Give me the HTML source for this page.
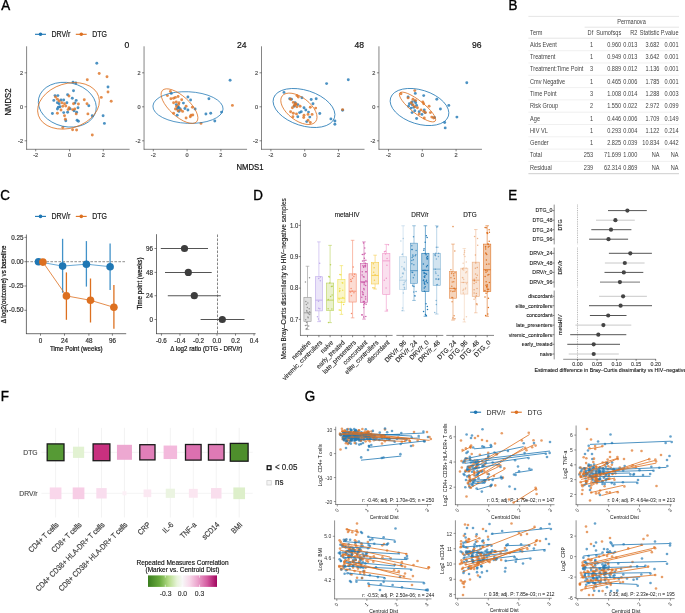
<!DOCTYPE html><html><head><meta charset="utf-8"><style>html,body{margin:0;padding:0;background:#fff;}svg{display:block;will-change:transform;}svg text{font-family:"Liberation Sans",sans-serif;}</style></head><body><svg width="685" height="613" viewBox="0 0 685 613"><rect width="685" height="613" fill="#fff"/>
<circle cx="96.8" cy="63.3" r="1.45" fill="rgba(31,119,180,0.800)"/>
<circle cx="73" cy="82.1" r="1.45" fill="rgba(31,119,180,0.800)"/>
<circle cx="75.8" cy="83" r="1.45" fill="rgba(31,119,180,0.800)"/>
<circle cx="73.5" cy="90.7" r="1.45" fill="rgba(31,119,180,0.800)"/>
<circle cx="108" cy="87" r="1.45" fill="rgba(31,119,180,0.800)"/>
<circle cx="55" cy="95.6" r="1.45" fill="rgba(31,119,180,0.800)"/>
<circle cx="57.9" cy="95.6" r="1.45" fill="rgba(31,119,180,0.800)"/>
<circle cx="67.6" cy="94.7" r="1.45" fill="rgba(31,119,180,0.800)"/>
<circle cx="72.3" cy="98.3" r="1.45" fill="rgba(31,119,180,0.800)"/>
<circle cx="53.8" cy="100.4" r="1.45" fill="rgba(31,119,180,0.800)"/>
<circle cx="76.2" cy="100.4" r="1.45" fill="rgba(31,119,180,0.800)"/>
<circle cx="61" cy="100" r="1.45" fill="rgba(31,119,180,0.800)"/>
<circle cx="63.7" cy="100" r="1.45" fill="rgba(31,119,180,0.800)"/>
<circle cx="57.4" cy="102.8" r="1.45" fill="rgba(31,119,180,0.800)"/>
<circle cx="59.2" cy="103.7" r="1.45" fill="rgba(31,119,180,0.800)"/>
<circle cx="66.9" cy="102.8" r="1.45" fill="rgba(31,119,180,0.800)"/>
<circle cx="75" cy="103" r="1.45" fill="rgba(31,119,180,0.800)"/>
<circle cx="78" cy="107.8" r="1.45" fill="rgba(31,119,180,0.800)"/>
<circle cx="88.8" cy="105.8" r="1.45" fill="rgba(31,119,180,0.800)"/>
<circle cx="58.3" cy="107.2" r="1.45" fill="rgba(31,119,180,0.800)"/>
<circle cx="60" cy="106.7" r="1.45" fill="rgba(31,119,180,0.800)"/>
<circle cx="57.4" cy="109" r="1.45" fill="rgba(31,119,180,0.800)"/>
<circle cx="70" cy="108.7" r="1.45" fill="rgba(31,119,180,0.800)"/>
<circle cx="74" cy="110.8" r="1.45" fill="rgba(31,119,180,0.800)"/>
<circle cx="76.6" cy="112.3" r="1.45" fill="rgba(31,119,180,0.800)"/>
<circle cx="52.4" cy="113.5" r="1.45" fill="rgba(31,119,180,0.800)"/>
<circle cx="63.7" cy="112.6" r="1.45" fill="rgba(31,119,180,0.800)"/>
<circle cx="67.6" cy="112.3" r="1.45" fill="rgba(31,119,180,0.800)"/>
<circle cx="92.3" cy="115.8" r="1.45" fill="rgba(31,119,180,0.800)"/>
<circle cx="103.1" cy="115.8" r="1.45" fill="rgba(31,119,180,0.800)"/>
<circle cx="65.8" cy="120.7" r="1.45" fill="rgba(31,119,180,0.800)"/>
<circle cx="77.1" cy="120.3" r="1.45" fill="rgba(31,119,180,0.800)"/>
<circle cx="78.4" cy="121.2" r="1.45" fill="rgba(31,119,180,0.800)"/>
<circle cx="104.4" cy="123.4" r="1.45" fill="rgba(31,119,180,0.800)"/>
<circle cx="99.2" cy="73.5" r="1.45" fill="rgba(221,112,32,0.800)"/>
<circle cx="107" cy="76.8" r="1.45" fill="rgba(221,112,32,0.800)"/>
<circle cx="87.3" cy="79.8" r="1.45" fill="rgba(221,112,32,0.800)"/>
<circle cx="108" cy="92" r="1.45" fill="rgba(221,112,32,0.800)"/>
<circle cx="69" cy="96" r="1.45" fill="rgba(221,112,32,0.800)"/>
<circle cx="101.3" cy="97.4" r="1.45" fill="rgba(221,112,32,0.800)"/>
<circle cx="111.2" cy="101.3" r="1.45" fill="rgba(221,112,32,0.800)"/>
<circle cx="84.3" cy="99.7" r="1.45" fill="rgba(221,112,32,0.800)"/>
<circle cx="55.6" cy="97" r="1.45" fill="rgba(221,112,32,0.800)"/>
<circle cx="57.4" cy="99.2" r="1.45" fill="rgba(221,112,32,0.800)"/>
<circle cx="59.2" cy="101" r="1.45" fill="rgba(221,112,32,0.800)"/>
<circle cx="61.9" cy="102.8" r="1.45" fill="rgba(221,112,32,0.800)"/>
<circle cx="64.5" cy="103.7" r="1.45" fill="rgba(221,112,32,0.800)"/>
<circle cx="73.5" cy="103.7" r="1.45" fill="rgba(221,112,32,0.800)"/>
<circle cx="78.4" cy="104" r="1.45" fill="rgba(221,112,32,0.800)"/>
<circle cx="87" cy="103.7" r="1.45" fill="rgba(221,112,32,0.800)"/>
<circle cx="62.8" cy="106.3" r="1.45" fill="rgba(221,112,32,0.800)"/>
<circle cx="65.8" cy="106" r="1.45" fill="rgba(221,112,32,0.800)"/>
<circle cx="69" cy="107.8" r="1.45" fill="rgba(221,112,32,0.800)"/>
<circle cx="68.1" cy="109.6" r="1.45" fill="rgba(221,112,32,0.800)"/>
<circle cx="61" cy="110" r="1.45" fill="rgba(221,112,32,0.800)"/>
<circle cx="72.6" cy="109.6" r="1.45" fill="rgba(221,112,32,0.800)"/>
<circle cx="74.8" cy="109" r="1.45" fill="rgba(221,112,32,0.800)"/>
<circle cx="57.4" cy="113.2" r="1.45" fill="rgba(221,112,32,0.800)"/>
<circle cx="76.2" cy="113.9" r="1.45" fill="rgba(221,112,32,0.800)"/>
<circle cx="87.9" cy="113.9" r="1.45" fill="rgba(221,112,32,0.800)"/>
<circle cx="64.5" cy="115.7" r="1.45" fill="rgba(221,112,32,0.800)"/>
<circle cx="65.4" cy="119.3" r="1.45" fill="rgba(221,112,32,0.800)"/>
<circle cx="62.8" cy="127.5" r="1.45" fill="rgba(221,112,32,0.800)"/>
<circle cx="72.6" cy="129.7" r="1.45" fill="rgba(221,112,32,0.800)"/>
<circle cx="76.6" cy="130" r="1.45" fill="rgba(221,112,32,0.800)"/>
<circle cx="92.3" cy="135" r="1.45" fill="rgba(221,112,32,0.800)"/>
<ellipse cx="67.3" cy="104.7" rx="29.3" ry="22" transform="rotate(12.7 67.3 104.7)" fill="none" stroke="rgb(31,119,180)" stroke-width="0.75"/>
<ellipse cx="68.5" cy="105.85" rx="31.6" ry="22.3" transform="rotate(-17.3 68.5 105.85)" fill="none" stroke="rgb(221,112,32)" stroke-width="0.75"/>
<circle cx="230.1" cy="80.3" r="1.45" fill="rgba(31,119,180,0.800)"/>
<circle cx="171.3" cy="93.4" r="1.45" fill="rgba(31,119,180,0.800)"/>
<circle cx="187.9" cy="97" r="1.45" fill="rgba(31,119,180,0.800)"/>
<circle cx="190.6" cy="100" r="1.45" fill="rgba(31,119,180,0.800)"/>
<circle cx="208.9" cy="98.8" r="1.45" fill="rgba(31,119,180,0.800)"/>
<circle cx="183.4" cy="103.1" r="1.45" fill="rgba(31,119,180,0.800)"/>
<circle cx="176.3" cy="104.6" r="1.45" fill="rgba(31,119,180,0.800)"/>
<circle cx="178" cy="106.7" r="1.45" fill="rgba(31,119,180,0.800)"/>
<circle cx="177.2" cy="109" r="1.45" fill="rgba(31,119,180,0.800)"/>
<circle cx="184.9" cy="108.5" r="1.45" fill="rgba(31,119,180,0.800)"/>
<circle cx="187.9" cy="110" r="1.45" fill="rgba(31,119,180,0.800)"/>
<circle cx="195.1" cy="109" r="1.45" fill="rgba(31,119,180,0.800)"/>
<circle cx="179" cy="111.4" r="1.45" fill="rgba(31,119,180,0.800)"/>
<circle cx="177.2" cy="115.3" r="1.45" fill="rgba(31,119,180,0.800)"/>
<circle cx="205.9" cy="114" r="1.45" fill="rgba(31,119,180,0.800)"/>
<circle cx="210.7" cy="113.2" r="1.45" fill="rgba(31,119,180,0.800)"/>
<circle cx="221.5" cy="112.1" r="1.45" fill="rgba(31,119,180,0.800)"/>
<circle cx="214.8" cy="121" r="1.45" fill="rgba(31,119,180,0.800)"/>
<circle cx="178.5" cy="107.5" r="1.45" fill="rgba(31,119,180,0.800)"/>
<circle cx="180" cy="108.8" r="1.45" fill="rgba(31,119,180,0.800)"/>
<circle cx="170.9" cy="98.8" r="1.45" fill="rgba(221,112,32,0.800)"/>
<circle cx="173.6" cy="98.3" r="1.45" fill="rgba(221,112,32,0.800)"/>
<circle cx="175.4" cy="97.4" r="1.45" fill="rgba(221,112,32,0.800)"/>
<circle cx="178.1" cy="96.5" r="1.45" fill="rgba(221,112,32,0.800)"/>
<circle cx="181.7" cy="99.7" r="1.45" fill="rgba(221,112,32,0.800)"/>
<circle cx="173.6" cy="102.8" r="1.45" fill="rgba(221,112,32,0.800)"/>
<circle cx="176.3" cy="101.9" r="1.45" fill="rgba(221,112,32,0.800)"/>
<circle cx="179" cy="102.8" r="1.45" fill="rgba(221,112,32,0.800)"/>
<circle cx="186.1" cy="106.3" r="1.45" fill="rgba(221,112,32,0.800)"/>
<circle cx="175.4" cy="109" r="1.45" fill="rgba(221,112,32,0.800)"/>
<circle cx="178" cy="110.8" r="1.45" fill="rgba(221,112,32,0.800)"/>
<circle cx="180.8" cy="110" r="1.45" fill="rgba(221,112,32,0.800)"/>
<circle cx="192.4" cy="107.2" r="1.45" fill="rgba(221,112,32,0.800)"/>
<circle cx="173.6" cy="113.2" r="1.45" fill="rgba(221,112,32,0.800)"/>
<circle cx="182.6" cy="111.4" r="1.45" fill="rgba(221,112,32,0.800)"/>
<circle cx="186.1" cy="118" r="1.45" fill="rgba(221,112,32,0.800)"/>
<circle cx="190.3" cy="116.7" r="1.45" fill="rgba(221,112,32,0.800)"/>
<circle cx="191" cy="115.3" r="1.45" fill="rgba(221,112,32,0.800)"/>
<circle cx="192.8" cy="115" r="1.45" fill="rgba(221,112,32,0.800)"/>
<circle cx="201" cy="123.4" r="1.45" fill="rgba(221,112,32,0.800)"/>
<circle cx="232.4" cy="105.4" r="1.45" fill="rgba(221,112,32,0.800)"/>
<circle cx="167.4" cy="95.6" r="1.45" fill="rgba(221,112,32,0.800)"/>
<circle cx="178.6" cy="104.5" r="1.45" fill="rgba(221,112,32,0.800)"/>
<circle cx="176.5" cy="106.5" r="1.45" fill="rgba(221,112,32,0.800)"/>
<circle cx="170.4" cy="91.4" r="1.45" fill="rgba(221,112,32,0.800)"/>
<ellipse cx="188" cy="107.55" rx="35.1" ry="15.8" transform="rotate(2.5 188 107.55)" fill="none" stroke="rgb(31,119,180)" stroke-width="0.75"/>
<ellipse cx="179.5" cy="106.1" rx="23.2" ry="10" transform="rotate(42.4 179.5 106.1)" fill="none" stroke="rgb(221,112,32)" stroke-width="0.75"/>
<circle cx="348.3" cy="79.8" r="1.45" fill="rgba(31,119,180,0.800)"/>
<circle cx="326.6" cy="83.6" r="1.45" fill="rgba(31,119,180,0.800)"/>
<circle cx="284" cy="92.4" r="1.45" fill="rgba(31,119,180,0.800)"/>
<circle cx="289.7" cy="98.8" r="1.45" fill="rgba(31,119,180,0.800)"/>
<circle cx="291.5" cy="99.2" r="1.45" fill="rgba(31,119,180,0.800)"/>
<circle cx="301.9" cy="97.7" r="1.45" fill="rgba(31,119,180,0.800)"/>
<circle cx="311.2" cy="99.5" r="1.45" fill="rgba(31,119,180,0.800)"/>
<circle cx="316.2" cy="98.8" r="1.45" fill="rgba(31,119,180,0.800)"/>
<circle cx="313" cy="103.7" r="1.45" fill="rgba(31,119,180,0.800)"/>
<circle cx="295.1" cy="102.8" r="1.45" fill="rgba(31,119,180,0.800)"/>
<circle cx="297.8" cy="104.6" r="1.45" fill="rgba(31,119,180,0.800)"/>
<circle cx="294.2" cy="106.3" r="1.45" fill="rgba(31,119,180,0.800)"/>
<circle cx="304" cy="107.8" r="1.45" fill="rgba(31,119,180,0.800)"/>
<circle cx="305.8" cy="110" r="1.45" fill="rgba(31,119,180,0.800)"/>
<circle cx="299.6" cy="112.6" r="1.45" fill="rgba(31,119,180,0.800)"/>
<circle cx="301.3" cy="111.7" r="1.45" fill="rgba(31,119,180,0.800)"/>
<circle cx="308.5" cy="112.1" r="1.45" fill="rgba(31,119,180,0.800)"/>
<circle cx="309.8" cy="117.1" r="1.45" fill="rgba(31,119,180,0.800)"/>
<circle cx="297.8" cy="116.7" r="1.45" fill="rgba(31,119,180,0.800)"/>
<circle cx="319.8" cy="113.5" r="1.45" fill="rgba(31,119,180,0.800)"/>
<circle cx="306.7" cy="121.6" r="1.45" fill="rgba(31,119,180,0.800)"/>
<circle cx="330.9" cy="118.9" r="1.45" fill="rgba(31,119,180,0.800)"/>
<circle cx="334.9" cy="121" r="1.45" fill="rgba(31,119,180,0.800)"/>
<circle cx="334.9" cy="124.3" r="1.45" fill="rgba(31,119,180,0.800)"/>
<circle cx="342.6" cy="110.3" r="1.45" fill="rgba(31,119,180,0.800)"/>
<circle cx="296.9" cy="95.6" r="1.45" fill="rgba(221,112,32,0.800)"/>
<circle cx="298.3" cy="97" r="1.45" fill="rgba(221,112,32,0.800)"/>
<circle cx="290.6" cy="99.2" r="1.45" fill="rgba(221,112,32,0.800)"/>
<circle cx="293.3" cy="102.4" r="1.45" fill="rgba(221,112,32,0.800)"/>
<circle cx="296" cy="103.7" r="1.45" fill="rgba(221,112,32,0.800)"/>
<circle cx="294.2" cy="105.4" r="1.45" fill="rgba(221,112,32,0.800)"/>
<circle cx="296.9" cy="106.7" r="1.45" fill="rgba(221,112,32,0.800)"/>
<circle cx="292.4" cy="107.8" r="1.45" fill="rgba(221,112,32,0.800)"/>
<circle cx="300.1" cy="106.3" r="1.45" fill="rgba(221,112,32,0.800)"/>
<circle cx="310.3" cy="107.2" r="1.45" fill="rgba(221,112,32,0.800)"/>
<circle cx="315.7" cy="108.1" r="1.45" fill="rgba(221,112,32,0.800)"/>
<circle cx="290.6" cy="111.7" r="1.45" fill="rgba(221,112,32,0.800)"/>
<circle cx="293.3" cy="113.2" r="1.45" fill="rgba(221,112,32,0.800)"/>
<circle cx="296.5" cy="113.9" r="1.45" fill="rgba(221,112,32,0.800)"/>
<circle cx="304" cy="115.3" r="1.45" fill="rgba(221,112,32,0.800)"/>
<circle cx="303.7" cy="117.5" r="1.45" fill="rgba(221,112,32,0.800)"/>
<circle cx="308" cy="114.4" r="1.45" fill="rgba(221,112,32,0.800)"/>
<circle cx="312.1" cy="114.4" r="1.45" fill="rgba(221,112,32,0.800)"/>
<circle cx="292.9" cy="116.7" r="1.45" fill="rgba(221,112,32,0.800)"/>
<circle cx="308" cy="120.3" r="1.45" fill="rgba(221,112,32,0.800)"/>
<circle cx="310.3" cy="122.5" r="1.45" fill="rgba(221,112,32,0.800)"/>
<circle cx="342.6" cy="109.6" r="1.45" fill="rgba(221,112,32,0.800)"/>
<circle cx="295.5" cy="104.5" r="1.45" fill="rgba(221,112,32,0.800)"/>
<ellipse cx="304" cy="108" rx="32" ry="17.7" transform="rotate(18 304 108)" fill="none" stroke="rgb(31,119,180)" stroke-width="0.75"/>
<ellipse cx="298.9" cy="108.8" rx="21.1" ry="11.4" transform="rotate(37.5 298.9 108.8)" fill="none" stroke="rgb(221,112,32)" stroke-width="0.75"/>
<circle cx="466.8" cy="82.7" r="1.45" fill="rgba(31,119,180,0.800)"/>
<circle cx="415.3" cy="93.4" r="1.45" fill="rgba(31,119,180,0.800)"/>
<circle cx="423.7" cy="95.6" r="1.45" fill="rgba(31,119,180,0.800)"/>
<circle cx="408.1" cy="97" r="1.45" fill="rgba(31,119,180,0.800)"/>
<circle cx="436.8" cy="99.2" r="1.45" fill="rgba(31,119,180,0.800)"/>
<circle cx="448.8" cy="105.4" r="1.45" fill="rgba(31,119,180,0.800)"/>
<circle cx="440.4" cy="109" r="1.45" fill="rgba(31,119,180,0.800)"/>
<circle cx="412.1" cy="101.9" r="1.45" fill="rgba(31,119,180,0.800)"/>
<circle cx="414.8" cy="101" r="1.45" fill="rgba(31,119,180,0.800)"/>
<circle cx="409.4" cy="103.7" r="1.45" fill="rgba(31,119,180,0.800)"/>
<circle cx="412.1" cy="104.6" r="1.45" fill="rgba(31,119,180,0.800)"/>
<circle cx="415.7" cy="102.8" r="1.45" fill="rgba(31,119,180,0.800)"/>
<circle cx="408.5" cy="106.3" r="1.45" fill="rgba(31,119,180,0.800)"/>
<circle cx="411.2" cy="108.1" r="1.45" fill="rgba(31,119,180,0.800)"/>
<circle cx="413.9" cy="107.2" r="1.45" fill="rgba(31,119,180,0.800)"/>
<circle cx="416.6" cy="105.4" r="1.45" fill="rgba(31,119,180,0.800)"/>
<circle cx="419.2" cy="111.7" r="1.45" fill="rgba(31,119,180,0.800)"/>
<circle cx="421.9" cy="114.4" r="1.45" fill="rgba(31,119,180,0.800)"/>
<circle cx="424.3" cy="110" r="1.45" fill="rgba(31,119,180,0.800)"/>
<circle cx="425" cy="112.6" r="1.45" fill="rgba(31,119,180,0.800)"/>
<circle cx="412.1" cy="112.6" r="1.45" fill="rgba(31,119,180,0.800)"/>
<circle cx="414.8" cy="110.8" r="1.45" fill="rgba(31,119,180,0.800)"/>
<circle cx="416.6" cy="118.5" r="1.45" fill="rgba(31,119,180,0.800)"/>
<circle cx="434.5" cy="117.5" r="1.45" fill="rgba(31,119,180,0.800)"/>
<circle cx="456.9" cy="117.1" r="1.45" fill="rgba(31,119,180,0.800)"/>
<circle cx="444.7" cy="122.5" r="1.45" fill="rgba(31,119,180,0.800)"/>
<circle cx="445.2" cy="127.9" r="1.45" fill="rgba(31,119,180,0.800)"/>
<circle cx="414.8" cy="90.6" r="1.45" fill="rgba(221,112,32,0.800)"/>
<circle cx="401" cy="93.8" r="1.45" fill="rgba(221,112,32,0.800)"/>
<circle cx="408.1" cy="97.9" r="1.45" fill="rgba(221,112,32,0.800)"/>
<circle cx="413" cy="99.2" r="1.45" fill="rgba(221,112,32,0.800)"/>
<circle cx="415.7" cy="100.6" r="1.45" fill="rgba(221,112,32,0.800)"/>
<circle cx="422.8" cy="101.9" r="1.45" fill="rgba(221,112,32,0.800)"/>
<circle cx="423.7" cy="103.7" r="1.45" fill="rgba(221,112,32,0.800)"/>
<circle cx="411.2" cy="102.8" r="1.45" fill="rgba(221,112,32,0.800)"/>
<circle cx="413" cy="104.9" r="1.45" fill="rgba(221,112,32,0.800)"/>
<circle cx="414.8" cy="106.7" r="1.45" fill="rgba(221,112,32,0.800)"/>
<circle cx="417.4" cy="107.8" r="1.45" fill="rgba(221,112,32,0.800)"/>
<circle cx="429.1" cy="106.3" r="1.45" fill="rgba(221,112,32,0.800)"/>
<circle cx="421" cy="109.9" r="1.45" fill="rgba(221,112,32,0.800)"/>
<circle cx="423.7" cy="111.4" r="1.45" fill="rgba(221,112,32,0.800)"/>
<circle cx="425.5" cy="112.6" r="1.45" fill="rgba(221,112,32,0.800)"/>
<circle cx="430.4" cy="112.6" r="1.45" fill="rgba(221,112,32,0.800)"/>
<circle cx="431.8" cy="117.1" r="1.45" fill="rgba(221,112,32,0.800)"/>
<circle cx="433.6" cy="118" r="1.45" fill="rgba(221,112,32,0.800)"/>
<circle cx="424.3" cy="118" r="1.45" fill="rgba(221,112,32,0.800)"/>
<circle cx="419.2" cy="113.9" r="1.45" fill="rgba(221,112,32,0.800)"/>
<ellipse cx="419.5" cy="107" rx="30.3" ry="17" transform="rotate(17.4 419.5 107)" fill="none" stroke="rgb(31,119,180)" stroke-width="0.75"/>
<ellipse cx="417.5" cy="107" rx="22.6" ry="6.4" transform="rotate(38.4 417.5 107)" fill="none" stroke="rgb(221,112,32)" stroke-width="0.75"/>
<text x="1.3" y="9.9" font-size="13.4" text-anchor="start" fill="#000" transform="translate(1.3 9.9) scale(1 1.08) translate(-1.3 -9.9)" stroke="#000" stroke-width="0.35">A</text>
<line x1="35" y1="34.3" x2="46" y2="34.3" stroke="rgb(31,119,180)" stroke-width="1.1"/>
<circle cx="40.5" cy="34.3" r="1.8" fill="rgb(31,119,180)"/>
<text x="51.5" y="36.85" font-size="7" text-anchor="start" fill="#222" transform="translate(51.5 36.85) scale(1 1.2) translate(-51.5 -36.85)" stroke="#222" stroke-width="0.18">DRV/r</text>
<line x1="75.8" y1="34.3" x2="86.7" y2="34.3" stroke="rgb(221,112,32)" stroke-width="1.1"/>
<circle cx="81.3" cy="34.3" r="1.8" fill="rgb(221,112,32)"/>
<text x="92.3" y="36.85" font-size="7" text-anchor="start" fill="#222" transform="translate(92.3 36.85) scale(1 1.2) translate(-92.3 -36.85)" stroke="#222" stroke-width="0.18">DTG</text>
<text x="10.8" y="102" font-size="7.7" text-anchor="middle" fill="#111" transform="rotate(-90 10.8 102) translate(10.8 102) scale(1 1.2) translate(-10.8 -102)" stroke="#111" stroke-width="0.18">NMDS2</text>
<text x="250" y="170" font-size="7.7" text-anchor="middle" fill="#111" transform="translate(250 170) scale(1 1.2) translate(-250 -170)" stroke="#111" stroke-width="0.18">NMDS1</text>
<line x1="26.6" y1="46.3" x2="26.6" y2="149.6" stroke="#333" stroke-width="0.6"/>
<line x1="26.3" y1="149.3" x2="129.6" y2="149.3" stroke="#333" stroke-width="0.6"/>
<line x1="24.6" y1="72.8" x2="26.6" y2="72.8" stroke="#333" stroke-width="0.6"/>
<text x="23.1" y="74.8" font-size="5.6" text-anchor="end" fill="#4d4d4d" transform="translate(23.1 74.8) scale(1 1.08) translate(-23.1 -74.8)" stroke="#4d4d4d" stroke-width="0.18">2</text>
<line x1="24.6" y1="106.8" x2="26.6" y2="106.8" stroke="#333" stroke-width="0.6"/>
<text x="23.1" y="108.8" font-size="5.6" text-anchor="end" fill="#4d4d4d" transform="translate(23.1 108.8) scale(1 1.08) translate(-23.1 -108.8)" stroke="#4d4d4d" stroke-width="0.18">0</text>
<line x1="24.6" y1="140.8" x2="26.6" y2="140.8" stroke="#333" stroke-width="0.6"/>
<text x="23.1" y="142.8" font-size="5.6" text-anchor="end" fill="#4d4d4d" transform="translate(23.1 142.8) scale(1 1.08) translate(-23.1 -142.8)" stroke="#4d4d4d" stroke-width="0.18">-2</text>
<line x1="35.7" y1="149.3" x2="35.7" y2="151.3" stroke="#333" stroke-width="0.6"/>
<text x="35.7" y="157.3" font-size="5.6" text-anchor="middle" fill="#4d4d4d" transform="translate(35.7 157.3) scale(1 1.08) translate(-35.7 -157.3)" stroke="#4d4d4d" stroke-width="0.18">-2</text>
<line x1="69.5" y1="149.3" x2="69.5" y2="151.3" stroke="#333" stroke-width="0.6"/>
<text x="69.5" y="157.3" font-size="5.6" text-anchor="middle" fill="#4d4d4d" transform="translate(69.5 157.3) scale(1 1.08) translate(-69.5 -157.3)" stroke="#4d4d4d" stroke-width="0.18">0</text>
<line x1="103.3" y1="149.3" x2="103.3" y2="151.3" stroke="#333" stroke-width="0.6"/>
<text x="103.3" y="157.3" font-size="5.6" text-anchor="middle" fill="#4d4d4d" transform="translate(103.3 157.3) scale(1 1.08) translate(-103.3 -157.3)" stroke="#4d4d4d" stroke-width="0.18">2</text>
<text x="129.2" y="48.2" font-size="8.6" text-anchor="end" fill="#111" transform="translate(129.2 48.2) scale(1 1.02) translate(-129.2 -48.2)" stroke="#111" stroke-width="0.18">0</text>
<line x1="144.05" y1="46.3" x2="144.05" y2="149.6" stroke="#333" stroke-width="0.6"/>
<line x1="143.75" y1="149.3" x2="247.05" y2="149.3" stroke="#333" stroke-width="0.6"/>
<line x1="142.05" y1="72.8" x2="144.05" y2="72.8" stroke="#333" stroke-width="0.6"/>
<text x="140.55" y="74.8" font-size="5.6" text-anchor="end" fill="#4d4d4d" transform="translate(140.55 74.8) scale(1 1.08) translate(-140.55 -74.8)" stroke="#4d4d4d" stroke-width="0.18">2</text>
<line x1="142.05" y1="106.8" x2="144.05" y2="106.8" stroke="#333" stroke-width="0.6"/>
<text x="140.55" y="108.8" font-size="5.6" text-anchor="end" fill="#4d4d4d" transform="translate(140.55 108.8) scale(1 1.08) translate(-140.55 -108.8)" stroke="#4d4d4d" stroke-width="0.18">0</text>
<line x1="142.05" y1="140.8" x2="144.05" y2="140.8" stroke="#333" stroke-width="0.6"/>
<text x="140.55" y="142.8" font-size="5.6" text-anchor="end" fill="#4d4d4d" transform="translate(140.55 142.8) scale(1 1.08) translate(-140.55 -142.8)" stroke="#4d4d4d" stroke-width="0.18">-2</text>
<line x1="153.3" y1="149.3" x2="153.3" y2="151.3" stroke="#333" stroke-width="0.6"/>
<text x="153.3" y="157.3" font-size="5.6" text-anchor="middle" fill="#4d4d4d" transform="translate(153.3 157.3) scale(1 1.08) translate(-153.3 -157.3)" stroke="#4d4d4d" stroke-width="0.18">-2</text>
<line x1="187.1" y1="149.3" x2="187.1" y2="151.3" stroke="#333" stroke-width="0.6"/>
<text x="187.1" y="157.3" font-size="5.6" text-anchor="middle" fill="#4d4d4d" transform="translate(187.1 157.3) scale(1 1.08) translate(-187.1 -157.3)" stroke="#4d4d4d" stroke-width="0.18">0</text>
<line x1="220.9" y1="149.3" x2="220.9" y2="151.3" stroke="#333" stroke-width="0.6"/>
<text x="220.9" y="157.3" font-size="5.6" text-anchor="middle" fill="#4d4d4d" transform="translate(220.9 157.3) scale(1 1.08) translate(-220.9 -157.3)" stroke="#4d4d4d" stroke-width="0.18">2</text>
<text x="246.65" y="48.2" font-size="8.6" text-anchor="end" fill="#111" transform="translate(246.65 48.2) scale(1 1.02) translate(-246.65 -48.2)" stroke="#111" stroke-width="0.18">24</text>
<line x1="261.5" y1="46.3" x2="261.5" y2="149.6" stroke="#333" stroke-width="0.6"/>
<line x1="261.2" y1="149.3" x2="364.5" y2="149.3" stroke="#333" stroke-width="0.6"/>
<line x1="259.5" y1="72.8" x2="261.5" y2="72.8" stroke="#333" stroke-width="0.6"/>
<text x="258" y="74.8" font-size="5.6" text-anchor="end" fill="#4d4d4d" transform="translate(258 74.8) scale(1 1.08) translate(-258 -74.8)" stroke="#4d4d4d" stroke-width="0.18">2</text>
<line x1="259.5" y1="106.8" x2="261.5" y2="106.8" stroke="#333" stroke-width="0.6"/>
<text x="258" y="108.8" font-size="5.6" text-anchor="end" fill="#4d4d4d" transform="translate(258 108.8) scale(1 1.08) translate(-258 -108.8)" stroke="#4d4d4d" stroke-width="0.18">0</text>
<line x1="259.5" y1="140.8" x2="261.5" y2="140.8" stroke="#333" stroke-width="0.6"/>
<text x="258" y="142.8" font-size="5.6" text-anchor="end" fill="#4d4d4d" transform="translate(258 142.8) scale(1 1.08) translate(-258 -142.8)" stroke="#4d4d4d" stroke-width="0.18">-2</text>
<line x1="270.9" y1="149.3" x2="270.9" y2="151.3" stroke="#333" stroke-width="0.6"/>
<text x="270.9" y="157.3" font-size="5.6" text-anchor="middle" fill="#4d4d4d" transform="translate(270.9 157.3) scale(1 1.08) translate(-270.9 -157.3)" stroke="#4d4d4d" stroke-width="0.18">-2</text>
<line x1="304.7" y1="149.3" x2="304.7" y2="151.3" stroke="#333" stroke-width="0.6"/>
<text x="304.7" y="157.3" font-size="5.6" text-anchor="middle" fill="#4d4d4d" transform="translate(304.7 157.3) scale(1 1.08) translate(-304.7 -157.3)" stroke="#4d4d4d" stroke-width="0.18">0</text>
<line x1="338.5" y1="149.3" x2="338.5" y2="151.3" stroke="#333" stroke-width="0.6"/>
<text x="338.5" y="157.3" font-size="5.6" text-anchor="middle" fill="#4d4d4d" transform="translate(338.5 157.3) scale(1 1.08) translate(-338.5 -157.3)" stroke="#4d4d4d" stroke-width="0.18">2</text>
<text x="364.1" y="48.2" font-size="8.6" text-anchor="end" fill="#111" transform="translate(364.1 48.2) scale(1 1.02) translate(-364.1 -48.2)" stroke="#111" stroke-width="0.18">48</text>
<line x1="378.95" y1="46.3" x2="378.95" y2="149.6" stroke="#333" stroke-width="0.6"/>
<line x1="378.65" y1="149.3" x2="481.95" y2="149.3" stroke="#333" stroke-width="0.6"/>
<line x1="376.95" y1="72.8" x2="378.95" y2="72.8" stroke="#333" stroke-width="0.6"/>
<text x="375.45" y="74.8" font-size="5.6" text-anchor="end" fill="#4d4d4d" transform="translate(375.45 74.8) scale(1 1.08) translate(-375.45 -74.8)" stroke="#4d4d4d" stroke-width="0.18">2</text>
<line x1="376.95" y1="106.8" x2="378.95" y2="106.8" stroke="#333" stroke-width="0.6"/>
<text x="375.45" y="108.8" font-size="5.6" text-anchor="end" fill="#4d4d4d" transform="translate(375.45 108.8) scale(1 1.08) translate(-375.45 -108.8)" stroke="#4d4d4d" stroke-width="0.18">0</text>
<line x1="376.95" y1="140.8" x2="378.95" y2="140.8" stroke="#333" stroke-width="0.6"/>
<text x="375.45" y="142.8" font-size="5.6" text-anchor="end" fill="#4d4d4d" transform="translate(375.45 142.8) scale(1 1.08) translate(-375.45 -142.8)" stroke="#4d4d4d" stroke-width="0.18">-2</text>
<line x1="388.5" y1="149.3" x2="388.5" y2="151.3" stroke="#333" stroke-width="0.6"/>
<text x="388.5" y="157.3" font-size="5.6" text-anchor="middle" fill="#4d4d4d" transform="translate(388.5 157.3) scale(1 1.08) translate(-388.5 -157.3)" stroke="#4d4d4d" stroke-width="0.18">-2</text>
<line x1="422.3" y1="149.3" x2="422.3" y2="151.3" stroke="#333" stroke-width="0.6"/>
<text x="422.3" y="157.3" font-size="5.6" text-anchor="middle" fill="#4d4d4d" transform="translate(422.3 157.3) scale(1 1.08) translate(-422.3 -157.3)" stroke="#4d4d4d" stroke-width="0.18">0</text>
<line x1="456.1" y1="149.3" x2="456.1" y2="151.3" stroke="#333" stroke-width="0.6"/>
<text x="456.1" y="157.3" font-size="5.6" text-anchor="middle" fill="#4d4d4d" transform="translate(456.1 157.3) scale(1 1.08) translate(-456.1 -157.3)" stroke="#4d4d4d" stroke-width="0.18">2</text>
<text x="481.55" y="48.2" font-size="8.6" text-anchor="end" fill="#111" transform="translate(481.55 48.2) scale(1 1.02) translate(-481.55 -48.2)" stroke="#111" stroke-width="0.18">96</text>
<text x="508.4" y="9.9" font-size="13.4" text-anchor="start" fill="#000" transform="translate(508.4 9.9) scale(1 1.08) translate(-508.4 -9.9)" stroke="#000" stroke-width="0.35">B</text>
<line x1="528.4" y1="16.4" x2="679" y2="16.4" stroke="#d3d3d3" stroke-width="0.6"/>
<text x="631.5" y="24.1" font-size="5.6" text-anchor="middle" fill="#444444" transform="translate(631.5 24.1) scale(1 1.2) translate(-631.5 -24.1)">Permanova</text>
<line x1="584.6" y1="27.2" x2="679" y2="27.2" stroke="#d3d3d3" stroke-width="0.6"/>
<text x="530.1" y="34.9" font-size="5.6" text-anchor="start" fill="#444444" transform="translate(530.1 34.9) scale(1 1.2) translate(-530.1 -34.9)">Term</text>
<text x="593.2" y="34.9" font-size="5.6" text-anchor="end" fill="#444444" transform="translate(593.2 34.9) scale(1 1.2) translate(-593.2 -34.9)">Df</text>
<text x="621.2" y="34.9" font-size="5.6" text-anchor="end" fill="#444444" transform="translate(621.2 34.9) scale(1 1.2) translate(-621.2 -34.9)">Sumofsqs</text>
<text x="637.3" y="34.9" font-size="5.6" text-anchor="end" fill="#444444" transform="translate(637.3 34.9) scale(1 1.2) translate(-637.3 -34.9)">R2</text>
<text x="659.4" y="34.9" font-size="5.6" text-anchor="end" fill="#444444" transform="translate(659.4 34.9) scale(1 1.2) translate(-659.4 -34.9)">Statistic</text>
<text x="678.6" y="34.9" font-size="5.6" text-anchor="end" fill="#444444" transform="translate(678.6 34.9) scale(1 1.2) translate(-678.6 -34.9)">P.value</text>
<line x1="528.4" y1="38.2" x2="679" y2="38.2" stroke="#d3d3d3" stroke-width="0.6"/>
<text x="530.1" y="46.8" font-size="5.6" text-anchor="start" fill="#444444" transform="translate(530.1 46.8) scale(1 1.2) translate(-530.1 -46.8)">Aids Event</text>
<text x="593.2" y="46.8" font-size="5.6" text-anchor="end" fill="#444444" transform="translate(593.2 46.8) scale(1 1.2) translate(-593.2 -46.8)">1</text>
<text x="621.2" y="46.8" font-size="5.6" text-anchor="end" fill="#444444" transform="translate(621.2 46.8) scale(1 1.2) translate(-621.2 -46.8)">0.960</text>
<text x="637.3" y="46.8" font-size="5.6" text-anchor="end" fill="#444444" transform="translate(637.3 46.8) scale(1 1.2) translate(-637.3 -46.8)">0.013</text>
<text x="659.4" y="46.8" font-size="5.6" text-anchor="end" fill="#444444" transform="translate(659.4 46.8) scale(1 1.2) translate(-659.4 -46.8)">3.682</text>
<text x="678.6" y="46.8" font-size="5.6" text-anchor="end" fill="#444444" transform="translate(678.6 46.8) scale(1 1.2) translate(-678.6 -46.8)">0.001</text>
<line x1="528.4" y1="50.7" x2="679" y2="50.7" stroke="#e6e6e6" stroke-width="0.6"/>
<text x="530.1" y="59.1" font-size="5.6" text-anchor="start" fill="#444444" transform="translate(530.1 59.1) scale(1 1.2) translate(-530.1 -59.1)">Treatment</text>
<text x="593.2" y="59.1" font-size="5.6" text-anchor="end" fill="#444444" transform="translate(593.2 59.1) scale(1 1.2) translate(-593.2 -59.1)">1</text>
<text x="621.2" y="59.1" font-size="5.6" text-anchor="end" fill="#444444" transform="translate(621.2 59.1) scale(1 1.2) translate(-621.2 -59.1)">0.949</text>
<text x="637.3" y="59.1" font-size="5.6" text-anchor="end" fill="#444444" transform="translate(637.3 59.1) scale(1 1.2) translate(-637.3 -59.1)">0.013</text>
<text x="659.4" y="59.1" font-size="5.6" text-anchor="end" fill="#444444" transform="translate(659.4 59.1) scale(1 1.2) translate(-659.4 -59.1)">3.642</text>
<text x="678.6" y="59.1" font-size="5.6" text-anchor="end" fill="#444444" transform="translate(678.6 59.1) scale(1 1.2) translate(-678.6 -59.1)">0.001</text>
<line x1="528.4" y1="63" x2="679" y2="63" stroke="#e6e6e6" stroke-width="0.6"/>
<text x="530.1" y="71.4" font-size="5.6" text-anchor="start" fill="#444444" transform="translate(530.1 71.4) scale(1 1.2) translate(-530.1 -71.4)">Treatment:Time Point</text>
<text x="593.2" y="71.4" font-size="5.6" text-anchor="end" fill="#444444" transform="translate(593.2 71.4) scale(1 1.2) translate(-593.2 -71.4)">3</text>
<text x="621.2" y="71.4" font-size="5.6" text-anchor="end" fill="#444444" transform="translate(621.2 71.4) scale(1 1.2) translate(-621.2 -71.4)">0.889</text>
<text x="637.3" y="71.4" font-size="5.6" text-anchor="end" fill="#444444" transform="translate(637.3 71.4) scale(1 1.2) translate(-637.3 -71.4)">0.012</text>
<text x="659.4" y="71.4" font-size="5.6" text-anchor="end" fill="#444444" transform="translate(659.4 71.4) scale(1 1.2) translate(-659.4 -71.4)">1.136</text>
<text x="678.6" y="71.4" font-size="5.6" text-anchor="end" fill="#444444" transform="translate(678.6 71.4) scale(1 1.2) translate(-678.6 -71.4)">0.001</text>
<line x1="528.4" y1="75.3" x2="679" y2="75.3" stroke="#e6e6e6" stroke-width="0.6"/>
<text x="530.1" y="83.7" font-size="5.6" text-anchor="start" fill="#444444" transform="translate(530.1 83.7) scale(1 1.2) translate(-530.1 -83.7)">Cmv Negative</text>
<text x="593.2" y="83.7" font-size="5.6" text-anchor="end" fill="#444444" transform="translate(593.2 83.7) scale(1 1.2) translate(-593.2 -83.7)">1</text>
<text x="621.2" y="83.7" font-size="5.6" text-anchor="end" fill="#444444" transform="translate(621.2 83.7) scale(1 1.2) translate(-621.2 -83.7)">0.465</text>
<text x="637.3" y="83.7" font-size="5.6" text-anchor="end" fill="#444444" transform="translate(637.3 83.7) scale(1 1.2) translate(-637.3 -83.7)">0.006</text>
<text x="659.4" y="83.7" font-size="5.6" text-anchor="end" fill="#444444" transform="translate(659.4 83.7) scale(1 1.2) translate(-659.4 -83.7)">1.785</text>
<text x="678.6" y="83.7" font-size="5.6" text-anchor="end" fill="#444444" transform="translate(678.6 83.7) scale(1 1.2) translate(-678.6 -83.7)">0.001</text>
<line x1="528.4" y1="87.6" x2="679" y2="87.6" stroke="#e6e6e6" stroke-width="0.6"/>
<text x="530.1" y="96" font-size="5.6" text-anchor="start" fill="#444444" transform="translate(530.1 96) scale(1 1.2) translate(-530.1 -96)">Time Point</text>
<text x="593.2" y="96" font-size="5.6" text-anchor="end" fill="#444444" transform="translate(593.2 96) scale(1 1.2) translate(-593.2 -96)">3</text>
<text x="621.2" y="96" font-size="5.6" text-anchor="end" fill="#444444" transform="translate(621.2 96) scale(1 1.2) translate(-621.2 -96)">1.008</text>
<text x="637.3" y="96" font-size="5.6" text-anchor="end" fill="#444444" transform="translate(637.3 96) scale(1 1.2) translate(-637.3 -96)">0.014</text>
<text x="659.4" y="96" font-size="5.6" text-anchor="end" fill="#444444" transform="translate(659.4 96) scale(1 1.2) translate(-659.4 -96)">1.288</text>
<text x="678.6" y="96" font-size="5.6" text-anchor="end" fill="#444444" transform="translate(678.6 96) scale(1 1.2) translate(-678.6 -96)">0.003</text>
<line x1="528.4" y1="99.9" x2="679" y2="99.9" stroke="#e6e6e6" stroke-width="0.6"/>
<text x="530.1" y="108.3" font-size="5.6" text-anchor="start" fill="#444444" transform="translate(530.1 108.3) scale(1 1.2) translate(-530.1 -108.3)">Risk Group</text>
<text x="593.2" y="108.3" font-size="5.6" text-anchor="end" fill="#444444" transform="translate(593.2 108.3) scale(1 1.2) translate(-593.2 -108.3)">2</text>
<text x="621.2" y="108.3" font-size="5.6" text-anchor="end" fill="#444444" transform="translate(621.2 108.3) scale(1 1.2) translate(-621.2 -108.3)">1.550</text>
<text x="637.3" y="108.3" font-size="5.6" text-anchor="end" fill="#444444" transform="translate(637.3 108.3) scale(1 1.2) translate(-637.3 -108.3)">0.022</text>
<text x="659.4" y="108.3" font-size="5.6" text-anchor="end" fill="#444444" transform="translate(659.4 108.3) scale(1 1.2) translate(-659.4 -108.3)">2.972</text>
<text x="678.6" y="108.3" font-size="5.6" text-anchor="end" fill="#444444" transform="translate(678.6 108.3) scale(1 1.2) translate(-678.6 -108.3)">0.099</text>
<line x1="528.4" y1="112.2" x2="679" y2="112.2" stroke="#e6e6e6" stroke-width="0.6"/>
<text x="530.1" y="120.6" font-size="5.6" text-anchor="start" fill="#444444" transform="translate(530.1 120.6) scale(1 1.2) translate(-530.1 -120.6)">Age</text>
<text x="593.2" y="120.6" font-size="5.6" text-anchor="end" fill="#444444" transform="translate(593.2 120.6) scale(1 1.2) translate(-593.2 -120.6)">1</text>
<text x="621.2" y="120.6" font-size="5.6" text-anchor="end" fill="#444444" transform="translate(621.2 120.6) scale(1 1.2) translate(-621.2 -120.6)">0.446</text>
<text x="637.3" y="120.6" font-size="5.6" text-anchor="end" fill="#444444" transform="translate(637.3 120.6) scale(1 1.2) translate(-637.3 -120.6)">0.006</text>
<text x="659.4" y="120.6" font-size="5.6" text-anchor="end" fill="#444444" transform="translate(659.4 120.6) scale(1 1.2) translate(-659.4 -120.6)">1.709</text>
<text x="678.6" y="120.6" font-size="5.6" text-anchor="end" fill="#444444" transform="translate(678.6 120.6) scale(1 1.2) translate(-678.6 -120.6)">0.149</text>
<line x1="528.4" y1="124.5" x2="679" y2="124.5" stroke="#e6e6e6" stroke-width="0.6"/>
<text x="530.1" y="132.9" font-size="5.6" text-anchor="start" fill="#444444" transform="translate(530.1 132.9) scale(1 1.2) translate(-530.1 -132.9)">HIV VL</text>
<text x="593.2" y="132.9" font-size="5.6" text-anchor="end" fill="#444444" transform="translate(593.2 132.9) scale(1 1.2) translate(-593.2 -132.9)">1</text>
<text x="621.2" y="132.9" font-size="5.6" text-anchor="end" fill="#444444" transform="translate(621.2 132.9) scale(1 1.2) translate(-621.2 -132.9)">0.293</text>
<text x="637.3" y="132.9" font-size="5.6" text-anchor="end" fill="#444444" transform="translate(637.3 132.9) scale(1 1.2) translate(-637.3 -132.9)">0.004</text>
<text x="659.4" y="132.9" font-size="5.6" text-anchor="end" fill="#444444" transform="translate(659.4 132.9) scale(1 1.2) translate(-659.4 -132.9)">1.122</text>
<text x="678.6" y="132.9" font-size="5.6" text-anchor="end" fill="#444444" transform="translate(678.6 132.9) scale(1 1.2) translate(-678.6 -132.9)">0.214</text>
<line x1="528.4" y1="136.8" x2="679" y2="136.8" stroke="#e6e6e6" stroke-width="0.6"/>
<text x="530.1" y="145.2" font-size="5.6" text-anchor="start" fill="#444444" transform="translate(530.1 145.2) scale(1 1.2) translate(-530.1 -145.2)">Gender</text>
<text x="593.2" y="145.2" font-size="5.6" text-anchor="end" fill="#444444" transform="translate(593.2 145.2) scale(1 1.2) translate(-593.2 -145.2)">1</text>
<text x="621.2" y="145.2" font-size="5.6" text-anchor="end" fill="#444444" transform="translate(621.2 145.2) scale(1 1.2) translate(-621.2 -145.2)">2.825</text>
<text x="637.3" y="145.2" font-size="5.6" text-anchor="end" fill="#444444" transform="translate(637.3 145.2) scale(1 1.2) translate(-637.3 -145.2)">0.039</text>
<text x="659.4" y="145.2" font-size="5.6" text-anchor="end" fill="#444444" transform="translate(659.4 145.2) scale(1 1.2) translate(-659.4 -145.2)">10.834</text>
<text x="678.6" y="145.2" font-size="5.6" text-anchor="end" fill="#444444" transform="translate(678.6 145.2) scale(1 1.2) translate(-678.6 -145.2)">0.442</text>
<line x1="528.4" y1="149.1" x2="679" y2="149.1" stroke="#e6e6e6" stroke-width="0.6"/>
<text x="530.1" y="157.5" font-size="5.6" text-anchor="start" fill="#444444" transform="translate(530.1 157.5) scale(1 1.2) translate(-530.1 -157.5)">Total</text>
<text x="593.2" y="157.5" font-size="5.6" text-anchor="end" fill="#444444" transform="translate(593.2 157.5) scale(1 1.2) translate(-593.2 -157.5)">253</text>
<text x="621.2" y="157.5" font-size="5.6" text-anchor="end" fill="#444444" transform="translate(621.2 157.5) scale(1 1.2) translate(-621.2 -157.5)">71.699</text>
<text x="637.3" y="157.5" font-size="5.6" text-anchor="end" fill="#444444" transform="translate(637.3 157.5) scale(1 1.2) translate(-637.3 -157.5)">1.000</text>
<text x="659.4" y="157.5" font-size="5.6" text-anchor="end" fill="#444444" transform="translate(659.4 157.5) scale(1 1.2) translate(-659.4 -157.5)">NA</text>
<text x="678.6" y="157.5" font-size="5.6" text-anchor="end" fill="#444444" transform="translate(678.6 157.5) scale(1 1.2) translate(-678.6 -157.5)">NA</text>
<line x1="528.4" y1="161.4" x2="679" y2="161.4" stroke="#e6e6e6" stroke-width="0.6"/>
<text x="530.1" y="169.8" font-size="5.6" text-anchor="start" fill="#444444" transform="translate(530.1 169.8) scale(1 1.2) translate(-530.1 -169.8)">Residual</text>
<text x="593.2" y="169.8" font-size="5.6" text-anchor="end" fill="#444444" transform="translate(593.2 169.8) scale(1 1.2) translate(-593.2 -169.8)">239</text>
<text x="621.2" y="169.8" font-size="5.6" text-anchor="end" fill="#444444" transform="translate(621.2 169.8) scale(1 1.2) translate(-621.2 -169.8)">62.314</text>
<text x="637.3" y="169.8" font-size="5.6" text-anchor="end" fill="#444444" transform="translate(637.3 169.8) scale(1 1.2) translate(-637.3 -169.8)">0.869</text>
<text x="659.4" y="169.8" font-size="5.6" text-anchor="end" fill="#444444" transform="translate(659.4 169.8) scale(1 1.2) translate(-659.4 -169.8)">NA</text>
<text x="678.6" y="169.8" font-size="5.6" text-anchor="end" fill="#444444" transform="translate(678.6 169.8) scale(1 1.2) translate(-678.6 -169.8)">NA</text>
<line x1="528.4" y1="173.7" x2="679" y2="173.7" stroke="#c8c8c8" stroke-width="0.9"/>
<text x="0.2" y="199.8" font-size="13.4" text-anchor="start" fill="#000" transform="translate(0.2 199.8) scale(1 1.08) translate(-0.2 -199.8)" stroke="#000" stroke-width="0.35">C</text>
<line x1="35" y1="216.4" x2="46" y2="216.4" stroke="rgb(31,119,180)" stroke-width="1.1"/>
<circle cx="40.5" cy="216.4" r="1.8" fill="rgb(31,119,180)"/>
<text x="51.5" y="218.95" font-size="7" text-anchor="start" fill="#222" transform="translate(51.5 218.95) scale(1 1.2) translate(-51.5 -218.95)" stroke="#222" stroke-width="0.18">DRV/r</text>
<line x1="75.8" y1="216.4" x2="86.7" y2="216.4" stroke="rgb(221,112,32)" stroke-width="1.1"/>
<circle cx="81.3" cy="216.4" r="1.8" fill="rgb(221,112,32)"/>
<text x="92.3" y="218.95" font-size="7" text-anchor="start" fill="#222" transform="translate(92.3 218.95) scale(1 1.2) translate(-92.3 -218.95)" stroke="#222" stroke-width="0.18">DTG</text>
<line x1="26.4" y1="234.5" x2="26.4" y2="334" stroke="#333" stroke-width="0.7"/>
<line x1="26.1" y1="333.7" x2="126.2" y2="333.7" stroke="#333" stroke-width="0.7"/>
<line x1="24.4" y1="237.4" x2="26.4" y2="237.4" stroke="#333" stroke-width="0.6"/>
<text x="23.4" y="239.6" font-size="6.3" text-anchor="end" fill="#333" transform="translate(23.4 239.6) scale(1 1.12) translate(-23.4 -239.6)" stroke="#333" stroke-width="0.18">0.25</text>
<line x1="24.4" y1="261.7" x2="26.4" y2="261.7" stroke="#333" stroke-width="0.6"/>
<text x="23.4" y="263.9" font-size="6.3" text-anchor="end" fill="#333" transform="translate(23.4 263.9) scale(1 1.12) translate(-23.4 -263.9)" stroke="#333" stroke-width="0.18">0.00</text>
<line x1="24.4" y1="286" x2="26.4" y2="286" stroke="#333" stroke-width="0.6"/>
<text x="23.4" y="288.2" font-size="6.3" text-anchor="end" fill="#333" transform="translate(23.4 288.2) scale(1 1.12) translate(-23.4 -288.2)" stroke="#333" stroke-width="0.18">-0.25</text>
<line x1="24.4" y1="310.3" x2="26.4" y2="310.3" stroke="#333" stroke-width="0.6"/>
<text x="23.4" y="312.5" font-size="6.3" text-anchor="end" fill="#333" transform="translate(23.4 312.5) scale(1 1.12) translate(-23.4 -312.5)" stroke="#333" stroke-width="0.18">-0.50</text>
<line x1="40.5" y1="333.7" x2="40.5" y2="335.7" stroke="#333" stroke-width="0.6"/>
<text x="40.5" y="342.8" font-size="6.3" text-anchor="middle" fill="#333" transform="translate(40.5 342.8) scale(1 1.12) translate(-40.5 -342.8)" stroke="#333" stroke-width="0.18">0</text>
<line x1="64.5" y1="333.7" x2="64.5" y2="335.7" stroke="#333" stroke-width="0.6"/>
<text x="64.5" y="342.8" font-size="6.3" text-anchor="middle" fill="#333" transform="translate(64.5 342.8) scale(1 1.12) translate(-64.5 -342.8)" stroke="#333" stroke-width="0.18">24</text>
<line x1="88.9" y1="333.7" x2="88.9" y2="335.7" stroke="#333" stroke-width="0.6"/>
<text x="88.9" y="342.8" font-size="6.3" text-anchor="middle" fill="#333" transform="translate(88.9 342.8) scale(1 1.12) translate(-88.9 -342.8)" stroke="#333" stroke-width="0.18">48</text>
<line x1="112.4" y1="333.7" x2="112.4" y2="335.7" stroke="#333" stroke-width="0.6"/>
<text x="112.4" y="342.8" font-size="6.3" text-anchor="middle" fill="#333" transform="translate(112.4 342.8) scale(1 1.12) translate(-112.4 -342.8)" stroke="#333" stroke-width="0.18">96</text>
<text x="76.3" y="351" font-size="6.2" text-anchor="middle" fill="#111" transform="translate(76.3 351) scale(1 1.2) translate(-76.3 -351)" stroke="#111" stroke-width="0.18">Time Point (weeks)</text>
<text x="5.7" y="284.3" font-size="6.2" text-anchor="middle" fill="#111" transform="rotate(-90 5.7 284.3) translate(5.7 284.3) scale(1 1.2) translate(-5.7 -284.3)" stroke="#111" stroke-width="0.18">Δ log2(outcome) vs baseline</text>
<line x1="26.4" y1="261.7" x2="126.2" y2="261.7" stroke="#444" stroke-width="0.6" stroke-dasharray="2.6,1.4"/>
<line x1="62.6" y1="238.8" x2="62.6" y2="292.7" stroke="rgb(66,146,201)" stroke-width="1.3"/>
<line x1="86.4" y1="241.1" x2="86.4" y2="286.6" stroke="rgb(66,146,201)" stroke-width="1.3"/>
<line x1="110.1" y1="243.6" x2="110.1" y2="289.9" stroke="rgb(66,146,201)" stroke-width="1.3"/>
<polyline points="38.5,261.8 62.6,266.1 86.4,264.2 110.1,266.7" fill="none" stroke="rgb(66,146,201)" stroke-width="0.8"/>
<circle cx="38.5" cy="261.8" r="3.8" fill="rgb(31,119,180)"/>
<circle cx="62.6" cy="266.1" r="3.8" fill="rgb(31,119,180)"/>
<circle cx="86.4" cy="264.2" r="3.8" fill="rgb(31,119,180)"/>
<circle cx="110.1" cy="266.7" r="3.8" fill="rgb(31,119,180)"/>
<line x1="66.4" y1="272.4" x2="66.4" y2="319.8" stroke="rgb(221,112,32)" stroke-width="1.3"/>
<line x1="90.5" y1="278.5" x2="90.5" y2="322.5" stroke="rgb(221,112,32)" stroke-width="1.3"/>
<line x1="113.9" y1="285.1" x2="113.9" y2="328.8" stroke="rgb(221,112,32)" stroke-width="1.3"/>
<polyline points="42.9,262.1 66.4,295.9 90.5,300.3 113.9,307.3" fill="none" stroke="rgb(221,112,32)" stroke-width="0.8"/>
<circle cx="42.9" cy="262.1" r="3.8" fill="rgb(221,112,32)"/>
<circle cx="66.4" cy="295.9" r="3.8" fill="rgb(221,112,32)"/>
<circle cx="90.5" cy="300.3" r="3.8" fill="rgb(221,112,32)"/>
<circle cx="113.9" cy="307.3" r="3.8" fill="rgb(221,112,32)"/>
<line x1="156.5" y1="234.2" x2="156.5" y2="334" stroke="#333" stroke-width="0.7"/>
<line x1="156.2" y1="333.7" x2="255.6" y2="333.7" stroke="#333" stroke-width="0.7"/>
<line x1="161.44" y1="333.7" x2="161.44" y2="335.7" stroke="#333" stroke-width="0.6"/>
<text x="161.44" y="342.8" font-size="6.3" text-anchor="middle" fill="#333" transform="translate(161.44 342.8) scale(1 1.12) translate(-161.44 -342.8)" stroke="#333" stroke-width="0.18">-0.6</text>
<line x1="179.96" y1="333.7" x2="179.96" y2="335.7" stroke="#333" stroke-width="0.6"/>
<text x="179.96" y="342.8" font-size="6.3" text-anchor="middle" fill="#333" transform="translate(179.96 342.8) scale(1 1.12) translate(-179.96 -342.8)" stroke="#333" stroke-width="0.18">-0.4</text>
<line x1="198.48" y1="333.7" x2="198.48" y2="335.7" stroke="#333" stroke-width="0.6"/>
<text x="198.48" y="342.8" font-size="6.3" text-anchor="middle" fill="#333" transform="translate(198.48 342.8) scale(1 1.12) translate(-198.48 -342.8)" stroke="#333" stroke-width="0.18">-0.2</text>
<line x1="217" y1="333.7" x2="217" y2="335.7" stroke="#333" stroke-width="0.6"/>
<text x="217" y="342.8" font-size="6.3" text-anchor="middle" fill="#333" transform="translate(217 342.8) scale(1 1.12) translate(-217 -342.8)" stroke="#333" stroke-width="0.18">0.0</text>
<line x1="235.52" y1="333.7" x2="235.52" y2="335.7" stroke="#333" stroke-width="0.6"/>
<text x="235.52" y="342.8" font-size="6.3" text-anchor="middle" fill="#333" transform="translate(235.52 342.8) scale(1 1.12) translate(-235.52 -342.8)" stroke="#333" stroke-width="0.18">0.2</text>
<line x1="254.04" y1="333.7" x2="254.04" y2="335.7" stroke="#333" stroke-width="0.6"/>
<text x="254.04" y="342.8" font-size="6.3" text-anchor="middle" fill="#333" transform="translate(254.04 342.8) scale(1 1.12) translate(-254.04 -342.8)" stroke="#333" stroke-width="0.18">0.4</text>
<line x1="217.5" y1="234.5" x2="217.5" y2="333.7" stroke="#333" stroke-width="0.6" stroke-dasharray="2.6,1.4"/>
<line x1="154.5" y1="248.5" x2="156.5" y2="248.5" stroke="#333" stroke-width="0.6"/>
<text x="153.1" y="250.7" font-size="6.3" text-anchor="end" fill="#333" transform="translate(153.1 250.7) scale(1 1.12) translate(-153.1 -250.7)" stroke="#333" stroke-width="0.18">96</text>
<line x1="160.8" y1="248.5" x2="208" y2="248.5" stroke="#555" stroke-width="1.05"/>
<circle cx="184.5" cy="248.5" r="3.6" fill="#3d3d3d"/>
<line x1="154.5" y1="272.4" x2="156.5" y2="272.4" stroke="#333" stroke-width="0.6"/>
<text x="153.1" y="274.6" font-size="6.3" text-anchor="end" fill="#333" transform="translate(153.1 274.6) scale(1 1.12) translate(-153.1 -274.6)" stroke="#333" stroke-width="0.18">48</text>
<line x1="165" y1="272.4" x2="211.7" y2="272.4" stroke="#555" stroke-width="1.05"/>
<circle cx="188.3" cy="272.4" r="3.6" fill="#3d3d3d"/>
<line x1="154.5" y1="295.7" x2="156.5" y2="295.7" stroke="#333" stroke-width="0.6"/>
<text x="153.1" y="297.9" font-size="6.3" text-anchor="end" fill="#333" transform="translate(153.1 297.9) scale(1 1.12) translate(-153.1 -297.9)" stroke="#333" stroke-width="0.18">24</text>
<line x1="167.8" y1="295.7" x2="220.8" y2="295.7" stroke="#555" stroke-width="1.05"/>
<circle cx="194.3" cy="295.7" r="3.6" fill="#3d3d3d"/>
<line x1="154.5" y1="319.5" x2="156.5" y2="319.5" stroke="#333" stroke-width="0.6"/>
<text x="153.1" y="321.7" font-size="6.3" text-anchor="end" fill="#333" transform="translate(153.1 321.7) scale(1 1.12) translate(-153.1 -321.7)" stroke="#333" stroke-width="0.18">0</text>
<line x1="200.6" y1="319.5" x2="244.5" y2="319.5" stroke="#555" stroke-width="1.05"/>
<circle cx="222.3" cy="319.5" r="3.6" fill="#3d3d3d"/>
<text x="206.3" y="351" font-size="6.2" text-anchor="middle" fill="#111" transform="translate(206.3 351) scale(1 1.2) translate(-206.3 -351)" stroke="#111" stroke-width="0.18">Δ log2 ratio (DTG - DRV/r)</text>
<text x="141.6" y="283.5" font-size="6.2" text-anchor="middle" fill="#111" transform="rotate(-90 141.6 283.5) translate(141.6 283.5) scale(1 1.2) translate(-141.6 -283.5)" stroke="#111" stroke-width="0.18">Time point (weeks)</text>
<text x="253.2" y="199.8" font-size="13.4" text-anchor="start" fill="#000" transform="translate(253.2 199.8) scale(1 1.08) translate(-253.2 -199.8)" stroke="#000" stroke-width="0.35">D</text>
<line x1="300.45" y1="220" x2="300.45" y2="335.7" stroke="#333" stroke-width="0.55"/>
<line x1="298.85" y1="225.4" x2="300.45" y2="225.4" stroke="#333" stroke-width="0.6"/>
<text x="298.25" y="227.75" font-size="6" text-anchor="end" fill="#333" transform="translate(298.25 227.75) scale(1 1.1) translate(-298.25 -227.75)" stroke="#333" stroke-width="0.1">1.0</text>
<line x1="298.85" y1="256.6" x2="300.45" y2="256.6" stroke="#333" stroke-width="0.6"/>
<text x="298.25" y="258.95" font-size="6" text-anchor="end" fill="#333" transform="translate(298.25 258.95) scale(1 1.1) translate(-298.25 -258.95)" stroke="#333" stroke-width="0.1">0.9</text>
<line x1="298.85" y1="288.1" x2="300.45" y2="288.1" stroke="#333" stroke-width="0.6"/>
<text x="298.25" y="290.45" font-size="6" text-anchor="end" fill="#333" transform="translate(298.25 290.45) scale(1 1.1) translate(-298.25 -290.45)" stroke="#333" stroke-width="0.1">0.8</text>
<line x1="298.85" y1="319.4" x2="300.45" y2="319.4" stroke="#333" stroke-width="0.6"/>
<text x="298.25" y="321.75" font-size="6" text-anchor="end" fill="#333" transform="translate(298.25 321.75) scale(1 1.1) translate(-298.25 -321.75)" stroke="#333" stroke-width="0.1">0.7</text>
<text x="286.1" y="278.8" font-size="6.5" text-anchor="middle" fill="#111" transform="rotate(-90 286.1 278.8) translate(286.1 278.8) scale(1 1.03) translate(-286.1 -278.8)" stroke="#111" stroke-width="0.1">Mean Bray–Curtis dissimilarity to HIV−negative samples</text>
<text x="347.1" y="217.4" font-size="6.4" text-anchor="middle" fill="#111" transform="translate(347.1 217.4) scale(1 1.03) translate(-347.1 -217.4)" stroke="#111" stroke-width="0.1">metaHIV</text>
<text x="420" y="217.4" font-size="6.4" text-anchor="middle" fill="#111" transform="translate(420 217.4) scale(1 1.03) translate(-420 -217.4)" stroke="#111" stroke-width="0.1">DRV/r</text>
<text x="470" y="217.4" font-size="6.4" text-anchor="middle" fill="#111" transform="translate(470 217.4) scale(1 1.03) translate(-470 -217.4)" stroke="#111" stroke-width="0.1">DTG</text>
<line x1="300.1" y1="335.4" x2="392.6" y2="335.4" stroke="#333" stroke-width="0.6"/>
<line x1="396.4" y1="335.4" x2="443.3" y2="335.4" stroke="#333" stroke-width="0.6"/>
<line x1="446.3" y1="335.4" x2="494" y2="335.4" stroke="#333" stroke-width="0.6"/>
<line x1="307.5" y1="266.26" x2="307.5" y2="297.28" stroke="rgb(150,150,150)" stroke-width="0.6"/>
<line x1="307.5" y1="321.33" x2="307.5" y2="329.56" stroke="rgb(150,150,150)" stroke-width="0.6"/>
<line x1="305.7" y1="266.26" x2="309.3" y2="266.26" stroke="rgb(150,150,150)" stroke-width="0.6"/>
<line x1="305.7" y1="329.56" x2="309.3" y2="329.56" stroke="rgb(150,150,150)" stroke-width="0.6"/>
<rect x="303.9" y="297.28" width="7.2" height="24.05" fill="rgba(170,170,170,0.35)" stroke="rgb(150,150,150)" stroke-width="0.6"/>
<line x1="303.9" y1="312.79" x2="311.1" y2="312.79" stroke="rgb(150,150,150)" stroke-width="0.9"/>
<circle cx="308.18" cy="317.7" r="0.75" fill="rgb(150,150,150)"/>
<circle cx="306.9" cy="325.15" r="0.75" fill="rgb(150,150,150)"/>
<circle cx="305.42" cy="325.39" r="0.75" fill="rgb(150,150,150)"/>
<circle cx="305.66" cy="319.65" r="0.75" fill="rgb(150,150,150)"/>
<circle cx="305.81" cy="301.44" r="0.75" fill="rgb(150,150,150)"/>
<circle cx="309.51" cy="277.82" r="0.75" fill="rgb(150,150,150)"/>
<circle cx="309.64" cy="311.79" r="0.75" fill="rgb(150,150,150)"/>
<circle cx="306.55" cy="322.5" r="0.75" fill="rgb(150,150,150)"/>
<circle cx="306.64" cy="328.59" r="0.75" fill="rgb(150,150,150)"/>
<circle cx="307.87" cy="316.99" r="0.75" fill="rgb(150,150,150)"/>
<circle cx="307.71" cy="312.37" r="0.75" fill="rgb(150,150,150)"/>
<circle cx="306.18" cy="329.07" r="0.75" fill="rgb(150,150,150)"/>
<circle cx="306.66" cy="311.05" r="0.75" fill="rgb(150,150,150)"/>
<circle cx="306.6" cy="310.43" r="0.75" fill="rgb(150,150,150)"/>
<circle cx="306.35" cy="304.52" r="0.75" fill="rgb(150,150,150)"/>
<circle cx="309.19" cy="308.7" r="0.75" fill="rgb(150,150,150)"/>
<circle cx="309.66" cy="314.41" r="0.75" fill="rgb(150,150,150)"/>
<circle cx="308.66" cy="326.12" r="0.75" fill="rgb(150,150,150)"/>
<circle cx="305.43" cy="282.11" r="0.75" fill="rgb(150,150,150)"/>
<circle cx="307.83" cy="302.94" r="0.75" fill="rgb(150,150,150)"/>
<circle cx="308.38" cy="313.79" r="0.75" fill="rgb(150,150,150)"/>
<circle cx="307.3" cy="307.38" r="0.75" fill="rgb(150,150,150)"/>
<line x1="307.5" y1="335.4" x2="307.5" y2="337.2" stroke="#333" stroke-width="0.6"/>
<text x="311.3" y="343" font-size="6.4" text-anchor="end" fill="#1a1a1a" transform="rotate(-45 311.3 343) translate(311.3 343) scale(1 1.03) translate(-311.3 -343)" stroke="#1a1a1a" stroke-width="0.1">negative</text>
<line x1="318.9" y1="241.89" x2="318.9" y2="276.71" stroke="rgb(190,170,235)" stroke-width="0.6"/>
<line x1="318.9" y1="310.89" x2="318.9" y2="321.65" stroke="rgb(190,170,235)" stroke-width="0.6"/>
<line x1="317.1" y1="241.89" x2="320.7" y2="241.89" stroke="rgb(190,170,235)" stroke-width="0.6"/>
<line x1="317.1" y1="321.65" x2="320.7" y2="321.65" stroke="rgb(190,170,235)" stroke-width="0.6"/>
<rect x="315.3" y="276.71" width="7.2" height="34.18" fill="rgba(190,170,235,0.3)" stroke="rgb(190,170,235)" stroke-width="0.6"/>
<line x1="315.3" y1="300.13" x2="322.5" y2="300.13" stroke="rgb(190,170,235)" stroke-width="0.9"/>
<circle cx="318.78" cy="278.6" r="0.75" fill="rgb(190,170,235)"/>
<circle cx="319.81" cy="308.81" r="0.75" fill="rgb(190,170,235)"/>
<circle cx="320.35" cy="276.94" r="0.75" fill="rgb(190,170,235)"/>
<circle cx="319.66" cy="263.27" r="0.75" fill="rgb(190,170,235)"/>
<circle cx="317.41" cy="316.68" r="0.75" fill="rgb(190,170,235)"/>
<circle cx="320.11" cy="321.01" r="0.75" fill="rgb(190,170,235)"/>
<circle cx="318.41" cy="318.98" r="0.75" fill="rgb(190,170,235)"/>
<circle cx="318.67" cy="308.13" r="0.75" fill="rgb(190,170,235)"/>
<circle cx="320.34" cy="280.69" r="0.75" fill="rgb(190,170,235)"/>
<circle cx="318.52" cy="301.37" r="0.75" fill="rgb(190,170,235)"/>
<line x1="318.9" y1="335.4" x2="318.9" y2="337.2" stroke="#333" stroke-width="0.6"/>
<text x="322.7" y="343" font-size="6.4" text-anchor="end" fill="#1a1a1a" transform="rotate(-45 322.7 343) translate(322.7 343) scale(1 1.03) translate(-322.7 -343)" stroke="#1a1a1a" stroke-width="0.1">viremic_controllers</text>
<line x1="330.1" y1="245.37" x2="330.1" y2="283.04" stroke="rgb(185,210,90)" stroke-width="0.6"/>
<line x1="330.1" y1="310.57" x2="330.1" y2="322.6" stroke="rgb(185,210,90)" stroke-width="0.6"/>
<line x1="328.3" y1="245.37" x2="331.9" y2="245.37" stroke="rgb(185,210,90)" stroke-width="0.6"/>
<line x1="328.3" y1="322.6" x2="331.9" y2="322.6" stroke="rgb(185,210,90)" stroke-width="0.6"/>
<rect x="326.5" y="283.04" width="7.2" height="27.54" fill="rgba(185,210,90,0.3)" stroke="rgb(185,210,90)" stroke-width="0.6"/>
<line x1="326.5" y1="300.13" x2="333.7" y2="300.13" stroke="rgb(185,210,90)" stroke-width="0.9"/>
<circle cx="332.16" cy="286.22" r="0.75" fill="rgb(185,210,90)"/>
<circle cx="328.89" cy="276.4" r="0.75" fill="rgb(185,210,90)"/>
<circle cx="330.5" cy="264.77" r="0.75" fill="rgb(185,210,90)"/>
<circle cx="329.74" cy="282.88" r="0.75" fill="rgb(185,210,90)"/>
<circle cx="332.14" cy="294.98" r="0.75" fill="rgb(185,210,90)"/>
<circle cx="330.63" cy="296.38" r="0.75" fill="rgb(185,210,90)"/>
<circle cx="331.9" cy="309.08" r="0.75" fill="rgb(185,210,90)"/>
<circle cx="331.44" cy="286.49" r="0.75" fill="rgb(185,210,90)"/>
<circle cx="328.32" cy="299.59" r="0.75" fill="rgb(185,210,90)"/>
<circle cx="328.15" cy="308.86" r="0.75" fill="rgb(185,210,90)"/>
<circle cx="329.38" cy="276.92" r="0.75" fill="rgb(185,210,90)"/>
<circle cx="328.53" cy="322.6" r="0.75" fill="rgb(185,210,90)"/>
<line x1="330.1" y1="335.4" x2="330.1" y2="337.2" stroke="#333" stroke-width="0.6"/>
<text x="333.9" y="343" font-size="6.4" text-anchor="end" fill="#1a1a1a" transform="rotate(-45 333.9 343) translate(333.9 343) scale(1 1.03) translate(-333.9 -343)" stroke="#1a1a1a" stroke-width="0.1">naive</text>
<line x1="341.4" y1="265.63" x2="341.4" y2="279.55" stroke="rgb(240,225,80)" stroke-width="0.6"/>
<line x1="341.4" y1="302.66" x2="341.4" y2="314.37" stroke="rgb(240,225,80)" stroke-width="0.6"/>
<line x1="339.6" y1="265.63" x2="343.2" y2="265.63" stroke="rgb(240,225,80)" stroke-width="0.6"/>
<line x1="339.6" y1="314.37" x2="343.2" y2="314.37" stroke="rgb(240,225,80)" stroke-width="0.6"/>
<rect x="337.8" y="279.55" width="7.2" height="23.1" fill="rgba(240,225,80,0.3)" stroke="rgb(240,225,80)" stroke-width="0.6"/>
<line x1="337.8" y1="298.23" x2="345" y2="298.23" stroke="rgb(240,225,80)" stroke-width="0.9"/>
<circle cx="339.26" cy="310.11" r="0.75" fill="rgb(240,225,80)"/>
<circle cx="339.82" cy="288.47" r="0.75" fill="rgb(240,225,80)"/>
<circle cx="340.79" cy="274.72" r="0.75" fill="rgb(240,225,80)"/>
<circle cx="343.62" cy="304.43" r="0.75" fill="rgb(240,225,80)"/>
<circle cx="339.54" cy="291.48" r="0.75" fill="rgb(240,225,80)"/>
<circle cx="340.34" cy="310.36" r="0.75" fill="rgb(240,225,80)"/>
<circle cx="339.25" cy="298.93" r="0.75" fill="rgb(240,225,80)"/>
<circle cx="339.81" cy="290.45" r="0.75" fill="rgb(240,225,80)"/>
<circle cx="341.53" cy="302.03" r="0.75" fill="rgb(240,225,80)"/>
<circle cx="342.28" cy="282.71" r="0.75" fill="rgb(240,225,80)"/>
<circle cx="339.9" cy="274.45" r="0.75" fill="rgb(240,225,80)"/>
<circle cx="342.66" cy="290.35" r="0.75" fill="rgb(240,225,80)"/>
<circle cx="342.8" cy="297.51" r="0.75" fill="rgb(240,225,80)"/>
<circle cx="342.78" cy="282.96" r="0.75" fill="rgb(240,225,80)"/>
<line x1="341.4" y1="335.4" x2="341.4" y2="337.2" stroke="#333" stroke-width="0.6"/>
<text x="345.2" y="343" font-size="6.4" text-anchor="end" fill="#1a1a1a" transform="rotate(-45 345.2 343) translate(345.2 343) scale(1 1.03) translate(-345.2 -343)" stroke="#1a1a1a" stroke-width="0.1">early_treated</text>
<line x1="352.6" y1="240.31" x2="352.6" y2="273.86" stroke="rgb(245,140,110)" stroke-width="0.6"/>
<line x1="352.6" y1="302.03" x2="352.6" y2="317.85" stroke="rgb(245,140,110)" stroke-width="0.6"/>
<line x1="350.8" y1="240.31" x2="354.4" y2="240.31" stroke="rgb(245,140,110)" stroke-width="0.6"/>
<line x1="350.8" y1="317.85" x2="354.4" y2="317.85" stroke="rgb(245,140,110)" stroke-width="0.6"/>
<rect x="349" y="273.86" width="7.2" height="28.17" fill="rgba(245,140,110,0.3)" stroke="rgb(245,140,110)" stroke-width="0.6"/>
<line x1="349" y1="291.26" x2="356.2" y2="291.26" stroke="rgb(245,140,110)" stroke-width="0.9"/>
<circle cx="351.37" cy="281.18" r="0.75" fill="rgb(245,140,110)"/>
<circle cx="350.48" cy="292.01" r="0.75" fill="rgb(245,140,110)"/>
<circle cx="351.52" cy="313.43" r="0.75" fill="rgb(245,140,110)"/>
<circle cx="352.36" cy="275.08" r="0.75" fill="rgb(245,140,110)"/>
<circle cx="354.65" cy="274.19" r="0.75" fill="rgb(245,140,110)"/>
<circle cx="351.37" cy="295.82" r="0.75" fill="rgb(245,140,110)"/>
<circle cx="353.16" cy="267" r="0.75" fill="rgb(245,140,110)"/>
<circle cx="352.51" cy="278.35" r="0.75" fill="rgb(245,140,110)"/>
<circle cx="350.73" cy="279.5" r="0.75" fill="rgb(245,140,110)"/>
<circle cx="353.87" cy="276.4" r="0.75" fill="rgb(245,140,110)"/>
<circle cx="351.15" cy="288.56" r="0.75" fill="rgb(245,140,110)"/>
<circle cx="353.95" cy="292.66" r="0.75" fill="rgb(245,140,110)"/>
<circle cx="352.16" cy="290.88" r="0.75" fill="rgb(245,140,110)"/>
<circle cx="351.12" cy="281.61" r="0.75" fill="rgb(245,140,110)"/>
<line x1="352.6" y1="335.4" x2="352.6" y2="337.2" stroke="#333" stroke-width="0.6"/>
<text x="356.4" y="343" font-size="6.4" text-anchor="end" fill="#1a1a1a" transform="rotate(-45 356.4 343) translate(356.4 343) scale(1 1.03) translate(-356.4 -343)" stroke="#1a1a1a" stroke-width="0.1">late_presenters</text>
<line x1="364" y1="241.89" x2="364" y2="263.41" stroke="rgb(205,95,170)" stroke-width="0.6"/>
<line x1="364" y1="302.34" x2="364" y2="319.12" stroke="rgb(205,95,170)" stroke-width="0.6"/>
<line x1="362.2" y1="241.89" x2="365.8" y2="241.89" stroke="rgb(205,95,170)" stroke-width="0.6"/>
<line x1="362.2" y1="319.12" x2="365.8" y2="319.12" stroke="rgb(205,95,170)" stroke-width="0.6"/>
<rect x="360.4" y="263.41" width="7.2" height="38.93" fill="rgba(205,95,170,0.3)" stroke="rgb(205,95,170)" stroke-width="0.6"/>
<line x1="360.4" y1="281.77" x2="367.6" y2="281.77" stroke="rgb(205,95,170)" stroke-width="0.9"/>
<circle cx="365.82" cy="316.58" r="0.75" fill="rgb(205,95,170)"/>
<circle cx="365.47" cy="296.65" r="0.75" fill="rgb(205,95,170)"/>
<circle cx="363.33" cy="276.76" r="0.75" fill="rgb(205,95,170)"/>
<circle cx="361.81" cy="297.24" r="0.75" fill="rgb(205,95,170)"/>
<circle cx="364.12" cy="277.05" r="0.75" fill="rgb(205,95,170)"/>
<circle cx="365.67" cy="285.45" r="0.75" fill="rgb(205,95,170)"/>
<circle cx="362.88" cy="294.13" r="0.75" fill="rgb(205,95,170)"/>
<circle cx="364.39" cy="258.24" r="0.75" fill="rgb(205,95,170)"/>
<circle cx="362.34" cy="254.4" r="0.75" fill="rgb(205,95,170)"/>
<circle cx="363.81" cy="288.57" r="0.75" fill="rgb(205,95,170)"/>
<circle cx="363.64" cy="267.14" r="0.75" fill="rgb(205,95,170)"/>
<circle cx="364.14" cy="282.81" r="0.75" fill="rgb(205,95,170)"/>
<circle cx="363.73" cy="301.61" r="0.75" fill="rgb(205,95,170)"/>
<circle cx="365.35" cy="263.33" r="0.75" fill="rgb(205,95,170)"/>
<circle cx="365.01" cy="253.22" r="0.75" fill="rgb(205,95,170)"/>
<circle cx="364.08" cy="289.65" r="0.75" fill="rgb(205,95,170)"/>
<circle cx="362.23" cy="271.81" r="0.75" fill="rgb(205,95,170)"/>
<circle cx="363" cy="292.67" r="0.75" fill="rgb(205,95,170)"/>
<circle cx="364.28" cy="282.58" r="0.75" fill="rgb(205,95,170)"/>
<circle cx="363.74" cy="266.82" r="0.75" fill="rgb(205,95,170)"/>
<circle cx="364.05" cy="282.66" r="0.75" fill="rgb(205,95,170)"/>
<circle cx="364.15" cy="284.73" r="0.75" fill="rgb(205,95,170)"/>
<circle cx="364.9" cy="265.69" r="0.75" fill="rgb(205,95,170)"/>
<circle cx="362.92" cy="265.66" r="0.75" fill="rgb(205,95,170)"/>
<circle cx="365.53" cy="265.62" r="0.75" fill="rgb(205,95,170)"/>
<circle cx="363.74" cy="317.08" r="0.75" fill="rgb(205,95,170)"/>
<circle cx="362.08" cy="315.08" r="0.75" fill="rgb(205,95,170)"/>
<circle cx="365.79" cy="271.82" r="0.75" fill="rgb(205,95,170)"/>
<circle cx="364.72" cy="248" r="0.75" fill="rgb(205,95,170)"/>
<circle cx="366.1" cy="304.31" r="0.75" fill="rgb(205,95,170)"/>
<circle cx="363.54" cy="242.91" r="0.75" fill="rgb(205,95,170)"/>
<circle cx="365.5" cy="263.81" r="0.75" fill="rgb(205,95,170)"/>
<circle cx="364.07" cy="254.13" r="0.75" fill="rgb(205,95,170)"/>
<circle cx="363.18" cy="294.72" r="0.75" fill="rgb(205,95,170)"/>
<circle cx="364.24" cy="301.58" r="0.75" fill="rgb(205,95,170)"/>
<circle cx="363.24" cy="301.64" r="0.75" fill="rgb(205,95,170)"/>
<circle cx="362.04" cy="282.4" r="0.75" fill="rgb(205,95,170)"/>
<circle cx="366.12" cy="271.65" r="0.75" fill="rgb(205,95,170)"/>
<circle cx="361.93" cy="314.66" r="0.75" fill="rgb(205,95,170)"/>
<circle cx="362.33" cy="291.81" r="0.75" fill="rgb(205,95,170)"/>
<circle cx="365.44" cy="266.86" r="0.75" fill="rgb(205,95,170)"/>
<circle cx="365.89" cy="260.2" r="0.75" fill="rgb(205,95,170)"/>
<circle cx="362.15" cy="275.08" r="0.75" fill="rgb(205,95,170)"/>
<circle cx="363.66" cy="307.57" r="0.75" fill="rgb(205,95,170)"/>
<circle cx="364.6" cy="303.38" r="0.75" fill="rgb(205,95,170)"/>
<circle cx="365.6" cy="299.08" r="0.75" fill="rgb(205,95,170)"/>
<circle cx="363.79" cy="304.64" r="0.75" fill="rgb(205,95,170)"/>
<circle cx="365.92" cy="280.81" r="0.75" fill="rgb(205,95,170)"/>
<circle cx="364.12" cy="260.63" r="0.75" fill="rgb(205,95,170)"/>
<circle cx="362.48" cy="261.06" r="0.75" fill="rgb(205,95,170)"/>
<line x1="364" y1="335.4" x2="364" y2="337.2" stroke="#333" stroke-width="0.6"/>
<text x="367.8" y="343" font-size="6.4" text-anchor="end" fill="#1a1a1a" transform="rotate(-45 367.8 343) translate(367.8 343) scale(1 1.03) translate(-367.8 -343)" stroke="#1a1a1a" stroke-width="0.1">concordant</text>
<line x1="375.1" y1="255.18" x2="375.1" y2="262.46" stroke="rgb(245,205,80)" stroke-width="0.6"/>
<line x1="375.1" y1="283.99" x2="375.1" y2="289.05" stroke="rgb(245,205,80)" stroke-width="0.6"/>
<line x1="373.3" y1="255.18" x2="376.9" y2="255.18" stroke="rgb(245,205,80)" stroke-width="0.6"/>
<line x1="373.3" y1="289.05" x2="376.9" y2="289.05" stroke="rgb(245,205,80)" stroke-width="0.6"/>
<rect x="371.5" y="262.46" width="7.2" height="21.52" fill="rgba(245,205,80,0.35)" stroke="rgb(245,205,80)" stroke-width="0.6"/>
<line x1="371.5" y1="275.44" x2="378.7" y2="275.44" stroke="rgb(245,205,80)" stroke-width="0.9"/>
<circle cx="374.25" cy="288.03" r="0.75" fill="rgb(245,205,80)"/>
<circle cx="374.15" cy="267.64" r="0.75" fill="rgb(245,205,80)"/>
<circle cx="374.41" cy="280.16" r="0.75" fill="rgb(245,205,80)"/>
<circle cx="372.92" cy="287.78" r="0.75" fill="rgb(245,205,80)"/>
<circle cx="373.7" cy="272.13" r="0.75" fill="rgb(245,205,80)"/>
<circle cx="373.33" cy="263.87" r="0.75" fill="rgb(245,205,80)"/>
<circle cx="375.08" cy="274.68" r="0.75" fill="rgb(245,205,80)"/>
<line x1="375.1" y1="335.4" x2="375.1" y2="337.2" stroke="#333" stroke-width="0.6"/>
<text x="378.9" y="343" font-size="6.4" text-anchor="end" fill="#1a1a1a" transform="rotate(-45 378.9 343) translate(378.9 343) scale(1 1.03) translate(-378.9 -343)" stroke="#1a1a1a" stroke-width="0.1">elite_controllers</text>
<line x1="386.3" y1="244.42" x2="386.3" y2="253.28" stroke="rgb(240,150,200)" stroke-width="0.6"/>
<line x1="386.3" y1="294.43" x2="386.3" y2="311.2" stroke="rgb(240,150,200)" stroke-width="0.6"/>
<line x1="384.5" y1="244.42" x2="388.1" y2="244.42" stroke="rgb(240,150,200)" stroke-width="0.6"/>
<line x1="384.5" y1="311.2" x2="388.1" y2="311.2" stroke="rgb(240,150,200)" stroke-width="0.6"/>
<rect x="382.7" y="253.28" width="7.2" height="41.15" fill="rgba(240,150,200,0.3)" stroke="rgb(240,150,200)" stroke-width="0.6"/>
<line x1="382.7" y1="260.88" x2="389.9" y2="260.88" stroke="rgb(240,150,200)" stroke-width="0.9"/>
<circle cx="386.33" cy="278.26" r="0.75" fill="rgb(240,150,200)"/>
<circle cx="385.59" cy="254.01" r="0.75" fill="rgb(240,150,200)"/>
<circle cx="386.91" cy="265.35" r="0.75" fill="rgb(240,150,200)"/>
<circle cx="384.29" cy="280.13" r="0.75" fill="rgb(240,150,200)"/>
<circle cx="387.38" cy="310.02" r="0.75" fill="rgb(240,150,200)"/>
<circle cx="384.43" cy="251.84" r="0.75" fill="rgb(240,150,200)"/>
<circle cx="387.07" cy="258.61" r="0.75" fill="rgb(240,150,200)"/>
<circle cx="385.37" cy="251.14" r="0.75" fill="rgb(240,150,200)"/>
<circle cx="386.06" cy="287.95" r="0.75" fill="rgb(240,150,200)"/>
<circle cx="388.43" cy="244.76" r="0.75" fill="rgb(240,150,200)"/>
<line x1="386.3" y1="335.4" x2="386.3" y2="337.2" stroke="#333" stroke-width="0.6"/>
<text x="390.1" y="343" font-size="6.4" text-anchor="end" fill="#1a1a1a" transform="rotate(-45 390.1 343) translate(390.1 343) scale(1 1.03) translate(-390.1 -343)" stroke="#1a1a1a" stroke-width="0.1">discordant</text>
<line x1="403.1" y1="225.75" x2="403.1" y2="256.77" stroke="rgba(31,119,180,0.300)" stroke-width="0.6"/>
<line x1="403.1" y1="289.37" x2="403.1" y2="310.89" stroke="rgba(31,119,180,0.300)" stroke-width="0.6"/>
<line x1="401.3" y1="225.75" x2="404.9" y2="225.75" stroke="rgba(31,119,180,0.300)" stroke-width="0.6"/>
<line x1="401.3" y1="310.89" x2="404.9" y2="310.89" stroke="rgba(31,119,180,0.300)" stroke-width="0.6"/>
<rect x="399.5" y="256.77" width="7.2" height="32.6" fill="rgba(31,119,180,0.100)" stroke="rgba(31,119,180,0.300)" stroke-width="0.6"/>
<line x1="399.5" y1="280.19" x2="406.7" y2="280.19" stroke="rgba(31,119,180,0.300)" stroke-width="0.9"/>
<circle cx="405.2" cy="281.4" r="0.75" fill="rgba(31,119,180,0.300)"/>
<circle cx="400.85" cy="277.74" r="0.75" fill="rgba(31,119,180,0.300)"/>
<circle cx="403.11" cy="273.89" r="0.75" fill="rgba(31,119,180,0.300)"/>
<circle cx="400.87" cy="241.11" r="0.75" fill="rgba(31,119,180,0.300)"/>
<circle cx="402.65" cy="253.98" r="0.75" fill="rgba(31,119,180,0.300)"/>
<circle cx="402.22" cy="310.4" r="0.75" fill="rgba(31,119,180,0.300)"/>
<circle cx="403.23" cy="238.6" r="0.75" fill="rgba(31,119,180,0.300)"/>
<circle cx="404.07" cy="267.93" r="0.75" fill="rgba(31,119,180,0.300)"/>
<circle cx="402.32" cy="276.67" r="0.75" fill="rgba(31,119,180,0.300)"/>
<circle cx="404.11" cy="284.49" r="0.75" fill="rgba(31,119,180,0.300)"/>
<circle cx="404.61" cy="287.94" r="0.75" fill="rgba(31,119,180,0.300)"/>
<circle cx="404.15" cy="268.92" r="0.75" fill="rgba(31,119,180,0.300)"/>
<circle cx="403.21" cy="284.82" r="0.75" fill="rgba(31,119,180,0.300)"/>
<circle cx="404.47" cy="262.15" r="0.75" fill="rgba(31,119,180,0.300)"/>
<circle cx="404.87" cy="270.33" r="0.75" fill="rgba(31,119,180,0.300)"/>
<circle cx="401.88" cy="266.76" r="0.75" fill="rgba(31,119,180,0.300)"/>
<circle cx="402.47" cy="308.02" r="0.75" fill="rgba(31,119,180,0.300)"/>
<circle cx="403.36" cy="292.9" r="0.75" fill="rgba(31,119,180,0.300)"/>
<circle cx="403.91" cy="268.95" r="0.75" fill="rgba(31,119,180,0.300)"/>
<circle cx="404.44" cy="289.26" r="0.75" fill="rgba(31,119,180,0.300)"/>
<circle cx="403.26" cy="272.97" r="0.75" fill="rgba(31,119,180,0.300)"/>
<circle cx="404.17" cy="287.21" r="0.75" fill="rgba(31,119,180,0.300)"/>
<circle cx="402.05" cy="254.46" r="0.75" fill="rgba(31,119,180,0.300)"/>
<circle cx="404.18" cy="282.68" r="0.75" fill="rgba(31,119,180,0.300)"/>
<circle cx="402.57" cy="273.26" r="0.75" fill="rgba(31,119,180,0.300)"/>
<line x1="403.1" y1="335.4" x2="403.1" y2="337.2" stroke="#333" stroke-width="0.6"/>
<text x="406.9" y="343" font-size="6.4" text-anchor="end" fill="#1a1a1a" transform="rotate(-45 406.9 343) translate(406.9 343) scale(1 1.03) translate(-406.9 -343)" stroke="#1a1a1a" stroke-width="0.1">DRV/r_96</text>
<line x1="414" y1="225.75" x2="414" y2="243.16" stroke="rgba(31,119,180,0.720)" stroke-width="0.6"/>
<line x1="414" y1="283.35" x2="414" y2="300.44" stroke="rgba(31,119,180,0.720)" stroke-width="0.6"/>
<line x1="412.2" y1="225.75" x2="415.8" y2="225.75" stroke="rgba(31,119,180,0.720)" stroke-width="0.6"/>
<line x1="412.2" y1="300.44" x2="415.8" y2="300.44" stroke="rgba(31,119,180,0.720)" stroke-width="0.6"/>
<rect x="410.4" y="243.16" width="7.2" height="40.2" fill="rgba(31,119,180,0.300)" stroke="rgba(31,119,180,0.720)" stroke-width="0.6"/>
<line x1="410.4" y1="270.69" x2="417.6" y2="270.69" stroke="rgba(31,119,180,0.720)" stroke-width="0.9"/>
<circle cx="415.2" cy="255.87" r="0.75" fill="rgba(31,119,180,0.720)"/>
<circle cx="412.1" cy="257.52" r="0.75" fill="rgba(31,119,180,0.720)"/>
<circle cx="415.09" cy="296.1" r="0.75" fill="rgba(31,119,180,0.720)"/>
<circle cx="411.81" cy="260.53" r="0.75" fill="rgba(31,119,180,0.720)"/>
<circle cx="414.77" cy="295.85" r="0.75" fill="rgba(31,119,180,0.720)"/>
<circle cx="413.06" cy="256.19" r="0.75" fill="rgba(31,119,180,0.720)"/>
<circle cx="413.85" cy="264.68" r="0.75" fill="rgba(31,119,180,0.720)"/>
<circle cx="412.65" cy="285.17" r="0.75" fill="rgba(31,119,180,0.720)"/>
<circle cx="411.83" cy="245.72" r="0.75" fill="rgba(31,119,180,0.720)"/>
<circle cx="416.11" cy="250.4" r="0.75" fill="rgba(31,119,180,0.720)"/>
<circle cx="412.69" cy="272.55" r="0.75" fill="rgba(31,119,180,0.720)"/>
<circle cx="414.37" cy="274.88" r="0.75" fill="rgba(31,119,180,0.720)"/>
<circle cx="416.04" cy="291.49" r="0.75" fill="rgba(31,119,180,0.720)"/>
<circle cx="414.04" cy="286.43" r="0.75" fill="rgba(31,119,180,0.720)"/>
<circle cx="412.79" cy="255.08" r="0.75" fill="rgba(31,119,180,0.720)"/>
<circle cx="411.86" cy="263.81" r="0.75" fill="rgba(31,119,180,0.720)"/>
<circle cx="413.78" cy="292.04" r="0.75" fill="rgba(31,119,180,0.720)"/>
<circle cx="413.3" cy="277.7" r="0.75" fill="rgba(31,119,180,0.720)"/>
<circle cx="411.76" cy="249.58" r="0.75" fill="rgba(31,119,180,0.720)"/>
<circle cx="412.29" cy="249.62" r="0.75" fill="rgba(31,119,180,0.720)"/>
<circle cx="415.81" cy="254.69" r="0.75" fill="rgba(31,119,180,0.720)"/>
<circle cx="413.52" cy="236.68" r="0.75" fill="rgba(31,119,180,0.720)"/>
<circle cx="413.37" cy="259.67" r="0.75" fill="rgba(31,119,180,0.720)"/>
<circle cx="411.97" cy="272.29" r="0.75" fill="rgba(31,119,180,0.720)"/>
<circle cx="413.04" cy="286.18" r="0.75" fill="rgba(31,119,180,0.720)"/>
<line x1="414" y1="335.4" x2="414" y2="337.2" stroke="#333" stroke-width="0.6"/>
<text x="417.8" y="343" font-size="6.4" text-anchor="end" fill="#1a1a1a" transform="rotate(-45 417.8 343) translate(417.8 343) scale(1 1.03) translate(-417.8 -343)" stroke="#1a1a1a" stroke-width="0.1">DRV/r_24</text>
<line x1="425.4" y1="225.75" x2="425.4" y2="253.28" stroke="rgba(31,119,180,1.000)" stroke-width="0.6"/>
<line x1="425.4" y1="291.58" x2="425.4" y2="316.27" stroke="rgba(31,119,180,1.000)" stroke-width="0.6"/>
<line x1="423.6" y1="225.75" x2="427.2" y2="225.75" stroke="rgba(31,119,180,1.000)" stroke-width="0.6"/>
<line x1="423.6" y1="316.27" x2="427.2" y2="316.27" stroke="rgba(31,119,180,1.000)" stroke-width="0.6"/>
<rect x="421.8" y="253.28" width="7.2" height="38.3" fill="rgba(31,119,180,0.380)" stroke="rgba(31,119,180,1.000)" stroke-width="0.6"/>
<line x1="421.8" y1="270.38" x2="429" y2="270.38" stroke="rgba(31,119,180,1.000)" stroke-width="0.9"/>
<circle cx="424.35" cy="282.03" r="0.75" fill="rgba(31,119,180,1.000)"/>
<circle cx="424.83" cy="284.31" r="0.75" fill="rgba(31,119,180,1.000)"/>
<circle cx="426.8" cy="257.72" r="0.75" fill="rgba(31,119,180,1.000)"/>
<circle cx="427.38" cy="256.6" r="0.75" fill="rgba(31,119,180,1.000)"/>
<circle cx="423.37" cy="264.02" r="0.75" fill="rgba(31,119,180,1.000)"/>
<circle cx="426.54" cy="274.32" r="0.75" fill="rgba(31,119,180,1.000)"/>
<circle cx="423.37" cy="280.62" r="0.75" fill="rgba(31,119,180,1.000)"/>
<circle cx="425.27" cy="286.71" r="0.75" fill="rgba(31,119,180,1.000)"/>
<circle cx="426.48" cy="280.18" r="0.75" fill="rgba(31,119,180,1.000)"/>
<circle cx="426.1" cy="281.62" r="0.75" fill="rgba(31,119,180,1.000)"/>
<circle cx="424.92" cy="270.24" r="0.75" fill="rgba(31,119,180,1.000)"/>
<circle cx="424.09" cy="248.83" r="0.75" fill="rgba(31,119,180,1.000)"/>
<circle cx="424.14" cy="272.55" r="0.75" fill="rgba(31,119,180,1.000)"/>
<circle cx="425.17" cy="253.42" r="0.75" fill="rgba(31,119,180,1.000)"/>
<circle cx="423.56" cy="311.52" r="0.75" fill="rgba(31,119,180,1.000)"/>
<circle cx="424.23" cy="288.09" r="0.75" fill="rgba(31,119,180,1.000)"/>
<circle cx="427.14" cy="237.6" r="0.75" fill="rgba(31,119,180,1.000)"/>
<circle cx="425.01" cy="275.77" r="0.75" fill="rgba(31,119,180,1.000)"/>
<circle cx="424.67" cy="277.15" r="0.75" fill="rgba(31,119,180,1.000)"/>
<circle cx="427.5" cy="309.42" r="0.75" fill="rgba(31,119,180,1.000)"/>
<circle cx="425.98" cy="303.84" r="0.75" fill="rgba(31,119,180,1.000)"/>
<circle cx="424.37" cy="283.31" r="0.75" fill="rgba(31,119,180,1.000)"/>
<circle cx="425.16" cy="242.28" r="0.75" fill="rgba(31,119,180,1.000)"/>
<circle cx="427.08" cy="259.08" r="0.75" fill="rgba(31,119,180,1.000)"/>
<circle cx="426.34" cy="315.47" r="0.75" fill="rgba(31,119,180,1.000)"/>
<circle cx="425.79" cy="273.46" r="0.75" fill="rgba(31,119,180,1.000)"/>
<circle cx="427.32" cy="306.6" r="0.75" fill="rgba(31,119,180,1.000)"/>
<circle cx="427.53" cy="258.82" r="0.75" fill="rgba(31,119,180,1.000)"/>
<circle cx="423.84" cy="250.28" r="0.75" fill="rgba(31,119,180,1.000)"/>
<circle cx="427.39" cy="265.46" r="0.75" fill="rgba(31,119,180,1.000)"/>
<circle cx="426.59" cy="266.79" r="0.75" fill="rgba(31,119,180,1.000)"/>
<circle cx="423.33" cy="270.46" r="0.75" fill="rgba(31,119,180,1.000)"/>
<circle cx="427.29" cy="282.67" r="0.75" fill="rgba(31,119,180,1.000)"/>
<circle cx="423.73" cy="279.95" r="0.75" fill="rgba(31,119,180,1.000)"/>
<circle cx="426.29" cy="235.76" r="0.75" fill="rgba(31,119,180,1.000)"/>
<circle cx="425.51" cy="314.53" r="0.75" fill="rgba(31,119,180,1.000)"/>
<circle cx="424.16" cy="276.72" r="0.75" fill="rgba(31,119,180,1.000)"/>
<circle cx="424.51" cy="291.18" r="0.75" fill="rgba(31,119,180,1.000)"/>
<circle cx="426.05" cy="254.86" r="0.75" fill="rgba(31,119,180,1.000)"/>
<circle cx="424.21" cy="273.38" r="0.75" fill="rgba(31,119,180,1.000)"/>
<line x1="425.4" y1="335.4" x2="425.4" y2="337.2" stroke="#333" stroke-width="0.6"/>
<text x="429.2" y="343" font-size="6.4" text-anchor="end" fill="#1a1a1a" transform="rotate(-45 429.2 343) translate(429.2 343) scale(1 1.03) translate(-429.2 -343)" stroke="#1a1a1a" stroke-width="0.1">DRV/r_0</text>
<line x1="436.7" y1="225.75" x2="436.7" y2="253.28" stroke="rgba(31,119,180,0.500)" stroke-width="0.6"/>
<line x1="436.7" y1="285.57" x2="436.7" y2="314.05" stroke="rgba(31,119,180,0.500)" stroke-width="0.6"/>
<line x1="434.9" y1="225.75" x2="438.5" y2="225.75" stroke="rgba(31,119,180,0.500)" stroke-width="0.6"/>
<line x1="434.9" y1="314.05" x2="438.5" y2="314.05" stroke="rgba(31,119,180,0.500)" stroke-width="0.6"/>
<rect x="433.1" y="253.28" width="7.2" height="32.28" fill="rgba(31,119,180,0.200)" stroke="rgba(31,119,180,0.500)" stroke-width="0.6"/>
<line x1="433.1" y1="269.11" x2="440.3" y2="269.11" stroke="rgba(31,119,180,0.500)" stroke-width="0.9"/>
<circle cx="437.62" cy="226.83" r="0.75" fill="rgba(31,119,180,0.500)"/>
<circle cx="436.69" cy="284.86" r="0.75" fill="rgba(31,119,180,0.500)"/>
<circle cx="435.61" cy="272.01" r="0.75" fill="rgba(31,119,180,0.500)"/>
<circle cx="435.47" cy="255.7" r="0.75" fill="rgba(31,119,180,0.500)"/>
<circle cx="436.34" cy="304.42" r="0.75" fill="rgba(31,119,180,0.500)"/>
<circle cx="438.04" cy="279.17" r="0.75" fill="rgba(31,119,180,0.500)"/>
<circle cx="435.37" cy="269.27" r="0.75" fill="rgba(31,119,180,0.500)"/>
<circle cx="438.14" cy="275.5" r="0.75" fill="rgba(31,119,180,0.500)"/>
<circle cx="437.87" cy="247.19" r="0.75" fill="rgba(31,119,180,0.500)"/>
<circle cx="436.68" cy="227.07" r="0.75" fill="rgba(31,119,180,0.500)"/>
<circle cx="436.33" cy="247.14" r="0.75" fill="rgba(31,119,180,0.500)"/>
<circle cx="435.11" cy="254.94" r="0.75" fill="rgba(31,119,180,0.500)"/>
<circle cx="438.83" cy="278.69" r="0.75" fill="rgba(31,119,180,0.500)"/>
<circle cx="434.72" cy="312.58" r="0.75" fill="rgba(31,119,180,0.500)"/>
<circle cx="438.43" cy="256.57" r="0.75" fill="rgba(31,119,180,0.500)"/>
<circle cx="438.64" cy="253.36" r="0.75" fill="rgba(31,119,180,0.500)"/>
<circle cx="438.66" cy="279.58" r="0.75" fill="rgba(31,119,180,0.500)"/>
<circle cx="437.44" cy="284.54" r="0.75" fill="rgba(31,119,180,0.500)"/>
<circle cx="435.94" cy="273.5" r="0.75" fill="rgba(31,119,180,0.500)"/>
<circle cx="435.71" cy="253.21" r="0.75" fill="rgba(31,119,180,0.500)"/>
<circle cx="435.01" cy="254.72" r="0.75" fill="rgba(31,119,180,0.500)"/>
<circle cx="436.05" cy="278.87" r="0.75" fill="rgba(31,119,180,0.500)"/>
<circle cx="436.4" cy="259.03" r="0.75" fill="rgba(31,119,180,0.500)"/>
<circle cx="436.13" cy="300.57" r="0.75" fill="rgba(31,119,180,0.500)"/>
<circle cx="436.09" cy="279.34" r="0.75" fill="rgba(31,119,180,0.500)"/>
<line x1="436.7" y1="335.4" x2="436.7" y2="337.2" stroke="#333" stroke-width="0.6"/>
<text x="440.5" y="343" font-size="6.4" text-anchor="end" fill="#1a1a1a" transform="rotate(-45 440.5 343) translate(440.5 343) scale(1 1.03) translate(-440.5 -343)" stroke="#1a1a1a" stroke-width="0.1">DRV/r_48</text>
<line x1="453" y1="244.11" x2="453" y2="271.64" stroke="rgba(221,112,32,0.750)" stroke-width="0.6"/>
<line x1="453" y1="298.23" x2="453" y2="320.07" stroke="rgba(221,112,32,0.750)" stroke-width="0.6"/>
<line x1="451.2" y1="244.11" x2="454.8" y2="244.11" stroke="rgba(221,112,32,0.750)" stroke-width="0.6"/>
<line x1="451.2" y1="320.07" x2="454.8" y2="320.07" stroke="rgba(221,112,32,0.750)" stroke-width="0.6"/>
<rect x="449.4" y="271.64" width="7.2" height="26.59" fill="rgba(221,112,32,0.300)" stroke="rgba(221,112,32,0.750)" stroke-width="0.6"/>
<line x1="449.4" y1="288.42" x2="456.6" y2="288.42" stroke="rgba(221,112,32,0.750)" stroke-width="0.9"/>
<circle cx="452.6" cy="297.42" r="0.75" fill="rgba(221,112,32,0.750)"/>
<circle cx="450.93" cy="277.85" r="0.75" fill="rgba(221,112,32,0.750)"/>
<circle cx="454.89" cy="318.7" r="0.75" fill="rgba(221,112,32,0.750)"/>
<circle cx="454.79" cy="251.07" r="0.75" fill="rgba(221,112,32,0.750)"/>
<circle cx="455.06" cy="290.99" r="0.75" fill="rgba(221,112,32,0.750)"/>
<circle cx="453.97" cy="291.26" r="0.75" fill="rgba(221,112,32,0.750)"/>
<circle cx="450.77" cy="290.9" r="0.75" fill="rgba(221,112,32,0.750)"/>
<circle cx="453.6" cy="273.86" r="0.75" fill="rgba(221,112,32,0.750)"/>
<circle cx="451.8" cy="297.58" r="0.75" fill="rgba(221,112,32,0.750)"/>
<circle cx="455.04" cy="272.79" r="0.75" fill="rgba(221,112,32,0.750)"/>
<circle cx="452.68" cy="291.55" r="0.75" fill="rgba(221,112,32,0.750)"/>
<circle cx="451.57" cy="273.55" r="0.75" fill="rgba(221,112,32,0.750)"/>
<circle cx="454.45" cy="278.59" r="0.75" fill="rgba(221,112,32,0.750)"/>
<circle cx="452.23" cy="282.08" r="0.75" fill="rgba(221,112,32,0.750)"/>
<circle cx="454.27" cy="288.61" r="0.75" fill="rgba(221,112,32,0.750)"/>
<circle cx="454.14" cy="315.76" r="0.75" fill="rgba(221,112,32,0.750)"/>
<circle cx="450.9" cy="269.86" r="0.75" fill="rgba(221,112,32,0.750)"/>
<circle cx="455.16" cy="289.57" r="0.75" fill="rgba(221,112,32,0.750)"/>
<circle cx="451.94" cy="271.97" r="0.75" fill="rgba(221,112,32,0.750)"/>
<circle cx="452.99" cy="317.96" r="0.75" fill="rgba(221,112,32,0.750)"/>
<circle cx="451.8" cy="286.35" r="0.75" fill="rgba(221,112,32,0.750)"/>
<circle cx="453.78" cy="281.74" r="0.75" fill="rgba(221,112,32,0.750)"/>
<circle cx="453.74" cy="275.71" r="0.75" fill="rgba(221,112,32,0.750)"/>
<circle cx="452.07" cy="301.7" r="0.75" fill="rgba(221,112,32,0.750)"/>
<circle cx="454.07" cy="288.31" r="0.75" fill="rgba(221,112,32,0.750)"/>
<circle cx="453" cy="226.6" r="0.8" fill="rgba(221,112,32,0.750)"/>
<line x1="453" y1="335.4" x2="453" y2="337.2" stroke="#333" stroke-width="0.6"/>
<text x="456.8" y="343" font-size="6.4" text-anchor="end" fill="#1a1a1a" transform="rotate(-45 456.8 343) translate(456.8 343) scale(1 1.03) translate(-456.8 -343)" stroke="#1a1a1a" stroke-width="0.1">DTG_24</text>
<line x1="464.3" y1="248.54" x2="464.3" y2="268.16" stroke="rgba(221,112,32,0.320)" stroke-width="0.6"/>
<line x1="464.3" y1="294.11" x2="464.3" y2="321.97" stroke="rgba(221,112,32,0.320)" stroke-width="0.6"/>
<line x1="462.5" y1="248.54" x2="466.1" y2="248.54" stroke="rgba(221,112,32,0.320)" stroke-width="0.6"/>
<line x1="462.5" y1="321.97" x2="466.1" y2="321.97" stroke="rgba(221,112,32,0.320)" stroke-width="0.6"/>
<rect x="460.7" y="268.16" width="7.2" height="25.95" fill="rgba(221,112,32,0.120)" stroke="rgba(221,112,32,0.320)" stroke-width="0.6"/>
<line x1="460.7" y1="282.4" x2="467.9" y2="282.4" stroke="rgba(221,112,32,0.320)" stroke-width="0.9"/>
<circle cx="463.15" cy="263.31" r="0.75" fill="rgba(221,112,32,0.320)"/>
<circle cx="464.65" cy="250.81" r="0.75" fill="rgba(221,112,32,0.320)"/>
<circle cx="466.52" cy="283.83" r="0.75" fill="rgba(221,112,32,0.320)"/>
<circle cx="465.69" cy="288.11" r="0.75" fill="rgba(221,112,32,0.320)"/>
<circle cx="462.51" cy="268.4" r="0.75" fill="rgba(221,112,32,0.320)"/>
<circle cx="465.83" cy="272.86" r="0.75" fill="rgba(221,112,32,0.320)"/>
<circle cx="463.37" cy="293.07" r="0.75" fill="rgba(221,112,32,0.320)"/>
<circle cx="466.43" cy="316.69" r="0.75" fill="rgba(221,112,32,0.320)"/>
<circle cx="463.73" cy="269.97" r="0.75" fill="rgba(221,112,32,0.320)"/>
<circle cx="463.22" cy="282.46" r="0.75" fill="rgba(221,112,32,0.320)"/>
<circle cx="462.53" cy="269.57" r="0.75" fill="rgba(221,112,32,0.320)"/>
<circle cx="463.03" cy="278.02" r="0.75" fill="rgba(221,112,32,0.320)"/>
<circle cx="462.97" cy="290.44" r="0.75" fill="rgba(221,112,32,0.320)"/>
<circle cx="464.98" cy="256.4" r="0.75" fill="rgba(221,112,32,0.320)"/>
<circle cx="463.52" cy="267.94" r="0.75" fill="rgba(221,112,32,0.320)"/>
<circle cx="463.45" cy="289.31" r="0.75" fill="rgba(221,112,32,0.320)"/>
<circle cx="464.52" cy="252.55" r="0.75" fill="rgba(221,112,32,0.320)"/>
<circle cx="463.83" cy="319.14" r="0.75" fill="rgba(221,112,32,0.320)"/>
<circle cx="462.46" cy="277.52" r="0.75" fill="rgba(221,112,32,0.320)"/>
<circle cx="463.89" cy="254.51" r="0.75" fill="rgba(221,112,32,0.320)"/>
<circle cx="466.34" cy="262.12" r="0.75" fill="rgba(221,112,32,0.320)"/>
<circle cx="463.66" cy="279.41" r="0.75" fill="rgba(221,112,32,0.320)"/>
<circle cx="466.53" cy="271.68" r="0.75" fill="rgba(221,112,32,0.320)"/>
<circle cx="465.33" cy="289" r="0.75" fill="rgba(221,112,32,0.320)"/>
<circle cx="466.11" cy="268.05" r="0.75" fill="rgba(221,112,32,0.320)"/>
<line x1="464.3" y1="335.4" x2="464.3" y2="337.2" stroke="#333" stroke-width="0.6"/>
<text x="468.1" y="343" font-size="6.4" text-anchor="end" fill="#1a1a1a" transform="rotate(-45 468.1 343) translate(468.1 343) scale(1 1.03) translate(-468.1 -343)" stroke="#1a1a1a" stroke-width="0.1">DTG_96</text>
<line x1="475.8" y1="229.55" x2="475.8" y2="262.15" stroke="rgba(221,112,32,0.500)" stroke-width="0.6"/>
<line x1="475.8" y1="296.65" x2="475.8" y2="312.79" stroke="rgba(221,112,32,0.500)" stroke-width="0.6"/>
<line x1="474" y1="229.55" x2="477.6" y2="229.55" stroke="rgba(221,112,32,0.500)" stroke-width="0.6"/>
<line x1="474" y1="312.79" x2="477.6" y2="312.79" stroke="rgba(221,112,32,0.500)" stroke-width="0.6"/>
<rect x="472.2" y="262.15" width="7.2" height="34.5" fill="rgba(221,112,32,0.200)" stroke="rgba(221,112,32,0.500)" stroke-width="0.6"/>
<line x1="472.2" y1="280.19" x2="479.4" y2="280.19" stroke="rgba(221,112,32,0.500)" stroke-width="0.9"/>
<circle cx="475.38" cy="268.34" r="0.75" fill="rgba(221,112,32,0.500)"/>
<circle cx="474.28" cy="280.74" r="0.75" fill="rgba(221,112,32,0.500)"/>
<circle cx="476.43" cy="303.88" r="0.75" fill="rgba(221,112,32,0.500)"/>
<circle cx="476.35" cy="293.57" r="0.75" fill="rgba(221,112,32,0.500)"/>
<circle cx="474.21" cy="279.24" r="0.75" fill="rgba(221,112,32,0.500)"/>
<circle cx="477.71" cy="245.16" r="0.75" fill="rgba(221,112,32,0.500)"/>
<circle cx="477.17" cy="304.87" r="0.75" fill="rgba(221,112,32,0.500)"/>
<circle cx="474.12" cy="289.84" r="0.75" fill="rgba(221,112,32,0.500)"/>
<circle cx="475.72" cy="262.99" r="0.75" fill="rgba(221,112,32,0.500)"/>
<circle cx="475.3" cy="297.84" r="0.75" fill="rgba(221,112,32,0.500)"/>
<circle cx="477.26" cy="275.24" r="0.75" fill="rgba(221,112,32,0.500)"/>
<circle cx="474.55" cy="236.53" r="0.75" fill="rgba(221,112,32,0.500)"/>
<circle cx="477.28" cy="267.45" r="0.75" fill="rgba(221,112,32,0.500)"/>
<circle cx="475.35" cy="255.04" r="0.75" fill="rgba(221,112,32,0.500)"/>
<circle cx="474.1" cy="283.41" r="0.75" fill="rgba(221,112,32,0.500)"/>
<circle cx="477.59" cy="238.52" r="0.75" fill="rgba(221,112,32,0.500)"/>
<circle cx="476.96" cy="303.71" r="0.75" fill="rgba(221,112,32,0.500)"/>
<circle cx="474.08" cy="299.26" r="0.75" fill="rgba(221,112,32,0.500)"/>
<circle cx="476.37" cy="277.67" r="0.75" fill="rgba(221,112,32,0.500)"/>
<circle cx="476.17" cy="282.15" r="0.75" fill="rgba(221,112,32,0.500)"/>
<circle cx="475.56" cy="273.92" r="0.75" fill="rgba(221,112,32,0.500)"/>
<circle cx="476.34" cy="295.84" r="0.75" fill="rgba(221,112,32,0.500)"/>
<circle cx="476.99" cy="288.53" r="0.75" fill="rgba(221,112,32,0.500)"/>
<circle cx="474.36" cy="280.84" r="0.75" fill="rgba(221,112,32,0.500)"/>
<circle cx="474.13" cy="292.95" r="0.75" fill="rgba(221,112,32,0.500)"/>
<line x1="475.8" y1="335.4" x2="475.8" y2="337.2" stroke="#333" stroke-width="0.6"/>
<text x="479.6" y="343" font-size="6.4" text-anchor="end" fill="#1a1a1a" transform="rotate(-45 479.6 343) translate(479.6 343) scale(1 1.03) translate(-479.6 -343)" stroke="#1a1a1a" stroke-width="0.1">DTG_48</text>
<line x1="487.2" y1="225.75" x2="487.2" y2="244.11" stroke="rgba(221,112,32,1.000)" stroke-width="0.6"/>
<line x1="487.2" y1="291.58" x2="487.2" y2="316.27" stroke="rgba(221,112,32,1.000)" stroke-width="0.6"/>
<line x1="485.4" y1="225.75" x2="489" y2="225.75" stroke="rgba(221,112,32,1.000)" stroke-width="0.6"/>
<line x1="485.4" y1="316.27" x2="489" y2="316.27" stroke="rgba(221,112,32,1.000)" stroke-width="0.6"/>
<rect x="483.6" y="244.11" width="7.2" height="47.47" fill="rgba(221,112,32,0.380)" stroke="rgba(221,112,32,1.000)" stroke-width="0.6"/>
<line x1="483.6" y1="269.74" x2="490.8" y2="269.74" stroke="rgba(221,112,32,1.000)" stroke-width="0.9"/>
<circle cx="486.94" cy="287.23" r="0.75" fill="rgba(221,112,32,1.000)"/>
<circle cx="487.81" cy="289.65" r="0.75" fill="rgba(221,112,32,1.000)"/>
<circle cx="488.45" cy="298.16" r="0.75" fill="rgba(221,112,32,1.000)"/>
<circle cx="487.22" cy="289.01" r="0.75" fill="rgba(221,112,32,1.000)"/>
<circle cx="485.56" cy="246.44" r="0.75" fill="rgba(221,112,32,1.000)"/>
<circle cx="488.24" cy="244.29" r="0.75" fill="rgba(221,112,32,1.000)"/>
<circle cx="489.37" cy="282.39" r="0.75" fill="rgba(221,112,32,1.000)"/>
<circle cx="489.07" cy="246.17" r="0.75" fill="rgba(221,112,32,1.000)"/>
<circle cx="489.14" cy="229.63" r="0.75" fill="rgba(221,112,32,1.000)"/>
<circle cx="488.35" cy="307.61" r="0.75" fill="rgba(221,112,32,1.000)"/>
<circle cx="486.19" cy="227.65" r="0.75" fill="rgba(221,112,32,1.000)"/>
<circle cx="487.21" cy="284.77" r="0.75" fill="rgba(221,112,32,1.000)"/>
<circle cx="486.13" cy="281.69" r="0.75" fill="rgba(221,112,32,1.000)"/>
<circle cx="485.12" cy="276.43" r="0.75" fill="rgba(221,112,32,1.000)"/>
<circle cx="489.16" cy="241.15" r="0.75" fill="rgba(221,112,32,1.000)"/>
<circle cx="485.71" cy="249.07" r="0.75" fill="rgba(221,112,32,1.000)"/>
<circle cx="487.34" cy="286.12" r="0.75" fill="rgba(221,112,32,1.000)"/>
<circle cx="488.88" cy="274.5" r="0.75" fill="rgba(221,112,32,1.000)"/>
<circle cx="488.92" cy="264.04" r="0.75" fill="rgba(221,112,32,1.000)"/>
<circle cx="487.78" cy="291.76" r="0.75" fill="rgba(221,112,32,1.000)"/>
<circle cx="486.14" cy="253.71" r="0.75" fill="rgba(221,112,32,1.000)"/>
<circle cx="486.57" cy="264.17" r="0.75" fill="rgba(221,112,32,1.000)"/>
<circle cx="485.75" cy="270.58" r="0.75" fill="rgba(221,112,32,1.000)"/>
<circle cx="488.64" cy="289.29" r="0.75" fill="rgba(221,112,32,1.000)"/>
<circle cx="489.38" cy="232.37" r="0.75" fill="rgba(221,112,32,1.000)"/>
<circle cx="486.36" cy="260.07" r="0.75" fill="rgba(221,112,32,1.000)"/>
<circle cx="485.62" cy="315.43" r="0.75" fill="rgba(221,112,32,1.000)"/>
<circle cx="487.26" cy="271.06" r="0.75" fill="rgba(221,112,32,1.000)"/>
<circle cx="485.97" cy="285.31" r="0.75" fill="rgba(221,112,32,1.000)"/>
<circle cx="484.96" cy="290.52" r="0.75" fill="rgba(221,112,32,1.000)"/>
<circle cx="486.56" cy="286.53" r="0.75" fill="rgba(221,112,32,1.000)"/>
<circle cx="487.6" cy="233.39" r="0.75" fill="rgba(221,112,32,1.000)"/>
<circle cx="487.09" cy="232.65" r="0.75" fill="rgba(221,112,32,1.000)"/>
<circle cx="486.05" cy="293.15" r="0.75" fill="rgba(221,112,32,1.000)"/>
<circle cx="487.82" cy="313.9" r="0.75" fill="rgba(221,112,32,1.000)"/>
<circle cx="486.76" cy="254.45" r="0.75" fill="rgba(221,112,32,1.000)"/>
<circle cx="487.85" cy="243.9" r="0.75" fill="rgba(221,112,32,1.000)"/>
<circle cx="487.86" cy="274.95" r="0.75" fill="rgba(221,112,32,1.000)"/>
<circle cx="488.25" cy="247.09" r="0.75" fill="rgba(221,112,32,1.000)"/>
<circle cx="485.15" cy="227.52" r="0.75" fill="rgba(221,112,32,1.000)"/>
<circle cx="486.02" cy="272.31" r="0.75" fill="rgba(221,112,32,1.000)"/>
<circle cx="485.01" cy="297.04" r="0.75" fill="rgba(221,112,32,1.000)"/>
<circle cx="485.59" cy="246.91" r="0.75" fill="rgba(221,112,32,1.000)"/>
<circle cx="487.23" cy="232.94" r="0.75" fill="rgba(221,112,32,1.000)"/>
<circle cx="485.74" cy="252.97" r="0.75" fill="rgba(221,112,32,1.000)"/>
<line x1="487.2" y1="335.4" x2="487.2" y2="337.2" stroke="#333" stroke-width="0.6"/>
<text x="491" y="343" font-size="6.4" text-anchor="end" fill="#1a1a1a" transform="rotate(-45 491 343) translate(491 343) scale(1 1.03) translate(-491 -343)" stroke="#1a1a1a" stroke-width="0.1">DTG_0</text>
<text x="508.3" y="199.8" font-size="13.4" text-anchor="start" fill="#000" transform="translate(508.3 199.8) scale(1 1.08) translate(-508.3 -199.8)" stroke="#000" stroke-width="0.35">E</text>
<line x1="554.2" y1="204.6" x2="554.2" y2="244.4" stroke="#333" stroke-width="0.55"/>
<line x1="577.5" y1="204.6" x2="577.5" y2="244.4" stroke="#666" stroke-width="0.5" stroke-dasharray="0.9,0.9"/>
<line x1="554.2" y1="247.6" x2="554.2" y2="287.6" stroke="#333" stroke-width="0.55"/>
<line x1="577.5" y1="247.6" x2="577.5" y2="287.6" stroke="#666" stroke-width="0.5" stroke-dasharray="0.9,0.9"/>
<line x1="554.2" y1="290.5" x2="554.2" y2="359.4" stroke="#333" stroke-width="0.55"/>
<line x1="577.5" y1="290.5" x2="577.5" y2="359.1" stroke="#666" stroke-width="0.5" stroke-dasharray="0.9,0.9"/>
<line x1="563.2" y1="359.3" x2="656" y2="359.3" stroke="#333" stroke-width="0.55"/>
<text x="559.9" y="224.9" font-size="5.2" text-anchor="middle" fill="#111" transform="rotate(-90 559.9 224.9)" dominant-baseline="central" stroke="#111" stroke-width="0.1">DTG</text>
<text x="559.9" y="267.4" font-size="5.2" text-anchor="middle" fill="#111" transform="rotate(-90 559.9 267.4)" dominant-baseline="central" stroke="#111" stroke-width="0.1">DRV/r</text>
<text x="559.9" y="324.6" font-size="5.2" text-anchor="middle" fill="#111" transform="rotate(-90 559.9 324.6)" dominant-baseline="central" stroke="#111" stroke-width="0.1">metaHIV</text>
<line x1="552.4" y1="210.6" x2="554.2" y2="210.6" stroke="#333" stroke-width="0.6"/>
<text x="552.4" y="212.45" font-size="5.25" text-anchor="end" fill="#1a1a1a" stroke="#1a1a1a" stroke-width="0.1">DTG_0</text>
<line x1="608" y1="210.6" x2="646.8" y2="210.6" stroke="#555555" stroke-width="1"/>
<circle cx="627.4" cy="210.6" r="2.1" fill="#444444"/>
<line x1="552.4" y1="220.2" x2="554.2" y2="220.2" stroke="#333" stroke-width="0.6"/>
<text x="552.4" y="222.05" font-size="5.25" text-anchor="end" fill="#1a1a1a" stroke="#1a1a1a" stroke-width="0.1">DTG_48</text>
<line x1="596" y1="220.2" x2="634.8" y2="220.2" stroke="#c8c8c8" stroke-width="1"/>
<circle cx="615.4" cy="220.2" r="2.1" fill="#444444"/>
<line x1="552.4" y1="229.7" x2="554.2" y2="229.7" stroke="#333" stroke-width="0.6"/>
<text x="552.4" y="231.55" font-size="5.25" text-anchor="end" fill="#1a1a1a" stroke="#1a1a1a" stroke-width="0.1">DTG_24</text>
<line x1="591.3" y1="229.7" x2="631.4" y2="229.7" stroke="#555555" stroke-width="1"/>
<circle cx="611" cy="229.7" r="2.1" fill="#444444"/>
<line x1="552.4" y1="239.2" x2="554.2" y2="239.2" stroke="#333" stroke-width="0.6"/>
<text x="552.4" y="241.05" font-size="5.25" text-anchor="end" fill="#1a1a1a" stroke="#1a1a1a" stroke-width="0.1">DTG_96</text>
<line x1="589.1" y1="239.2" x2="628.1" y2="239.2" stroke="#555555" stroke-width="1"/>
<circle cx="608.5" cy="239.2" r="2.1" fill="#444444"/>
<line x1="552.4" y1="253.3" x2="554.2" y2="253.3" stroke="#333" stroke-width="0.6"/>
<text x="552.4" y="255.15" font-size="5.25" text-anchor="end" fill="#1a1a1a" stroke="#1a1a1a" stroke-width="0.1">DRV/r_24</text>
<line x1="608.9" y1="253.3" x2="651.9" y2="253.3" stroke="#555555" stroke-width="1"/>
<circle cx="630.3" cy="253.3" r="2.1" fill="#444444"/>
<line x1="552.4" y1="263" x2="554.2" y2="263" stroke="#333" stroke-width="0.6"/>
<text x="552.4" y="264.85" font-size="5.25" text-anchor="end" fill="#1a1a1a" stroke="#1a1a1a" stroke-width="0.1">DRV/r_48</text>
<line x1="604.9" y1="263" x2="644.6" y2="263" stroke="#c8c8c8" stroke-width="1"/>
<circle cx="624.8" cy="263" r="2.1" fill="#444444"/>
<line x1="552.4" y1="272.4" x2="554.2" y2="272.4" stroke="#333" stroke-width="0.6"/>
<text x="552.4" y="274.25" font-size="5.25" text-anchor="end" fill="#1a1a1a" stroke="#1a1a1a" stroke-width="0.1">DRV/r_0</text>
<line x1="604.5" y1="272.4" x2="643.3" y2="272.4" stroke="#555555" stroke-width="1"/>
<circle cx="623.8" cy="272.4" r="2.1" fill="#444444"/>
<line x1="552.4" y1="282.1" x2="554.2" y2="282.1" stroke="#333" stroke-width="0.6"/>
<text x="552.4" y="283.95" font-size="5.25" text-anchor="end" fill="#1a1a1a" stroke="#1a1a1a" stroke-width="0.1">DRV/r_96</text>
<line x1="600" y1="282.1" x2="640" y2="282.1" stroke="#777777" stroke-width="1"/>
<circle cx="619.9" cy="282.1" r="2.1" fill="#444444"/>
<line x1="552.4" y1="296.3" x2="554.2" y2="296.3" stroke="#333" stroke-width="0.6"/>
<text x="552.4" y="298.15" font-size="5.25" text-anchor="end" fill="#1a1a1a" stroke="#1a1a1a" stroke-width="0.1">discordant</text>
<line x1="599.1" y1="296.3" x2="646.9" y2="296.3" stroke="#c8c8c8" stroke-width="1"/>
<circle cx="623.1" cy="296.3" r="2.1" fill="#444444"/>
<line x1="552.4" y1="305.7" x2="554.2" y2="305.7" stroke="#333" stroke-width="0.6"/>
<text x="552.4" y="307.55" font-size="5.25" text-anchor="end" fill="#1a1a1a" stroke="#1a1a1a" stroke-width="0.1">elite_controllers</text>
<line x1="589" y1="305.7" x2="652" y2="305.7" stroke="#555555" stroke-width="1"/>
<circle cx="620.6" cy="305.7" r="2.1" fill="#444444"/>
<line x1="552.4" y1="315.5" x2="554.2" y2="315.5" stroke="#333" stroke-width="0.6"/>
<text x="552.4" y="317.35" font-size="5.25" text-anchor="end" fill="#1a1a1a" stroke="#1a1a1a" stroke-width="0.1">concordant</text>
<line x1="589.9" y1="315.5" x2="626.5" y2="315.5" stroke="#555555" stroke-width="1"/>
<circle cx="608.2" cy="315.5" r="2.1" fill="#444444"/>
<line x1="552.4" y1="325.1" x2="554.2" y2="325.1" stroke="#333" stroke-width="0.6"/>
<text x="552.4" y="326.95" font-size="5.25" text-anchor="end" fill="#1a1a1a" stroke="#1a1a1a" stroke-width="0.1">late_presenters</text>
<line x1="575.4" y1="325.1" x2="631.3" y2="325.1" stroke="#c8c8c8" stroke-width="1"/>
<circle cx="603.4" cy="325.1" r="2.1" fill="#444444"/>
<line x1="552.4" y1="334.7" x2="554.2" y2="334.7" stroke="#333" stroke-width="0.6"/>
<text x="552.4" y="336.55" font-size="5.25" text-anchor="end" fill="#1a1a1a" stroke="#1a1a1a" stroke-width="0.1">viremic_controllers</text>
<line x1="570.2" y1="334.7" x2="626.3" y2="334.7" stroke="#555555" stroke-width="1"/>
<circle cx="598.3" cy="334.7" r="2.1" fill="#444444"/>
<line x1="552.4" y1="344.3" x2="554.2" y2="344.3" stroke="#333" stroke-width="0.6"/>
<text x="552.4" y="346.15" font-size="5.25" text-anchor="end" fill="#1a1a1a" stroke="#1a1a1a" stroke-width="0.1">early_treated</text>
<line x1="567.3" y1="344.3" x2="620" y2="344.3" stroke="#555555" stroke-width="1"/>
<circle cx="593.7" cy="344.3" r="2.1" fill="#444444"/>
<line x1="552.4" y1="354" x2="554.2" y2="354" stroke="#333" stroke-width="0.6"/>
<text x="552.4" y="355.85" font-size="5.25" text-anchor="end" fill="#1a1a1a" stroke="#1a1a1a" stroke-width="0.1">naive</text>
<line x1="568.7" y1="354" x2="618.8" y2="354" stroke="#c8c8c8" stroke-width="1"/>
<circle cx="593.7" cy="354" r="2.1" fill="#444444"/>
<line x1="577.5" y1="359.1" x2="577.5" y2="360.9" stroke="#333" stroke-width="0.6"/>
<text x="577.5" y="365.9" font-size="5.3" text-anchor="middle" fill="#333" stroke="#333" stroke-width="0.1">0.00</text>
<line x1="597.05" y1="359.1" x2="597.05" y2="360.9" stroke="#333" stroke-width="0.6"/>
<text x="597.05" y="365.9" font-size="5.3" text-anchor="middle" fill="#333" stroke="#333" stroke-width="0.1">0.05</text>
<line x1="616.6" y1="359.1" x2="616.6" y2="360.9" stroke="#333" stroke-width="0.6"/>
<text x="616.6" y="365.9" font-size="5.3" text-anchor="middle" fill="#333" stroke="#333" stroke-width="0.1">0.10</text>
<line x1="636.15" y1="359.1" x2="636.15" y2="360.9" stroke="#333" stroke-width="0.6"/>
<text x="636.15" y="365.9" font-size="5.3" text-anchor="middle" fill="#333" stroke="#333" stroke-width="0.1">0.15</text>
<line x1="655.7" y1="359.1" x2="655.7" y2="360.9" stroke="#333" stroke-width="0.6"/>
<text x="655.7" y="365.9" font-size="5.3" text-anchor="middle" fill="#333" stroke="#333" stroke-width="0.1">0.20</text>
<text x="534.4" y="371.9" font-size="5.3" text-anchor="start" fill="#111" stroke="#111" stroke-width="0.1">Estimated difference in Bray–Curtis dissimilarity vs HIV−negative</text>
<text x="0.7" y="401.5" font-size="13.4" text-anchor="start" fill="#000" transform="translate(0.7 401.5) scale(1 1.08) translate(-0.7 -401.5)" stroke="#000" stroke-width="0.35">F</text>
<line x1="55.6" y1="427.9" x2="55.6" y2="517.5" stroke="#ebebeb" stroke-width="0.6"/>
<line x1="78.55" y1="427.9" x2="78.55" y2="517.5" stroke="#ebebeb" stroke-width="0.6"/>
<line x1="101.5" y1="427.9" x2="101.5" y2="517.5" stroke="#ebebeb" stroke-width="0.6"/>
<line x1="124.45" y1="427.9" x2="124.45" y2="517.5" stroke="#ebebeb" stroke-width="0.6"/>
<line x1="147.4" y1="427.9" x2="147.4" y2="517.5" stroke="#ebebeb" stroke-width="0.6"/>
<line x1="170.35" y1="427.9" x2="170.35" y2="517.5" stroke="#ebebeb" stroke-width="0.6"/>
<line x1="193.3" y1="427.9" x2="193.3" y2="517.5" stroke="#ebebeb" stroke-width="0.6"/>
<line x1="216.25" y1="427.9" x2="216.25" y2="517.5" stroke="#ebebeb" stroke-width="0.6"/>
<line x1="239.2" y1="427.9" x2="239.2" y2="517.5" stroke="#ebebeb" stroke-width="0.6"/>
<line x1="41.5" y1="452.3" x2="252.6" y2="452.3" stroke="#ebebeb" stroke-width="0.6"/>
<line x1="41.5" y1="493.3" x2="252.6" y2="493.3" stroke="#ebebeb" stroke-width="0.6"/>
<text x="37.6" y="454.6" font-size="6.8" text-anchor="end" fill="#4d4d4d" transform="translate(37.6 454.6) scale(1 1.15) translate(-37.6 -454.6)" stroke="#4d4d4d" stroke-width="0.15">DTG</text>
<text x="37.6" y="495.6" font-size="6.8" text-anchor="end" fill="#4d4d4d" transform="translate(37.6 495.6) scale(1 1.15) translate(-37.6 -495.6)" stroke="#4d4d4d" stroke-width="0.15">DRV/r</text>
<rect x="47.2" y="443.9" width="16.8" height="16.8" fill="#569a35" stroke="#1a1a1a" stroke-width="1.3"/>
<rect x="72.95" y="446.7" width="11.2" height="11.2" fill="#e2f2d2" stroke="none" stroke-width="1"/>
<rect x="93.1" y="443.9" width="16.8" height="16.8" fill="#c8307f" stroke="#1a1a1a" stroke-width="1.3"/>
<rect x="116.95" y="444.8" width="15" height="15" fill="#eda8d1" stroke="none" stroke-width="1"/>
<rect x="139.8" y="444.7" width="15.2" height="15.2" fill="#e17fb9" stroke="#1a1a1a" stroke-width="1.3"/>
<rect x="163.6" y="445.55" width="13.5" height="13.5" fill="#f3b9dc" stroke="none" stroke-width="1"/>
<rect x="185.5" y="444.5" width="15.6" height="15.6" fill="#dc70b0" stroke="#1a1a1a" stroke-width="1.3"/>
<rect x="208.45" y="444.5" width="15.6" height="15.6" fill="#df7ab5" stroke="#1a1a1a" stroke-width="1.3"/>
<rect x="230.3" y="443.4" width="17.8" height="17.8" fill="#4e8e2c" stroke="#1a1a1a" stroke-width="1.3"/>
<rect x="49.75" y="487.45" width="11.7" height="11.7" fill="#f9d7eb" stroke="none" stroke-width="1"/>
<rect x="72.7" y="487.45" width="11.7" height="11.7" fill="#f7cde5" stroke="none" stroke-width="1"/>
<rect x="96.3" y="488.1" width="10.4" height="10.4" fill="#f9ddee" stroke="none" stroke-width="1"/>
<rect x="122.45" y="491.3" width="4" height="4" fill="#fcf0f6" stroke="none" stroke-width="1"/>
<rect x="143.55" y="489.45" width="7.7" height="7.7" fill="#fbe8f2" stroke="none" stroke-width="1"/>
<rect x="165.75" y="488.7" width="9.2" height="9.2" fill="#ebf4e1" stroke="none" stroke-width="1"/>
<rect x="188.85" y="488.85" width="8.9" height="8.9" fill="#fbe6f1" stroke="none" stroke-width="1"/>
<rect x="211" y="488.05" width="10.5" height="10.5" fill="#f9deed" stroke="none" stroke-width="1"/>
<rect x="233.35" y="487.45" width="11.7" height="11.7" fill="#ddefca" stroke="none" stroke-width="1"/>
<text x="59.2" y="525.3" font-size="6.85" text-anchor="end" fill="#3a3a3a" transform="rotate(-45 59.2 525.3) translate(59.2 525.3) scale(1 1.15) translate(-59.2 -525.3)" stroke="#3a3a3a" stroke-width="0.15">CD4+ T cells</text>
<text x="82.15" y="525.3" font-size="6.85" text-anchor="end" fill="#3a3a3a" transform="rotate(-45 82.15 525.3) translate(82.15 525.3) scale(1 1.15) translate(-82.15 -525.3)" stroke="#3a3a3a" stroke-width="0.15">CD8+ T cells</text>
<text x="105.1" y="525.3" font-size="6.85" text-anchor="end" fill="#3a3a3a" transform="rotate(-45 105.1 525.3) translate(105.1 525.3) scale(1 1.15) translate(-105.1 -525.3)" stroke="#3a3a3a" stroke-width="0.15">CD4+ CD38+ HLA-DR+ T cells</text>
<text x="128.05" y="525.3" font-size="6.85" text-anchor="end" fill="#3a3a3a" transform="rotate(-45 128.05 525.3) translate(128.05 525.3) scale(1 1.15) translate(-128.05 -525.3)" stroke="#3a3a3a" stroke-width="0.15">CD8+ CD38+ HLA-DR+ T cells</text>
<text x="151" y="525.3" font-size="6.85" text-anchor="end" fill="#3a3a3a" transform="rotate(-45 151 525.3) translate(151 525.3) scale(1 1.15) translate(-151 -525.3)" stroke="#3a3a3a" stroke-width="0.15">CRP</text>
<text x="173.95" y="525.3" font-size="6.85" text-anchor="end" fill="#3a3a3a" transform="rotate(-45 173.95 525.3) translate(173.95 525.3) scale(1 1.15) translate(-173.95 -525.3)" stroke="#3a3a3a" stroke-width="0.15">IL-6</text>
<text x="196.9" y="525.3" font-size="6.85" text-anchor="end" fill="#3a3a3a" transform="rotate(-45 196.9 525.3) translate(196.9 525.3) scale(1 1.15) translate(-196.9 -525.3)" stroke="#3a3a3a" stroke-width="0.15">TNF-a</text>
<text x="219.85" y="525.3" font-size="6.85" text-anchor="end" fill="#3a3a3a" transform="rotate(-45 219.85 525.3) translate(219.85 525.3) scale(1 1.15) translate(-219.85 -525.3)" stroke="#3a3a3a" stroke-width="0.15">sCD14</text>
<text x="242.8" y="525.3" font-size="6.85" text-anchor="end" fill="#3a3a3a" transform="rotate(-45 242.8 525.3) translate(242.8 525.3) scale(1 1.15) translate(-242.8 -525.3)" stroke="#3a3a3a" stroke-width="0.15">BMI</text>
<rect x="267.2" y="465.8" width="3.8" height="3.8" fill="#f4f4f4" stroke="#111" stroke-width="1.3"/>
<text x="275" y="470.3" font-size="8" text-anchor="start" fill="#222" transform="translate(275 470.3) scale(1 1.15) translate(-275 -470.3)" stroke="#222" stroke-width="0.15">&lt; 0.05</text>
<rect x="266.9" y="480.6" width="4.4" height="4.4" fill="#f4f4f4" stroke="#d0d0d0" stroke-width="0.8"/>
<text x="275" y="485.2" font-size="8" text-anchor="start" fill="#222" transform="translate(275 485.2) scale(1 1.15) translate(-275 -485.2)" stroke="#222" stroke-width="0.15">ns</text>
<text x="182.5" y="565.5" font-size="6.5" text-anchor="middle" fill="#111" transform="translate(182.5 565.5) scale(1 1.15) translate(-182.5 -565.5)" stroke="#111" stroke-width="0.15">Repeated Measures Correlation</text>
<text x="182.5" y="572.4" font-size="6.5" text-anchor="middle" fill="#111" transform="translate(182.5 572.4) scale(1 1.15) translate(-182.5 -572.4)" stroke="#111" stroke-width="0.15">(Marker vs. Centroid Dist)</text>
<defs><linearGradient id="piyg" x1="0" x2="1" y1="0" y2="0"><stop offset="0" stop-color="#3a7d1e"/><stop offset="0.17" stop-color="#6aab3e"/><stop offset="0.3" stop-color="#b5dc88"/><stop offset="0.42" stop-color="#e8f4da"/><stop offset="0.5" stop-color="#f7f7f7"/><stop offset="0.6" stop-color="#f8d9ea"/><stop offset="0.72" stop-color="#eba3cc"/><stop offset="0.86" stop-color="#d45a9f"/><stop offset="1" stop-color="#a1055f"/></linearGradient></defs>
<rect x="148" y="575.4" width="69" height="11.5" fill="url(#piyg)" stroke="none" stroke-width="1"/>
<line x1="165.3" y1="575.4" x2="165.3" y2="577.6" stroke="#fff" stroke-width="0.6"/>
<line x1="165.3" y1="584.7" x2="165.3" y2="586.9" stroke="#fff" stroke-width="0.6"/>
<line x1="182.2" y1="575.4" x2="182.2" y2="577.6" stroke="#fff" stroke-width="0.6"/>
<line x1="182.2" y1="584.7" x2="182.2" y2="586.9" stroke="#fff" stroke-width="0.6"/>
<line x1="199.5" y1="575.4" x2="199.5" y2="577.6" stroke="#fff" stroke-width="0.6"/>
<line x1="199.5" y1="584.7" x2="199.5" y2="586.9" stroke="#fff" stroke-width="0.6"/>
<text x="165.6" y="595.9" font-size="6.8" text-anchor="middle" fill="#333" transform="translate(165.6 595.9) scale(1 1.15) translate(-165.6 -595.9)" stroke="#333" stroke-width="0.15">-0.3</text>
<text x="182.4" y="595.9" font-size="6.8" text-anchor="middle" fill="#333" transform="translate(182.4 595.9) scale(1 1.15) translate(-182.4 -595.9)" stroke="#333" stroke-width="0.15">0.0</text>
<text x="199.5" y="595.9" font-size="6.8" text-anchor="middle" fill="#333" transform="translate(199.5 595.9) scale(1 1.15) translate(-199.5 -595.9)" stroke="#333" stroke-width="0.15">0.3</text>
<text x="304.7" y="401.5" font-size="13.4" text-anchor="start" fill="#000" transform="translate(304.7 401.5) scale(1 1.08) translate(-304.7 -401.5)" stroke="#000" stroke-width="0.35">G</text>
<line x1="470.1" y1="412.2" x2="481.1" y2="412.2" stroke="rgb(31,119,180)" stroke-width="1.1"/>
<circle cx="475.6" cy="412.2" r="1.8" fill="rgb(31,119,180)"/>
<text x="486.6" y="414.75" font-size="7" text-anchor="start" fill="#222" transform="translate(486.6 414.75) scale(1 1.1) translate(-486.6 -414.75)">DRV/r</text>
<line x1="510.9" y1="412.2" x2="521.8" y2="412.2" stroke="rgb(221,112,32)" stroke-width="1.1"/>
<circle cx="516.4" cy="412.2" r="1.8" fill="rgb(221,112,32)"/>
<text x="527.4" y="414.75" font-size="7" text-anchor="start" fill="#222" transform="translate(527.4 414.75) scale(1 1.1) translate(-527.4 -414.75)">DTG</text>
<circle cx="397" cy="438.7" r="1.3" fill="rgba(31,119,180,0.680)"/>
<circle cx="343.88" cy="434.58" r="1.3" fill="rgba(31,119,180,0.680)"/>
<circle cx="347.56" cy="435.87" r="1.3" fill="rgba(31,119,180,0.680)"/>
<circle cx="365.54" cy="436.19" r="1.3" fill="rgba(31,119,180,0.680)"/>
<circle cx="361.03" cy="435.43" r="1.3" fill="rgba(221,112,32,0.680)"/>
<circle cx="367.01" cy="432.66" r="1.3" fill="rgba(221,112,32,0.680)"/>
<circle cx="352.58" cy="438.23" r="1.3" fill="rgba(31,119,180,0.680)"/>
<circle cx="359.16" cy="430.47" r="1.3" fill="rgba(221,112,32,0.680)"/>
<circle cx="347.05" cy="437.54" r="1.3" fill="rgba(31,119,180,0.680)"/>
<circle cx="368.77" cy="436.2" r="1.3" fill="rgba(31,119,180,0.680)"/>
<circle cx="350.67" cy="432.72" r="1.3" fill="rgba(31,119,180,0.680)"/>
<circle cx="400.68" cy="443.98" r="1.3" fill="rgba(31,119,180,0.680)"/>
<circle cx="370.43" cy="434.22" r="1.3" fill="rgba(221,112,32,0.680)"/>
<circle cx="389.78" cy="438.75" r="1.3" fill="rgba(221,112,32,0.680)"/>
<circle cx="371.34" cy="431.43" r="1.3" fill="rgba(221,112,32,0.680)"/>
<circle cx="353.13" cy="435.54" r="1.3" fill="rgba(31,119,180,0.680)"/>
<circle cx="356" cy="443.5" r="1.3" fill="rgba(31,119,180,0.680)"/>
<circle cx="372.91" cy="430.92" r="1.3" fill="rgba(31,119,180,0.680)"/>
<circle cx="355.21" cy="440.23" r="1.3" fill="rgba(31,119,180,0.680)"/>
<circle cx="368.68" cy="431.76" r="1.3" fill="rgba(221,112,32,0.680)"/>
<circle cx="346.9" cy="440.31" r="1.3" fill="rgba(31,119,180,0.680)"/>
<circle cx="349.5" cy="432.54" r="1.3" fill="rgba(31,119,180,0.680)"/>
<circle cx="347.97" cy="428.96" r="1.3" fill="rgba(221,112,32,0.680)"/>
<circle cx="382.12" cy="438.26" r="1.3" fill="rgba(221,112,32,0.680)"/>
<circle cx="348.85" cy="432.86" r="1.3" fill="rgba(31,119,180,0.680)"/>
<circle cx="369.67" cy="436.12" r="1.3" fill="rgba(221,112,32,0.680)"/>
<circle cx="401.3" cy="432.95" r="1.3" fill="rgba(31,119,180,0.680)"/>
<circle cx="354.78" cy="432.51" r="1.3" fill="rgba(221,112,32,0.680)"/>
<circle cx="344.2" cy="433.48" r="1.3" fill="rgba(221,112,32,0.680)"/>
<circle cx="356.33" cy="435.95" r="1.3" fill="rgba(31,119,180,0.680)"/>
<circle cx="364.3" cy="437.12" r="1.3" fill="rgba(31,119,180,0.680)"/>
<circle cx="344.09" cy="435.52" r="1.3" fill="rgba(31,119,180,0.680)"/>
<circle cx="355.68" cy="436.27" r="1.3" fill="rgba(31,119,180,0.680)"/>
<circle cx="361.47" cy="434.86" r="1.3" fill="rgba(31,119,180,0.680)"/>
<circle cx="352.85" cy="435.09" r="1.3" fill="rgba(31,119,180,0.680)"/>
<circle cx="346.59" cy="441.41" r="1.3" fill="rgba(221,112,32,0.680)"/>
<circle cx="414" cy="432" r="1.3" fill="rgba(221,112,32,0.680)"/>
<circle cx="358.2" cy="437.28" r="1.3" fill="rgba(31,119,180,0.680)"/>
<circle cx="361.04" cy="439.14" r="1.3" fill="rgba(221,112,32,0.680)"/>
<circle cx="361.24" cy="432.2" r="1.3" fill="rgba(31,119,180,0.680)"/>
<circle cx="356.95" cy="435.2" r="1.3" fill="rgba(31,119,180,0.680)"/>
<circle cx="349.39" cy="433.21" r="1.3" fill="rgba(31,119,180,0.680)"/>
<circle cx="411.71" cy="437.66" r="1.3" fill="rgba(31,119,180,0.680)"/>
<circle cx="367.89" cy="431.9" r="1.3" fill="rgba(221,112,32,0.680)"/>
<circle cx="354.14" cy="436.42" r="1.3" fill="rgba(31,119,180,0.680)"/>
<circle cx="392" cy="431" r="1.3" fill="rgba(31,119,180,0.680)"/>
<circle cx="401.85" cy="441.82" r="1.3" fill="rgba(221,112,32,0.680)"/>
<circle cx="342.33" cy="431.5" r="1.3" fill="rgba(221,112,32,0.680)"/>
<circle cx="349.75" cy="440.86" r="1.3" fill="rgba(31,119,180,0.680)"/>
<circle cx="350.52" cy="436.1" r="1.3" fill="rgba(221,112,32,0.680)"/>
<circle cx="370.1" cy="438.17" r="1.3" fill="rgba(31,119,180,0.680)"/>
<circle cx="364.45" cy="436.04" r="1.3" fill="rgba(31,119,180,0.680)"/>
<circle cx="340.87" cy="434.83" r="1.3" fill="rgba(31,119,180,0.680)"/>
<circle cx="355.87" cy="437.4" r="1.3" fill="rgba(31,119,180,0.680)"/>
<circle cx="344.62" cy="430.27" r="1.3" fill="rgba(221,112,32,0.680)"/>
<circle cx="354.2" cy="429.06" r="1.3" fill="rgba(31,119,180,0.680)"/>
<circle cx="363.73" cy="439.12" r="1.3" fill="rgba(221,112,32,0.680)"/>
<circle cx="351.46" cy="437.02" r="1.3" fill="rgba(221,112,32,0.680)"/>
<circle cx="409.65" cy="440.7" r="1.3" fill="rgba(221,112,32,0.680)"/>
<circle cx="387.18" cy="432.31" r="1.3" fill="rgba(31,119,180,0.680)"/>
<circle cx="354.37" cy="438.51" r="1.3" fill="rgba(31,119,180,0.680)"/>
<circle cx="346.88" cy="435.42" r="1.3" fill="rgba(221,112,32,0.680)"/>
<circle cx="353.64" cy="434.45" r="1.3" fill="rgba(221,112,32,0.680)"/>
<circle cx="358.76" cy="437.95" r="1.3" fill="rgba(31,119,180,0.680)"/>
<circle cx="427" cy="432" r="1.3" fill="rgba(221,112,32,0.680)"/>
<circle cx="342.73" cy="439.21" r="1.3" fill="rgba(221,112,32,0.680)"/>
<circle cx="369.62" cy="437.2" r="1.3" fill="rgba(31,119,180,0.680)"/>
<circle cx="355.98" cy="430.08" r="1.3" fill="rgba(31,119,180,0.680)"/>
<circle cx="350.37" cy="429.1" r="1.3" fill="rgba(31,119,180,0.680)"/>
<circle cx="365.44" cy="435.51" r="1.3" fill="rgba(221,112,32,0.680)"/>
<circle cx="345.42" cy="434.46" r="1.3" fill="rgba(31,119,180,0.680)"/>
<circle cx="384.66" cy="437.36" r="1.3" fill="rgba(221,112,32,0.680)"/>
<circle cx="365.43" cy="434.43" r="1.3" fill="rgba(221,112,32,0.680)"/>
<circle cx="368.97" cy="445.98" r="1.3" fill="rgba(31,119,180,0.680)"/>
<circle cx="346.52" cy="441.11" r="1.3" fill="rgba(31,119,180,0.680)"/>
<circle cx="353.21" cy="433.98" r="1.3" fill="rgba(31,119,180,0.680)"/>
<circle cx="347.8" cy="436.38" r="1.3" fill="rgba(221,112,32,0.680)"/>
<circle cx="361.61" cy="433.97" r="1.3" fill="rgba(221,112,32,0.680)"/>
<circle cx="355.34" cy="430.37" r="1.3" fill="rgba(31,119,180,0.680)"/>
<circle cx="365.26" cy="437.03" r="1.3" fill="rgba(221,112,32,0.680)"/>
<circle cx="363.6" cy="434.78" r="1.3" fill="rgba(31,119,180,0.680)"/>
<circle cx="369.12" cy="435.36" r="1.3" fill="rgba(31,119,180,0.680)"/>
<circle cx="340.87" cy="434.38" r="1.3" fill="rgba(221,112,32,0.680)"/>
<circle cx="355.67" cy="434.39" r="1.3" fill="rgba(221,112,32,0.680)"/>
<circle cx="362.69" cy="434.94" r="1.3" fill="rgba(31,119,180,0.680)"/>
<circle cx="349.34" cy="437.95" r="1.3" fill="rgba(31,119,180,0.680)"/>
<circle cx="385" cy="429.5" r="1.3" fill="rgba(221,112,32,0.680)"/>
<circle cx="346.97" cy="433.96" r="1.3" fill="rgba(221,112,32,0.680)"/>
<circle cx="343.11" cy="436.19" r="1.3" fill="rgba(31,119,180,0.680)"/>
<circle cx="382" cy="443.5" r="1.3" fill="rgba(221,112,32,0.680)"/>
<circle cx="361.63" cy="437.46" r="1.3" fill="rgba(221,112,32,0.680)"/>
<circle cx="358.13" cy="439.08" r="1.3" fill="rgba(221,112,32,0.680)"/>
<circle cx="379.36" cy="439.96" r="1.3" fill="rgba(31,119,180,0.680)"/>
<circle cx="352.9" cy="436.58" r="1.3" fill="rgba(221,112,32,0.680)"/>
<circle cx="344.12" cy="439.64" r="1.3" fill="rgba(221,112,32,0.680)"/>
<circle cx="350.65" cy="437.6" r="1.3" fill="rgba(31,119,180,0.680)"/>
<circle cx="368" cy="450" r="1.3" fill="rgba(31,119,180,0.680)"/>
<circle cx="344.36" cy="440.52" r="1.3" fill="rgba(31,119,180,0.680)"/>
<circle cx="340.19" cy="434.2" r="1.3" fill="rgba(31,119,180,0.680)"/>
<circle cx="409.94" cy="441.51" r="1.3" fill="rgba(221,112,32,0.680)"/>
<circle cx="374.6" cy="436.79" r="1.3" fill="rgba(31,119,180,0.680)"/>
<circle cx="350.81" cy="443.66" r="1.3" fill="rgba(31,119,180,0.680)"/>
<circle cx="424.47" cy="441.44" r="1.3" fill="rgba(31,119,180,0.680)"/>
<circle cx="348.55" cy="442.98" r="1.3" fill="rgba(221,112,32,0.680)"/>
<circle cx="373.85" cy="440.17" r="1.3" fill="rgba(221,112,32,0.680)"/>
<circle cx="370.68" cy="438.82" r="1.3" fill="rgba(31,119,180,0.680)"/>
<circle cx="344.34" cy="436.59" r="1.3" fill="rgba(31,119,180,0.680)"/>
<circle cx="354.39" cy="440.75" r="1.3" fill="rgba(31,119,180,0.680)"/>
<circle cx="347.49" cy="440.81" r="1.3" fill="rgba(221,112,32,0.680)"/>
<circle cx="373.23" cy="437.77" r="1.3" fill="rgba(221,112,32,0.680)"/>
<circle cx="353.46" cy="436.43" r="1.3" fill="rgba(221,112,32,0.680)"/>
<circle cx="379.76" cy="432.61" r="1.3" fill="rgba(31,119,180,0.680)"/>
<circle cx="349.43" cy="435.9" r="1.3" fill="rgba(31,119,180,0.680)"/>
<circle cx="361.2" cy="457.42" r="1.3" fill="rgba(31,119,180,0.680)"/>
<circle cx="353.65" cy="433.08" r="1.3" fill="rgba(31,119,180,0.680)"/>
<circle cx="349.47" cy="437.82" r="1.3" fill="rgba(31,119,180,0.680)"/>
<circle cx="361.29" cy="434.5" r="1.3" fill="rgba(221,112,32,0.680)"/>
<circle cx="355.63" cy="440.07" r="1.3" fill="rgba(31,119,180,0.680)"/>
<circle cx="428" cy="437" r="1.3" fill="rgba(31,119,180,0.680)"/>
<circle cx="362.39" cy="429.03" r="1.3" fill="rgba(221,112,32,0.680)"/>
<circle cx="366" cy="433.94" r="1.3" fill="rgba(221,112,32,0.680)"/>
<circle cx="363" cy="443" r="1.3" fill="rgba(31,119,180,0.680)"/>
<circle cx="350.39" cy="440.67" r="1.3" fill="rgba(221,112,32,0.680)"/>
<circle cx="398.22" cy="437.52" r="1.3" fill="rgba(221,112,32,0.680)"/>
<circle cx="345.59" cy="434.76" r="1.3" fill="rgba(221,112,32,0.680)"/>
<circle cx="351.62" cy="430.01" r="1.3" fill="rgba(31,119,180,0.680)"/>
<circle cx="348.26" cy="439.14" r="1.3" fill="rgba(221,112,32,0.680)"/>
<circle cx="342.85" cy="437.64" r="1.3" fill="rgba(221,112,32,0.680)"/>
<circle cx="368.43" cy="438.51" r="1.3" fill="rgba(31,119,180,0.680)"/>
<circle cx="357.92" cy="434.85" r="1.3" fill="rgba(221,112,32,0.680)"/>
<circle cx="371.27" cy="444.94" r="1.3" fill="rgba(31,119,180,0.680)"/>
<circle cx="367.35" cy="431.48" r="1.3" fill="rgba(221,112,32,0.680)"/>
<circle cx="356.71" cy="431.4" r="1.3" fill="rgba(31,119,180,0.680)"/>
<circle cx="365.8" cy="429.3" r="1.3" fill="rgba(31,119,180,0.680)"/>
<circle cx="362.19" cy="433.12" r="1.3" fill="rgba(31,119,180,0.680)"/>
<circle cx="351.92" cy="439.4" r="1.3" fill="rgba(31,119,180,0.680)"/>
<circle cx="356.51" cy="439.55" r="1.3" fill="rgba(31,119,180,0.680)"/>
<circle cx="343.86" cy="434.19" r="1.3" fill="rgba(31,119,180,0.680)"/>
<circle cx="367.35" cy="436.71" r="1.3" fill="rgba(31,119,180,0.680)"/>
<circle cx="366.46" cy="437.16" r="1.3" fill="rgba(31,119,180,0.680)"/>
<circle cx="343.93" cy="432.38" r="1.3" fill="rgba(221,112,32,0.680)"/>
<circle cx="369" cy="446" r="1.3" fill="rgba(31,119,180,0.680)"/>
<circle cx="342.88" cy="437.65" r="1.3" fill="rgba(31,119,180,0.680)"/>
<circle cx="346.01" cy="432.39" r="1.3" fill="rgba(31,119,180,0.680)"/>
<circle cx="366.5" cy="437.52" r="1.3" fill="rgba(31,119,180,0.680)"/>
<circle cx="371.05" cy="434.6" r="1.3" fill="rgba(31,119,180,0.680)"/>
<circle cx="357.21" cy="434.06" r="1.3" fill="rgba(221,112,32,0.680)"/>
<circle cx="347.9" cy="443.97" r="1.3" fill="rgba(221,112,32,0.680)"/>
<circle cx="347.75" cy="431.82" r="1.3" fill="rgba(31,119,180,0.680)"/>
<circle cx="355.02" cy="433.72" r="1.3" fill="rgba(31,119,180,0.680)"/>
<circle cx="381.16" cy="436.33" r="1.3" fill="rgba(31,119,180,0.680)"/>
<circle cx="405.25" cy="440.99" r="1.3" fill="rgba(221,112,32,0.680)"/>
<circle cx="344.72" cy="433.58" r="1.3" fill="rgba(31,119,180,0.680)"/>
<circle cx="355.21" cy="434.73" r="1.3" fill="rgba(221,112,32,0.680)"/>
<circle cx="389.07" cy="439.67" r="1.3" fill="rgba(31,119,180,0.680)"/>
<circle cx="349.12" cy="436.82" r="1.3" fill="rgba(31,119,180,0.680)"/>
<circle cx="383.52" cy="457.47" r="1.3" fill="rgba(31,119,180,0.680)"/>
<circle cx="351.79" cy="440.78" r="1.3" fill="rgba(31,119,180,0.680)"/>
<circle cx="360.38" cy="435.05" r="1.3" fill="rgba(31,119,180,0.680)"/>
<circle cx="352.15" cy="434.86" r="1.3" fill="rgba(31,119,180,0.680)"/>
<circle cx="354.74" cy="431.3" r="1.3" fill="rgba(31,119,180,0.680)"/>
<circle cx="353.52" cy="433.1" r="1.3" fill="rgba(31,119,180,0.680)"/>
<circle cx="345.98" cy="435.86" r="1.3" fill="rgba(221,112,32,0.680)"/>
<circle cx="347.98" cy="434.68" r="1.3" fill="rgba(31,119,180,0.680)"/>
<circle cx="354.22" cy="433.72" r="1.3" fill="rgba(221,112,32,0.680)"/>
<circle cx="363.99" cy="439.59" r="1.3" fill="rgba(31,119,180,0.680)"/>
<circle cx="344.87" cy="437.5" r="1.3" fill="rgba(31,119,180,0.680)"/>
<circle cx="353.38" cy="433.97" r="1.3" fill="rgba(221,112,32,0.680)"/>
<circle cx="350.12" cy="432.63" r="1.3" fill="rgba(221,112,32,0.680)"/>
<circle cx="351.58" cy="438.56" r="1.3" fill="rgba(221,112,32,0.680)"/>
<circle cx="356.57" cy="434.1" r="1.3" fill="rgba(221,112,32,0.680)"/>
<circle cx="360.94" cy="440.74" r="1.3" fill="rgba(31,119,180,0.680)"/>
<circle cx="346" cy="448" r="1.3" fill="rgba(31,119,180,0.680)"/>
<circle cx="350.25" cy="434.89" r="1.3" fill="rgba(221,112,32,0.680)"/>
<circle cx="355.99" cy="437.22" r="1.3" fill="rgba(221,112,32,0.680)"/>
<circle cx="359.84" cy="435.58" r="1.3" fill="rgba(221,112,32,0.680)"/>
<circle cx="400.42" cy="454.15" r="1.3" fill="rgba(31,119,180,0.680)"/>
<circle cx="354.27" cy="432.5" r="1.3" fill="rgba(221,112,32,0.680)"/>
<circle cx="350.97" cy="430.38" r="1.3" fill="rgba(31,119,180,0.680)"/>
<circle cx="348.9" cy="435.06" r="1.3" fill="rgba(31,119,180,0.680)"/>
<circle cx="358.43" cy="431.78" r="1.3" fill="rgba(31,119,180,0.680)"/>
<circle cx="359.42" cy="436.14" r="1.3" fill="rgba(31,119,180,0.680)"/>
<circle cx="365.65" cy="441.35" r="1.3" fill="rgba(221,112,32,0.680)"/>
<circle cx="364.84" cy="431.45" r="1.3" fill="rgba(221,112,32,0.680)"/>
<circle cx="369.51" cy="435.82" r="1.3" fill="rgba(221,112,32,0.680)"/>
<circle cx="351.01" cy="440.09" r="1.3" fill="rgba(31,119,180,0.680)"/>
<circle cx="360.09" cy="440.16" r="1.3" fill="rgba(221,112,32,0.680)"/>
<circle cx="346.69" cy="441.24" r="1.3" fill="rgba(31,119,180,0.680)"/>
<circle cx="356.52" cy="436.98" r="1.3" fill="rgba(221,112,32,0.680)"/>
<circle cx="384.59" cy="435.48" r="1.3" fill="rgba(221,112,32,0.680)"/>
<circle cx="375.43" cy="439.39" r="1.3" fill="rgba(31,119,180,0.680)"/>
<circle cx="363.07" cy="435.13" r="1.3" fill="rgba(31,119,180,0.680)"/>
<circle cx="417.63" cy="440.8" r="1.3" fill="rgba(221,112,32,0.680)"/>
<circle cx="361.97" cy="436.49" r="1.3" fill="rgba(221,112,32,0.680)"/>
<circle cx="356.91" cy="437.97" r="1.3" fill="rgba(221,112,32,0.680)"/>
<circle cx="350.64" cy="431.48" r="1.3" fill="rgba(31,119,180,0.680)"/>
<circle cx="376.57" cy="438.07" r="1.3" fill="rgba(221,112,32,0.680)"/>
<circle cx="381.81" cy="457.98" r="1.3" fill="rgba(31,119,180,0.680)"/>
<circle cx="361" cy="444" r="1.3" fill="rgba(31,119,180,0.680)"/>
<circle cx="354.91" cy="435.35" r="1.3" fill="rgba(31,119,180,0.680)"/>
<circle cx="374.52" cy="435.53" r="1.3" fill="rgba(31,119,180,0.680)"/>
<circle cx="430.85" cy="439" r="1.3" fill="rgba(221,112,32,0.680)"/>
<circle cx="366.77" cy="435.29" r="1.3" fill="rgba(31,119,180,0.680)"/>
<circle cx="360.97" cy="440.5" r="1.3" fill="rgba(221,112,32,0.680)"/>
<circle cx="354.72" cy="442.98" r="1.3" fill="rgba(221,112,32,0.680)"/>
<circle cx="353.6" cy="431.93" r="1.3" fill="rgba(221,112,32,0.680)"/>
<circle cx="349.67" cy="435.74" r="1.3" fill="rgba(31,119,180,0.680)"/>
<circle cx="345.06" cy="431.41" r="1.3" fill="rgba(221,112,32,0.680)"/>
<circle cx="354.37" cy="435.77" r="1.3" fill="rgba(31,119,180,0.680)"/>
<circle cx="387.02" cy="438.57" r="1.3" fill="rgba(31,119,180,0.680)"/>
<circle cx="363" cy="439.27" r="1.3" fill="rgba(221,112,32,0.680)"/>
<circle cx="366.09" cy="434.44" r="1.3" fill="rgba(221,112,32,0.680)"/>
<circle cx="365.66" cy="436.38" r="1.3" fill="rgba(31,119,180,0.680)"/>
<circle cx="340.82" cy="435.09" r="1.3" fill="rgba(31,119,180,0.680)"/>
<circle cx="369.95" cy="434.58" r="1.3" fill="rgba(221,112,32,0.680)"/>
<circle cx="344.41" cy="438.13" r="1.3" fill="rgba(221,112,32,0.680)"/>
<circle cx="406.46" cy="439.64" r="1.3" fill="rgba(31,119,180,0.680)"/>
<circle cx="342.64" cy="430.97" r="1.3" fill="rgba(221,112,32,0.680)"/>
<circle cx="358.76" cy="430.22" r="1.3" fill="rgba(221,112,32,0.680)"/>
<circle cx="346" cy="435.5" r="1.3" fill="rgba(31,119,180,0.680)"/>
<circle cx="352.09" cy="434.57" r="1.3" fill="rgba(31,119,180,0.680)"/>
<circle cx="343.46" cy="439.33" r="1.3" fill="rgba(31,119,180,0.680)"/>
<circle cx="346.85" cy="436.53" r="1.3" fill="rgba(31,119,180,0.680)"/>
<circle cx="371.91" cy="435.91" r="1.3" fill="rgba(221,112,32,0.680)"/>
<circle cx="355.7" cy="438.66" r="1.3" fill="rgba(31,119,180,0.680)"/>
<circle cx="357.13" cy="432.73" r="1.3" fill="rgba(221,112,32,0.680)"/>
<circle cx="429.5" cy="437" r="1.3" fill="rgba(221,112,32,0.680)"/>
<circle cx="345.73" cy="438.8" r="1.3" fill="rgba(31,119,180,0.680)"/>
<circle cx="357.41" cy="437.41" r="1.3" fill="rgba(31,119,180,0.680)"/>
<circle cx="346.98" cy="429.6" r="1.3" fill="rgba(31,119,180,0.680)"/>
<circle cx="368.81" cy="433.61" r="1.3" fill="rgba(31,119,180,0.680)"/>
<circle cx="354.95" cy="438.62" r="1.3" fill="rgba(31,119,180,0.680)"/>
<circle cx="356.95" cy="434.01" r="1.3" fill="rgba(221,112,32,0.680)"/>
<circle cx="384.88" cy="441.23" r="1.3" fill="rgba(221,112,32,0.680)"/>
<circle cx="394.64" cy="441.71" r="1.3" fill="rgba(31,119,180,0.680)"/>
<circle cx="350.11" cy="436.36" r="1.3" fill="rgba(31,119,180,0.680)"/>
<circle cx="423.43" cy="431.64" r="1.3" fill="rgba(31,119,180,0.680)"/>
<circle cx="359.07" cy="440.45" r="1.3" fill="rgba(31,119,180,0.680)"/>
<circle cx="424" cy="441" r="1.3" fill="rgba(31,119,180,0.680)"/>
<circle cx="358.32" cy="434.75" r="1.3" fill="rgba(31,119,180,0.680)"/>
<circle cx="361.72" cy="434.76" r="1.3" fill="rgba(221,112,32,0.680)"/>
<circle cx="356.54" cy="432.73" r="1.3" fill="rgba(31,119,180,0.680)"/>
<circle cx="349.37" cy="442.82" r="1.3" fill="rgba(31,119,180,0.680)"/>
<circle cx="368.05" cy="433.75" r="1.3" fill="rgba(31,119,180,0.680)"/>
<circle cx="341.91" cy="428.75" r="1.3" fill="rgba(221,112,32,0.680)"/>
<circle cx="368.18" cy="437.45" r="1.3" fill="rgba(221,112,32,0.680)"/>
<circle cx="351.39" cy="439.61" r="1.3" fill="rgba(31,119,180,0.680)"/>
<circle cx="382.06" cy="435.41" r="1.3" fill="rgba(221,112,32,0.680)"/>
<circle cx="413" cy="445.5" r="1.3" fill="rgba(221,112,32,0.680)"/>
<circle cx="373.58" cy="438.29" r="1.3" fill="rgba(221,112,32,0.680)"/>
<circle cx="358.54" cy="439.28" r="1.3" fill="rgba(31,119,180,0.680)"/>
<circle cx="411" cy="446" r="1.3" fill="rgba(31,119,180,0.680)"/>
<circle cx="344.01" cy="434.73" r="1.3" fill="rgba(31,119,180,0.680)"/>
<circle cx="344.55" cy="439.06" r="1.3" fill="rgba(31,119,180,0.680)"/>
<circle cx="356.62" cy="437.43" r="1.3" fill="rgba(31,119,180,0.680)"/>
<circle cx="355.69" cy="433.58" r="1.3" fill="rgba(31,119,180,0.680)"/>
<circle cx="368.53" cy="440.15" r="1.3" fill="rgba(221,112,32,0.680)"/>
<circle cx="349.32" cy="437.63" r="1.3" fill="rgba(221,112,32,0.680)"/>
<circle cx="385" cy="428.5" r="1.3" fill="rgba(31,119,180,0.680)"/>
<circle cx="351.71" cy="437.76" r="1.3" fill="rgba(31,119,180,0.680)"/>
<circle cx="352.29" cy="436.31" r="1.3" fill="rgba(221,112,32,0.680)"/>
<circle cx="366.96" cy="438.42" r="1.3" fill="rgba(31,119,180,0.680)"/>
<circle cx="354.91" cy="431.33" r="1.3" fill="rgba(31,119,180,0.680)"/>
<circle cx="369.92" cy="441.33" r="1.3" fill="rgba(221,112,32,0.680)"/>
<circle cx="340.5" cy="449.5" r="1.3" fill="rgba(221,112,32,0.680)"/>
<circle cx="359.31" cy="434.59" r="1.3" fill="rgba(221,112,32,0.680)"/>
<circle cx="418.67" cy="436.08" r="1.3" fill="rgba(31,119,180,0.680)"/>
<circle cx="359.21" cy="444.58" r="1.3" fill="rgba(31,119,180,0.680)"/>
<circle cx="365.86" cy="434.88" r="1.3" fill="rgba(31,119,180,0.680)"/>
<circle cx="355.03" cy="437.6" r="1.3" fill="rgba(31,119,180,0.680)"/>
<circle cx="339.98" cy="433.65" r="1.3" fill="rgba(221,112,32,0.680)"/>
<circle cx="345.9" cy="443.2" r="1.3" fill="rgba(221,112,32,0.680)"/>
<line x1="367.6" y1="435.7" x2="424.5" y2="433" stroke="rgb(31,119,180)" stroke-width="0.8"/>
<line x1="368.3" y1="447.4" x2="426" y2="440.8" stroke="rgb(31,119,180)" stroke-width="0.8"/>
<line x1="361" y1="460.2" x2="401.2" y2="456.1" stroke="rgb(31,119,180)" stroke-width="0.8"/>
<line x1="342" y1="432.5" x2="412" y2="436" stroke="rgb(31,119,180)" stroke-width="0.8"/>
<line x1="343" y1="436.5" x2="405" y2="439" stroke="rgb(31,119,180)" stroke-width="0.8"/>
<line x1="345" y1="438" x2="395" y2="441" stroke="rgb(31,119,180)" stroke-width="0.8"/>
<line x1="350" y1="440" x2="420" y2="438" stroke="rgb(31,119,180)" stroke-width="0.8"/>
<line x1="340" y1="434" x2="375" y2="437" stroke="rgb(31,119,180)" stroke-width="0.8"/>
<line x1="344" y1="435" x2="400" y2="434.5" stroke="rgb(31,119,180)" stroke-width="0.8"/>
<line x1="341.3" y1="431.3" x2="429.6" y2="440.4" stroke="rgb(221,112,32)" stroke-width="0.8"/>
<line x1="342" y1="433.5" x2="410" y2="438.5" stroke="rgb(221,112,32)" stroke-width="0.8"/>
<line x1="370" y1="436" x2="410" y2="440" stroke="rgb(221,112,32)" stroke-width="0.8"/>
<line x1="375" y1="440" x2="405" y2="441.5" stroke="rgb(221,112,32)" stroke-width="0.8"/>
<line x1="339" y1="435" x2="370" y2="432" stroke="rgb(221,112,32)" stroke-width="0.8"/>
<line x1="345" y1="431" x2="385" y2="435" stroke="rgb(221,112,32)" stroke-width="0.8"/>
<line x1="350" y1="437" x2="390" y2="437.5" stroke="rgb(221,112,32)" stroke-width="0.8"/>
<line x1="335.7" y1="426.7" x2="335.7" y2="504.8" stroke="#444" stroke-width="0.6"/>
<line x1="335.4" y1="504.5" x2="431.5" y2="504.5" stroke="#444" stroke-width="0.6"/>
<line x1="333.9" y1="429.63" x2="335.7" y2="429.63" stroke="#333" stroke-width="0.5"/>
<text x="332.4" y="431.83" font-size="5" text-anchor="end" fill="#333" transform="translate(332.4 431.83) scale(1 1.1) translate(-332.4 -431.83)">10</text>
<line x1="333.9" y1="453.6" x2="335.7" y2="453.6" stroke="#333" stroke-width="0.5"/>
<text x="332.4" y="455.8" font-size="5" text-anchor="end" fill="#333" transform="translate(332.4 455.8) scale(1 1.1) translate(-332.4 -455.8)">0</text>
<line x1="333.9" y1="477.57" x2="335.7" y2="477.57" stroke="#333" stroke-width="0.5"/>
<text x="332.4" y="479.77" font-size="5" text-anchor="end" fill="#333" transform="translate(332.4 479.77) scale(1 1.1) translate(-332.4 -479.77)">-10</text>
<line x1="333.9" y1="501.54" x2="335.7" y2="501.54" stroke="#333" stroke-width="0.5"/>
<text x="332.4" y="503.74" font-size="5" text-anchor="end" fill="#333" transform="translate(332.4 503.74) scale(1 1.1) translate(-332.4 -503.74)">-20</text>
<line x1="337.3" y1="504.5" x2="337.3" y2="506.5" stroke="#333" stroke-width="0.5"/>
<text x="339.1" y="510.5" font-size="4.8" text-anchor="end" fill="#333" transform="rotate(-45 339.1 510.5) translate(339.1 510.5) scale(1 1.1) translate(-339.1 -510.5)">0</text>
<line x1="367.37" y1="504.5" x2="367.37" y2="506.5" stroke="#333" stroke-width="0.5"/>
<text x="369.17" y="510.5" font-size="4.8" text-anchor="end" fill="#333" transform="rotate(-45 369.17 510.5) translate(369.17 510.5) scale(1 1.1) translate(-369.17 -510.5)">1</text>
<line x1="397.44" y1="504.5" x2="397.44" y2="506.5" stroke="#333" stroke-width="0.5"/>
<text x="399.24" y="510.5" font-size="4.8" text-anchor="end" fill="#333" transform="rotate(-45 399.24 510.5) translate(399.24 510.5) scale(1 1.1) translate(-399.24 -510.5)">2</text>
<line x1="427.51" y1="504.5" x2="427.51" y2="506.5" stroke="#333" stroke-width="0.5"/>
<text x="429.31" y="510.5" font-size="4.8" text-anchor="end" fill="#333" transform="rotate(-45 429.31 510.5) translate(429.31 510.5) scale(1 1.1) translate(-429.31 -510.5)">3</text>
<text x="384.2" y="518.7" font-size="5" text-anchor="middle" fill="#111" transform="translate(384.2 518.7) scale(1 1.1) translate(-384.2 -518.7)">Centroid Dist</text>
<text x="321.8" y="465.2" font-size="5" text-anchor="middle" fill="#111" transform="rotate(-90 321.8 465.2) translate(321.8 465.2) scale(1 1.1) translate(-321.8 -465.2)">Log2  CD4+ T cells</text>
<text x="434.2" y="502.2" font-size="4.9" text-anchor="end" fill="#111" transform="translate(434.2 502.2) scale(1 1.1) translate(-434.2 -502.2)">r: -0.46; adj. P: 1.70e-05; n = 250</text>
<circle cx="483.43" cy="465.77" r="1.3" fill="rgba(221,112,32,0.680)"/>
<circle cx="465.16" cy="471.79" r="1.3" fill="rgba(31,119,180,0.680)"/>
<circle cx="484" cy="447" r="1.3" fill="rgba(31,119,180,0.680)"/>
<circle cx="501.06" cy="476.91" r="1.3" fill="rgba(31,119,180,0.680)"/>
<circle cx="484.97" cy="464.36" r="1.3" fill="rgba(221,112,32,0.680)"/>
<circle cx="460" cy="471.5" r="1.3" fill="rgba(221,112,32,0.680)"/>
<circle cx="466.42" cy="470.98" r="1.3" fill="rgba(221,112,32,0.680)"/>
<circle cx="468.65" cy="484.06" r="1.3" fill="rgba(31,119,180,0.680)"/>
<circle cx="469.91" cy="459.35" r="1.3" fill="rgba(221,112,32,0.680)"/>
<circle cx="474.3" cy="472.66" r="1.3" fill="rgba(221,112,32,0.680)"/>
<circle cx="472.88" cy="461.24" r="1.3" fill="rgba(31,119,180,0.680)"/>
<circle cx="488.21" cy="456.9" r="1.3" fill="rgba(31,119,180,0.680)"/>
<circle cx="515" cy="489" r="1.3" fill="rgba(31,119,180,0.680)"/>
<circle cx="492.7" cy="479.91" r="1.3" fill="rgba(31,119,180,0.680)"/>
<circle cx="477.3" cy="464.22" r="1.3" fill="rgba(31,119,180,0.680)"/>
<circle cx="471" cy="438" r="1.3" fill="rgba(31,119,180,0.680)"/>
<circle cx="488.24" cy="477.3" r="1.3" fill="rgba(31,119,180,0.680)"/>
<circle cx="482.3" cy="466.38" r="1.3" fill="rgba(31,119,180,0.680)"/>
<circle cx="523.74" cy="443.31" r="1.3" fill="rgba(31,119,180,0.680)"/>
<circle cx="461.81" cy="467.52" r="1.3" fill="rgba(221,112,32,0.680)"/>
<circle cx="545.83" cy="453.78" r="1.3" fill="rgba(31,119,180,0.680)"/>
<circle cx="475.37" cy="475.61" r="1.3" fill="rgba(31,119,180,0.680)"/>
<circle cx="497" cy="454" r="1.3" fill="rgba(31,119,180,0.680)"/>
<circle cx="473.52" cy="481.58" r="1.3" fill="rgba(31,119,180,0.680)"/>
<circle cx="521.85" cy="440.5" r="1.3" fill="rgba(221,112,32,0.680)"/>
<circle cx="474.84" cy="460.54" r="1.3" fill="rgba(221,112,32,0.680)"/>
<circle cx="469.29" cy="476.15" r="1.3" fill="rgba(221,112,32,0.680)"/>
<circle cx="491.29" cy="446.46" r="1.3" fill="rgba(31,119,180,0.680)"/>
<circle cx="477.07" cy="468.09" r="1.3" fill="rgba(221,112,32,0.680)"/>
<circle cx="479" cy="472.15" r="1.3" fill="rgba(31,119,180,0.680)"/>
<circle cx="494.52" cy="452.56" r="1.3" fill="rgba(31,119,180,0.680)"/>
<circle cx="482.36" cy="446.4" r="1.3" fill="rgba(31,119,180,0.680)"/>
<circle cx="495" cy="443.5" r="1.3" fill="rgba(221,112,32,0.680)"/>
<circle cx="515.59" cy="474.92" r="1.3" fill="rgba(31,119,180,0.680)"/>
<circle cx="532.16" cy="447.19" r="1.3" fill="rgba(221,112,32,0.680)"/>
<circle cx="490.76" cy="445.16" r="1.3" fill="rgba(31,119,180,0.680)"/>
<circle cx="470.06" cy="481.35" r="1.3" fill="rgba(31,119,180,0.680)"/>
<circle cx="476.17" cy="462.65" r="1.3" fill="rgba(31,119,180,0.680)"/>
<circle cx="485.71" cy="462.29" r="1.3" fill="rgba(31,119,180,0.680)"/>
<circle cx="536.6" cy="494" r="1.3" fill="rgba(221,112,32,0.680)"/>
<circle cx="471.84" cy="484.6" r="1.3" fill="rgba(31,119,180,0.680)"/>
<circle cx="462.6" cy="450.02" r="1.3" fill="rgba(221,112,32,0.680)"/>
<circle cx="488.79" cy="474.21" r="1.3" fill="rgba(31,119,180,0.680)"/>
<circle cx="476.4" cy="466.57" r="1.3" fill="rgba(221,112,32,0.680)"/>
<circle cx="473.8" cy="463.18" r="1.3" fill="rgba(221,112,32,0.680)"/>
<circle cx="472.61" cy="465.13" r="1.3" fill="rgba(221,112,32,0.680)"/>
<circle cx="522.99" cy="498.71" r="1.3" fill="rgba(221,112,32,0.680)"/>
<circle cx="481.98" cy="471.13" r="1.3" fill="rgba(31,119,180,0.680)"/>
<circle cx="471.73" cy="454.06" r="1.3" fill="rgba(221,112,32,0.680)"/>
<circle cx="475.5" cy="468.1" r="1.3" fill="rgba(31,119,180,0.680)"/>
<circle cx="541.5" cy="440.5" r="1.3" fill="rgba(221,112,32,0.680)"/>
<circle cx="509" cy="499.5" r="1.3" fill="rgba(221,112,32,0.680)"/>
<circle cx="473.17" cy="447.43" r="1.3" fill="rgba(31,119,180,0.680)"/>
<circle cx="509.5" cy="486.5" r="1.3" fill="rgba(31,119,180,0.680)"/>
<circle cx="478.44" cy="461.18" r="1.3" fill="rgba(221,112,32,0.680)"/>
<circle cx="468.75" cy="471.11" r="1.3" fill="rgba(31,119,180,0.680)"/>
<circle cx="463.63" cy="474.01" r="1.3" fill="rgba(31,119,180,0.680)"/>
<circle cx="519.07" cy="471.32" r="1.3" fill="rgba(31,119,180,0.680)"/>
<circle cx="469.9" cy="456.71" r="1.3" fill="rgba(31,119,180,0.680)"/>
<circle cx="486.07" cy="458.97" r="1.3" fill="rgba(221,112,32,0.680)"/>
<circle cx="469.46" cy="467.41" r="1.3" fill="rgba(221,112,32,0.680)"/>
<circle cx="474.07" cy="475.3" r="1.3" fill="rgba(221,112,32,0.680)"/>
<circle cx="477.07" cy="460.47" r="1.3" fill="rgba(31,119,180,0.680)"/>
<circle cx="487.48" cy="473.64" r="1.3" fill="rgba(221,112,32,0.680)"/>
<circle cx="461" cy="440.5" r="1.3" fill="rgba(221,112,32,0.680)"/>
<circle cx="488.2" cy="452.91" r="1.3" fill="rgba(221,112,32,0.680)"/>
<circle cx="470.04" cy="478.65" r="1.3" fill="rgba(221,112,32,0.680)"/>
<circle cx="491.6" cy="484.74" r="1.3" fill="rgba(31,119,180,0.680)"/>
<circle cx="464.65" cy="462.06" r="1.3" fill="rgba(221,112,32,0.680)"/>
<circle cx="496.47" cy="454.43" r="1.3" fill="rgba(221,112,32,0.680)"/>
<circle cx="479.89" cy="454.79" r="1.3" fill="rgba(221,112,32,0.680)"/>
<circle cx="465.77" cy="458.36" r="1.3" fill="rgba(31,119,180,0.680)"/>
<circle cx="507.95" cy="450.97" r="1.3" fill="rgba(31,119,180,0.680)"/>
<circle cx="465.87" cy="448.41" r="1.3" fill="rgba(221,112,32,0.680)"/>
<circle cx="465.13" cy="459.84" r="1.3" fill="rgba(221,112,32,0.680)"/>
<circle cx="468.59" cy="480.79" r="1.3" fill="rgba(221,112,32,0.680)"/>
<circle cx="514" cy="474.5" r="1.3" fill="rgba(31,119,180,0.680)"/>
<circle cx="518" cy="466.5" r="1.3" fill="rgba(31,119,180,0.680)"/>
<circle cx="469.56" cy="468.55" r="1.3" fill="rgba(221,112,32,0.680)"/>
<circle cx="488.45" cy="455.7" r="1.3" fill="rgba(31,119,180,0.680)"/>
<circle cx="463.11" cy="462.38" r="1.3" fill="rgba(31,119,180,0.680)"/>
<circle cx="470.89" cy="462.51" r="1.3" fill="rgba(31,119,180,0.680)"/>
<circle cx="490.46" cy="486.35" r="1.3" fill="rgba(221,112,32,0.680)"/>
<circle cx="504.34" cy="468.18" r="1.3" fill="rgba(221,112,32,0.680)"/>
<circle cx="529.33" cy="468.72" r="1.3" fill="rgba(31,119,180,0.680)"/>
<circle cx="481.84" cy="491.61" r="1.3" fill="rgba(31,119,180,0.680)"/>
<circle cx="534" cy="443" r="1.3" fill="rgba(31,119,180,0.680)"/>
<circle cx="528.54" cy="458.12" r="1.3" fill="rgba(31,119,180,0.680)"/>
<circle cx="482.2" cy="461.19" r="1.3" fill="rgba(221,112,32,0.680)"/>
<circle cx="475.65" cy="467.81" r="1.3" fill="rgba(221,112,32,0.680)"/>
<circle cx="472" cy="435.5" r="1.3" fill="rgba(31,119,180,0.680)"/>
<circle cx="488.86" cy="479.75" r="1.3" fill="rgba(221,112,32,0.680)"/>
<circle cx="467.09" cy="458.47" r="1.3" fill="rgba(221,112,32,0.680)"/>
<circle cx="524.62" cy="453.11" r="1.3" fill="rgba(31,119,180,0.680)"/>
<circle cx="470.08" cy="459.29" r="1.3" fill="rgba(31,119,180,0.680)"/>
<circle cx="482.5" cy="429.3" r="1.3" fill="rgba(31,119,180,0.680)"/>
<circle cx="478.75" cy="467.53" r="1.3" fill="rgba(31,119,180,0.680)"/>
<circle cx="470.56" cy="447.59" r="1.3" fill="rgba(221,112,32,0.680)"/>
<circle cx="500.23" cy="465.21" r="1.3" fill="rgba(221,112,32,0.680)"/>
<circle cx="467.91" cy="467.19" r="1.3" fill="rgba(31,119,180,0.680)"/>
<circle cx="536.15" cy="489.53" r="1.3" fill="rgba(221,112,32,0.680)"/>
<circle cx="476.67" cy="488.46" r="1.3" fill="rgba(31,119,180,0.680)"/>
<circle cx="477.87" cy="473.94" r="1.3" fill="rgba(221,112,32,0.680)"/>
<circle cx="492.68" cy="462.45" r="1.3" fill="rgba(31,119,180,0.680)"/>
<circle cx="501.8" cy="433.2" r="1.3" fill="rgba(221,112,32,0.680)"/>
<circle cx="477.58" cy="473.9" r="1.3" fill="rgba(31,119,180,0.680)"/>
<circle cx="500.49" cy="466.88" r="1.3" fill="rgba(31,119,180,0.680)"/>
<circle cx="482.65" cy="482.28" r="1.3" fill="rgba(31,119,180,0.680)"/>
<circle cx="470.83" cy="466.11" r="1.3" fill="rgba(221,112,32,0.680)"/>
<circle cx="472.04" cy="471.76" r="1.3" fill="rgba(31,119,180,0.680)"/>
<circle cx="481.33" cy="471.52" r="1.3" fill="rgba(31,119,180,0.680)"/>
<circle cx="466" cy="480" r="1.3" fill="rgba(31,119,180,0.680)"/>
<circle cx="495.3" cy="485.42" r="1.3" fill="rgba(221,112,32,0.680)"/>
<circle cx="472.99" cy="485.52" r="1.3" fill="rgba(31,119,180,0.680)"/>
<circle cx="466.5" cy="496.5" r="1.3" fill="rgba(221,112,32,0.680)"/>
<circle cx="477.41" cy="475.21" r="1.3" fill="rgba(31,119,180,0.680)"/>
<circle cx="533.5" cy="440.3" r="1.3" fill="rgba(221,112,32,0.680)"/>
<circle cx="475.6" cy="468.1" r="1.3" fill="rgba(31,119,180,0.680)"/>
<circle cx="482" cy="440" r="1.3" fill="rgba(221,112,32,0.680)"/>
<circle cx="466.6" cy="434.5" r="1.3" fill="rgba(31,119,180,0.680)"/>
<circle cx="515.09" cy="460.19" r="1.3" fill="rgba(31,119,180,0.680)"/>
<circle cx="461.5" cy="461" r="1.3" fill="rgba(221,112,32,0.680)"/>
<circle cx="478.72" cy="472.66" r="1.3" fill="rgba(31,119,180,0.680)"/>
<circle cx="549.66" cy="452.89" r="1.3" fill="rgba(31,119,180,0.680)"/>
<circle cx="467.81" cy="483.11" r="1.3" fill="rgba(221,112,32,0.680)"/>
<circle cx="464.5" cy="475" r="1.3" fill="rgba(31,119,180,0.680)"/>
<circle cx="478" cy="436" r="1.3" fill="rgba(221,112,32,0.680)"/>
<circle cx="468.45" cy="466.76" r="1.3" fill="rgba(221,112,32,0.680)"/>
<circle cx="535.59" cy="445.6" r="1.3" fill="rgba(221,112,32,0.680)"/>
<circle cx="473.63" cy="469.79" r="1.3" fill="rgba(31,119,180,0.680)"/>
<circle cx="469.12" cy="471.14" r="1.3" fill="rgba(221,112,32,0.680)"/>
<circle cx="478.12" cy="482.93" r="1.3" fill="rgba(221,112,32,0.680)"/>
<circle cx="470.19" cy="446.92" r="1.3" fill="rgba(221,112,32,0.680)"/>
<circle cx="470.11" cy="480.38" r="1.3" fill="rgba(31,119,180,0.680)"/>
<circle cx="480.71" cy="471.07" r="1.3" fill="rgba(221,112,32,0.680)"/>
<circle cx="464.19" cy="460.85" r="1.3" fill="rgba(31,119,180,0.680)"/>
<circle cx="550" cy="442" r="1.3" fill="rgba(31,119,180,0.680)"/>
<circle cx="475" cy="438" r="1.3" fill="rgba(221,112,32,0.680)"/>
<circle cx="490.92" cy="485.67" r="1.3" fill="rgba(31,119,180,0.680)"/>
<circle cx="472.64" cy="467.16" r="1.3" fill="rgba(31,119,180,0.680)"/>
<circle cx="467.76" cy="451.8" r="1.3" fill="rgba(31,119,180,0.680)"/>
<circle cx="526.47" cy="450.24" r="1.3" fill="rgba(221,112,32,0.680)"/>
<circle cx="513.56" cy="502.44" r="1.3" fill="rgba(221,112,32,0.680)"/>
<circle cx="483.44" cy="465.82" r="1.3" fill="rgba(31,119,180,0.680)"/>
<circle cx="528.75" cy="432.71" r="1.3" fill="rgba(221,112,32,0.680)"/>
<circle cx="497.61" cy="465.42" r="1.3" fill="rgba(221,112,32,0.680)"/>
<circle cx="502.92" cy="477.67" r="1.3" fill="rgba(221,112,32,0.680)"/>
<circle cx="478.47" cy="478.22" r="1.3" fill="rgba(31,119,180,0.680)"/>
<circle cx="470.87" cy="487.76" r="1.3" fill="rgba(221,112,32,0.680)"/>
<circle cx="465.3" cy="487.26" r="1.3" fill="rgba(31,119,180,0.680)"/>
<circle cx="474.24" cy="471.87" r="1.3" fill="rgba(221,112,32,0.680)"/>
<circle cx="484.61" cy="482.17" r="1.3" fill="rgba(31,119,180,0.680)"/>
<circle cx="473.37" cy="479.75" r="1.3" fill="rgba(221,112,32,0.680)"/>
<circle cx="469.5" cy="487.09" r="1.3" fill="rgba(31,119,180,0.680)"/>
<circle cx="472.88" cy="482.45" r="1.3" fill="rgba(31,119,180,0.680)"/>
<circle cx="501.66" cy="478.53" r="1.3" fill="rgba(31,119,180,0.680)"/>
<circle cx="478.22" cy="462.74" r="1.3" fill="rgba(31,119,180,0.680)"/>
<circle cx="485.26" cy="480.7" r="1.3" fill="rgba(221,112,32,0.680)"/>
<circle cx="474.95" cy="480.12" r="1.3" fill="rgba(31,119,180,0.680)"/>
<circle cx="475.36" cy="462.35" r="1.3" fill="rgba(31,119,180,0.680)"/>
<circle cx="484.6" cy="480.34" r="1.3" fill="rgba(31,119,180,0.680)"/>
<circle cx="467.21" cy="476.42" r="1.3" fill="rgba(31,119,180,0.680)"/>
<circle cx="477.16" cy="465.12" r="1.3" fill="rgba(31,119,180,0.680)"/>
<circle cx="471.12" cy="445.62" r="1.3" fill="rgba(221,112,32,0.680)"/>
<circle cx="535.56" cy="487.75" r="1.3" fill="rgba(221,112,32,0.680)"/>
<circle cx="467.39" cy="468.69" r="1.3" fill="rgba(31,119,180,0.680)"/>
<circle cx="484.12" cy="470.66" r="1.3" fill="rgba(221,112,32,0.680)"/>
<circle cx="477.36" cy="470.96" r="1.3" fill="rgba(31,119,180,0.680)"/>
<circle cx="465.56" cy="470.65" r="1.3" fill="rgba(221,112,32,0.680)"/>
<circle cx="469.22" cy="477.37" r="1.3" fill="rgba(221,112,32,0.680)"/>
<circle cx="467.36" cy="469.77" r="1.3" fill="rgba(31,119,180,0.680)"/>
<circle cx="525.11" cy="447.85" r="1.3" fill="rgba(221,112,32,0.680)"/>
<circle cx="493.97" cy="475.98" r="1.3" fill="rgba(221,112,32,0.680)"/>
<circle cx="469.17" cy="485.85" r="1.3" fill="rgba(221,112,32,0.680)"/>
<circle cx="469.15" cy="475.49" r="1.3" fill="rgba(31,119,180,0.680)"/>
<circle cx="531.51" cy="469.8" r="1.3" fill="rgba(31,119,180,0.680)"/>
<circle cx="470.29" cy="481.1" r="1.3" fill="rgba(221,112,32,0.680)"/>
<circle cx="547" cy="457" r="1.3" fill="rgba(31,119,180,0.680)"/>
<circle cx="466.5" cy="452.98" r="1.3" fill="rgba(31,119,180,0.680)"/>
<circle cx="487" cy="441" r="1.3" fill="rgba(221,112,32,0.680)"/>
<line x1="461.6" y1="451.7" x2="471.1" y2="446.6" stroke="rgb(221,112,32)" stroke-width="0.8"/>
<line x1="467.4" y1="472.2" x2="529.5" y2="434.5" stroke="rgb(221,112,32)" stroke-width="0.8"/>
<line x1="468.1" y1="476.6" x2="534.6" y2="444.4" stroke="rgb(221,112,32)" stroke-width="0.8"/>
<line x1="467.4" y1="483.1" x2="523.6" y2="448.1" stroke="rgb(221,112,32)" stroke-width="0.8"/>
<line x1="469.6" y1="488.2" x2="504.6" y2="469.3" stroke="rgb(221,112,32)" stroke-width="0.8"/>
<line x1="513.4" y1="502.8" x2="536.8" y2="488.2" stroke="rgb(221,112,32)" stroke-width="0.8"/>
<line x1="468.9" y1="467.8" x2="495.9" y2="453.2" stroke="rgb(221,112,32)" stroke-width="0.8"/>
<line x1="470" y1="480" x2="500" y2="466" stroke="rgb(221,112,32)" stroke-width="0.8"/>
<line x1="464.5" y1="459" x2="523.6" y2="446.6" stroke="rgb(31,119,180)" stroke-width="0.8"/>
<line x1="465.2" y1="461.2" x2="549.9" y2="451" stroke="rgb(31,119,180)" stroke-width="0.8"/>
<line x1="464.5" y1="463.4" x2="545.5" y2="453.2" stroke="rgb(31,119,180)" stroke-width="0.8"/>
<line x1="466.7" y1="466.3" x2="528" y2="457.6" stroke="rgb(31,119,180)" stroke-width="0.8"/>
<line x1="514.9" y1="472.9" x2="531" y2="470.4" stroke="rgb(31,119,180)" stroke-width="0.8"/>
<line x1="476.9" y1="489.7" x2="492.2" y2="485.3" stroke="rgb(31,119,180)" stroke-width="0.8"/>
<line x1="472.5" y1="482.4" x2="503.2" y2="477.3" stroke="rgb(31,119,180)" stroke-width="0.8"/>
<line x1="471.1" y1="480.2" x2="487.1" y2="479.5" stroke="rgb(31,119,180)" stroke-width="0.8"/>
<line x1="474" y1="448.8" x2="491.5" y2="447.4" stroke="rgb(31,119,180)" stroke-width="0.8"/>
<line x1="466" y1="470" x2="500" y2="464" stroke="rgb(31,119,180)" stroke-width="0.8"/>
<line x1="470" y1="484" x2="485" y2="483" stroke="rgb(31,119,180)" stroke-width="0.8"/>
<line x1="455.4" y1="425.8" x2="455.4" y2="505" stroke="#444" stroke-width="0.6"/>
<line x1="455.1" y1="504.7" x2="554.5" y2="504.7" stroke="#444" stroke-width="0.6"/>
<line x1="453.6" y1="436.8" x2="455.4" y2="436.8" stroke="#333" stroke-width="0.5"/>
<text x="452.1" y="439" font-size="5" text-anchor="end" fill="#333" transform="translate(452.1 439) scale(1 1.1) translate(-452.1 -439)">6</text>
<line x1="453.6" y1="462" x2="455.4" y2="462" stroke="#333" stroke-width="0.5"/>
<text x="452.1" y="464.2" font-size="5" text-anchor="end" fill="#333" transform="translate(452.1 464.2) scale(1 1.1) translate(-452.1 -464.2)">4</text>
<line x1="453.6" y1="487.2" x2="455.4" y2="487.2" stroke="#333" stroke-width="0.5"/>
<text x="452.1" y="489.4" font-size="5" text-anchor="end" fill="#333" transform="translate(452.1 489.4) scale(1 1.1) translate(-452.1 -489.4)">2</text>
<line x1="457.7" y1="504.7" x2="457.7" y2="506.7" stroke="#333" stroke-width="0.5"/>
<text x="459.5" y="510.7" font-size="4.8" text-anchor="end" fill="#333" transform="rotate(-45 459.5 510.7) translate(459.5 510.7) scale(1 1.1) translate(-459.5 -510.7)">0</text>
<line x1="488.7" y1="504.7" x2="488.7" y2="506.7" stroke="#333" stroke-width="0.5"/>
<text x="490.5" y="510.7" font-size="4.8" text-anchor="end" fill="#333" transform="rotate(-45 490.5 510.7) translate(490.5 510.7) scale(1 1.1) translate(-490.5 -510.7)">1</text>
<line x1="519.7" y1="504.7" x2="519.7" y2="506.7" stroke="#333" stroke-width="0.5"/>
<text x="521.5" y="510.7" font-size="4.8" text-anchor="end" fill="#333" transform="rotate(-45 521.5 510.7) translate(521.5 510.7) scale(1 1.1) translate(-521.5 -510.7)">2</text>
<line x1="550.7" y1="504.7" x2="550.7" y2="506.7" stroke="#333" stroke-width="0.5"/>
<text x="552.5" y="510.7" font-size="4.8" text-anchor="end" fill="#333" transform="rotate(-45 552.5 510.7) translate(552.5 510.7) scale(1 1.1) translate(-552.5 -510.7)">3</text>
<text x="505.55" y="518.9" font-size="5" text-anchor="middle" fill="#111" transform="translate(505.55 518.9) scale(1 1.1) translate(-505.55 -518.9)">Centroid Dist</text>
<text x="447.2" y="464.8" font-size="5" text-anchor="middle" fill="#111" transform="rotate(-90 447.2 464.8) translate(447.2 464.8) scale(1 1.1) translate(-447.2 -464.8)">Log2  CD4+ CD38+ HLA-DR+ T cells</text>
<text x="554.6" y="502.4" font-size="4.9" text-anchor="end" fill="#111" transform="translate(554.6 502.4) scale(1 1.1) translate(-554.6 -502.4)">r: 0.5; adj. P: 1.79e-02; n = 147</text>
<circle cx="605.6" cy="462.79" r="1.3" fill="rgba(221,112,32,0.680)"/>
<circle cx="582.01" cy="469.14" r="1.3" fill="rgba(31,119,180,0.680)"/>
<circle cx="634" cy="474" r="1.3" fill="rgba(31,119,180,0.680)"/>
<circle cx="630.4" cy="474.41" r="1.3" fill="rgba(31,119,180,0.680)"/>
<circle cx="593.3" cy="462.08" r="1.3" fill="rgba(221,112,32,0.680)"/>
<circle cx="615.46" cy="473.36" r="1.3" fill="rgba(221,112,32,0.680)"/>
<circle cx="617.76" cy="492.19" r="1.3" fill="rgba(221,112,32,0.680)"/>
<circle cx="611.74" cy="483.12" r="1.3" fill="rgba(31,119,180,0.680)"/>
<circle cx="586.4" cy="482.6" r="1.3" fill="rgba(221,112,32,0.680)"/>
<circle cx="580.75" cy="476.97" r="1.3" fill="rgba(221,112,32,0.680)"/>
<circle cx="589.11" cy="471.83" r="1.3" fill="rgba(221,112,32,0.680)"/>
<circle cx="585.6" cy="475.44" r="1.3" fill="rgba(31,119,180,0.680)"/>
<circle cx="599.35" cy="467.65" r="1.3" fill="rgba(221,112,32,0.680)"/>
<circle cx="592.33" cy="459.03" r="1.3" fill="rgba(31,119,180,0.680)"/>
<circle cx="582.5" cy="490" r="1.3" fill="rgba(221,112,32,0.680)"/>
<circle cx="579.34" cy="474.53" r="1.3" fill="rgba(31,119,180,0.680)"/>
<circle cx="589.44" cy="448.18" r="1.3" fill="rgba(221,112,32,0.680)"/>
<circle cx="653.45" cy="470.78" r="1.3" fill="rgba(31,119,180,0.680)"/>
<circle cx="612.27" cy="474.08" r="1.3" fill="rgba(221,112,32,0.680)"/>
<circle cx="602.78" cy="472.36" r="1.3" fill="rgba(31,119,180,0.680)"/>
<circle cx="603.77" cy="477.66" r="1.3" fill="rgba(31,119,180,0.680)"/>
<circle cx="585.68" cy="471.81" r="1.3" fill="rgba(31,119,180,0.680)"/>
<circle cx="596.84" cy="475.15" r="1.3" fill="rgba(221,112,32,0.680)"/>
<circle cx="582.85" cy="473.68" r="1.3" fill="rgba(221,112,32,0.680)"/>
<circle cx="586.12" cy="483.4" r="1.3" fill="rgba(31,119,180,0.680)"/>
<circle cx="591" cy="439.5" r="1.3" fill="rgba(221,112,32,0.680)"/>
<circle cx="594.71" cy="481.46" r="1.3" fill="rgba(31,119,180,0.680)"/>
<circle cx="597.36" cy="480.94" r="1.3" fill="rgba(221,112,32,0.680)"/>
<circle cx="590.96" cy="472.88" r="1.3" fill="rgba(221,112,32,0.680)"/>
<circle cx="602.49" cy="467.68" r="1.3" fill="rgba(221,112,32,0.680)"/>
<circle cx="596.42" cy="478.57" r="1.3" fill="rgba(221,112,32,0.680)"/>
<circle cx="605" cy="444" r="1.3" fill="rgba(31,119,180,0.680)"/>
<circle cx="600.08" cy="479.48" r="1.3" fill="rgba(31,119,180,0.680)"/>
<circle cx="586.37" cy="458.32" r="1.3" fill="rgba(221,112,32,0.680)"/>
<circle cx="589.71" cy="475.16" r="1.3" fill="rgba(31,119,180,0.680)"/>
<circle cx="595.99" cy="475.09" r="1.3" fill="rgba(221,112,32,0.680)"/>
<circle cx="597.53" cy="479.98" r="1.3" fill="rgba(221,112,32,0.680)"/>
<circle cx="617.39" cy="457.05" r="1.3" fill="rgba(221,112,32,0.680)"/>
<circle cx="651.35" cy="466.79" r="1.3" fill="rgba(31,119,180,0.680)"/>
<circle cx="661" cy="455" r="1.3" fill="rgba(221,112,32,0.680)"/>
<circle cx="586.08" cy="473.17" r="1.3" fill="rgba(31,119,180,0.680)"/>
<circle cx="595.89" cy="480.62" r="1.3" fill="rgba(31,119,180,0.680)"/>
<circle cx="591.53" cy="482.13" r="1.3" fill="rgba(221,112,32,0.680)"/>
<circle cx="593.78" cy="468.25" r="1.3" fill="rgba(221,112,32,0.680)"/>
<circle cx="608.5" cy="479.03" r="1.3" fill="rgba(221,112,32,0.680)"/>
<circle cx="659.31" cy="467.7" r="1.3" fill="rgba(31,119,180,0.680)"/>
<circle cx="605.77" cy="474.68" r="1.3" fill="rgba(31,119,180,0.680)"/>
<circle cx="604.72" cy="484.04" r="1.3" fill="rgba(31,119,180,0.680)"/>
<circle cx="584.66" cy="475.69" r="1.3" fill="rgba(221,112,32,0.680)"/>
<circle cx="602.51" cy="481.17" r="1.3" fill="rgba(221,112,32,0.680)"/>
<circle cx="667" cy="460" r="1.3" fill="rgba(31,119,180,0.680)"/>
<circle cx="607.51" cy="478.79" r="1.3" fill="rgba(31,119,180,0.680)"/>
<circle cx="591.57" cy="479.54" r="1.3" fill="rgba(221,112,32,0.680)"/>
<circle cx="600.04" cy="473.5" r="1.3" fill="rgba(31,119,180,0.680)"/>
<circle cx="600.11" cy="467.18" r="1.3" fill="rgba(31,119,180,0.680)"/>
<circle cx="594.03" cy="458.67" r="1.3" fill="rgba(221,112,32,0.680)"/>
<circle cx="585.67" cy="478.44" r="1.3" fill="rgba(31,119,180,0.680)"/>
<circle cx="624.66" cy="465.94" r="1.3" fill="rgba(31,119,180,0.680)"/>
<circle cx="587.37" cy="480.98" r="1.3" fill="rgba(221,112,32,0.680)"/>
<circle cx="583.93" cy="471.5" r="1.3" fill="rgba(221,112,32,0.680)"/>
<circle cx="594.08" cy="464.6" r="1.3" fill="rgba(31,119,180,0.680)"/>
<circle cx="610" cy="452" r="1.3" fill="rgba(221,112,32,0.680)"/>
<circle cx="583.65" cy="468.3" r="1.3" fill="rgba(221,112,32,0.680)"/>
<circle cx="591.73" cy="476.55" r="1.3" fill="rgba(31,119,180,0.680)"/>
<circle cx="617.82" cy="458.96" r="1.3" fill="rgba(221,112,32,0.680)"/>
<circle cx="610" cy="457" r="1.3" fill="rgba(221,112,32,0.680)"/>
<circle cx="610.5" cy="434.5" r="1.3" fill="rgba(31,119,180,0.680)"/>
<circle cx="579.87" cy="467.69" r="1.3" fill="rgba(31,119,180,0.680)"/>
<circle cx="582.52" cy="486.18" r="1.3" fill="rgba(221,112,32,0.680)"/>
<circle cx="607.2" cy="463.27" r="1.3" fill="rgba(221,112,32,0.680)"/>
<circle cx="599.26" cy="472.88" r="1.3" fill="rgba(31,119,180,0.680)"/>
<circle cx="600" cy="495" r="1.3" fill="rgba(31,119,180,0.680)"/>
<circle cx="655.33" cy="459.47" r="1.3" fill="rgba(221,112,32,0.680)"/>
<circle cx="598.84" cy="479.77" r="1.3" fill="rgba(221,112,32,0.680)"/>
<circle cx="602.51" cy="484.07" r="1.3" fill="rgba(31,119,180,0.680)"/>
<circle cx="637.3" cy="483.05" r="1.3" fill="rgba(31,119,180,0.680)"/>
<circle cx="665.64" cy="443.02" r="1.3" fill="rgba(31,119,180,0.680)"/>
<circle cx="605.85" cy="466.72" r="1.3" fill="rgba(31,119,180,0.680)"/>
<circle cx="590" cy="490" r="1.3" fill="rgba(31,119,180,0.680)"/>
<circle cx="590.39" cy="469.71" r="1.3" fill="rgba(31,119,180,0.680)"/>
<circle cx="580.67" cy="482.16" r="1.3" fill="rgba(221,112,32,0.680)"/>
<circle cx="608.97" cy="474.83" r="1.3" fill="rgba(31,119,180,0.680)"/>
<circle cx="584.79" cy="469.55" r="1.3" fill="rgba(221,112,32,0.680)"/>
<circle cx="599.92" cy="471.07" r="1.3" fill="rgba(31,119,180,0.680)"/>
<circle cx="601.12" cy="473.36" r="1.3" fill="rgba(221,112,32,0.680)"/>
<circle cx="595.93" cy="473.95" r="1.3" fill="rgba(31,119,180,0.680)"/>
<circle cx="595.06" cy="479.69" r="1.3" fill="rgba(221,112,32,0.680)"/>
<circle cx="593.11" cy="476.68" r="1.3" fill="rgba(221,112,32,0.680)"/>
<circle cx="612" cy="443" r="1.3" fill="rgba(31,119,180,0.680)"/>
<circle cx="584.07" cy="472.87" r="1.3" fill="rgba(221,112,32,0.680)"/>
<circle cx="590" cy="500.5" r="1.3" fill="rgba(221,112,32,0.680)"/>
<circle cx="638" cy="480" r="1.3" fill="rgba(31,119,180,0.680)"/>
<circle cx="596.81" cy="483.23" r="1.3" fill="rgba(221,112,32,0.680)"/>
<circle cx="602.43" cy="446.1" r="1.3" fill="rgba(221,112,32,0.680)"/>
<circle cx="605.98" cy="479.19" r="1.3" fill="rgba(31,119,180,0.680)"/>
<circle cx="632.69" cy="465.18" r="1.3" fill="rgba(221,112,32,0.680)"/>
<circle cx="635.77" cy="467.32" r="1.3" fill="rgba(221,112,32,0.680)"/>
<circle cx="614.4" cy="484.17" r="1.3" fill="rgba(31,119,180,0.680)"/>
<circle cx="624" cy="459" r="1.3" fill="rgba(221,112,32,0.680)"/>
<circle cx="608.3" cy="466.19" r="1.3" fill="rgba(221,112,32,0.680)"/>
<circle cx="591.25" cy="492.55" r="1.3" fill="rgba(221,112,32,0.680)"/>
<circle cx="607.67" cy="459.49" r="1.3" fill="rgba(221,112,32,0.680)"/>
<circle cx="596.26" cy="478.1" r="1.3" fill="rgba(221,112,32,0.680)"/>
<circle cx="588.67" cy="445.75" r="1.3" fill="rgba(31,119,180,0.680)"/>
<circle cx="586.83" cy="474.6" r="1.3" fill="rgba(31,119,180,0.680)"/>
<circle cx="614.47" cy="479.68" r="1.3" fill="rgba(221,112,32,0.680)"/>
<circle cx="599.77" cy="472.63" r="1.3" fill="rgba(31,119,180,0.680)"/>
<circle cx="592" cy="454" r="1.3" fill="rgba(31,119,180,0.680)"/>
<circle cx="579.83" cy="473.43" r="1.3" fill="rgba(221,112,32,0.680)"/>
<circle cx="596.37" cy="471.19" r="1.3" fill="rgba(221,112,32,0.680)"/>
<circle cx="613.69" cy="469.16" r="1.3" fill="rgba(31,119,180,0.680)"/>
<circle cx="587.81" cy="473.61" r="1.3" fill="rgba(221,112,32,0.680)"/>
<circle cx="589.95" cy="468.09" r="1.3" fill="rgba(221,112,32,0.680)"/>
<circle cx="592.25" cy="471.61" r="1.3" fill="rgba(221,112,32,0.680)"/>
<circle cx="612.72" cy="469.73" r="1.3" fill="rgba(221,112,32,0.680)"/>
<circle cx="583.66" cy="457.3" r="1.3" fill="rgba(221,112,32,0.680)"/>
<circle cx="593.55" cy="483.87" r="1.3" fill="rgba(221,112,32,0.680)"/>
<circle cx="586.1" cy="463.08" r="1.3" fill="rgba(221,112,32,0.680)"/>
<circle cx="586.66" cy="468.37" r="1.3" fill="rgba(221,112,32,0.680)"/>
<circle cx="667.36" cy="466.07" r="1.3" fill="rgba(31,119,180,0.680)"/>
<circle cx="591.39" cy="485.16" r="1.3" fill="rgba(221,112,32,0.680)"/>
<circle cx="584.42" cy="484.98" r="1.3" fill="rgba(31,119,180,0.680)"/>
<circle cx="671.73" cy="441.93" r="1.3" fill="rgba(31,119,180,0.680)"/>
<circle cx="592.75" cy="479.78" r="1.3" fill="rgba(31,119,180,0.680)"/>
<circle cx="604" cy="472.82" r="1.3" fill="rgba(31,119,180,0.680)"/>
<circle cx="611.89" cy="464.74" r="1.3" fill="rgba(221,112,32,0.680)"/>
<circle cx="604.61" cy="486.32" r="1.3" fill="rgba(221,112,32,0.680)"/>
<circle cx="656.04" cy="461.34" r="1.3" fill="rgba(221,112,32,0.680)"/>
<circle cx="591.3" cy="476.95" r="1.3" fill="rgba(221,112,32,0.680)"/>
<circle cx="588.36" cy="466.05" r="1.3" fill="rgba(221,112,32,0.680)"/>
<circle cx="585.16" cy="468.39" r="1.3" fill="rgba(221,112,32,0.680)"/>
<circle cx="596.05" cy="466.72" r="1.3" fill="rgba(221,112,32,0.680)"/>
<circle cx="596.15" cy="475.99" r="1.3" fill="rgba(31,119,180,0.680)"/>
<circle cx="588.72" cy="464.58" r="1.3" fill="rgba(31,119,180,0.680)"/>
<circle cx="583.38" cy="475.66" r="1.3" fill="rgba(31,119,180,0.680)"/>
<circle cx="607.77" cy="469.2" r="1.3" fill="rgba(221,112,32,0.680)"/>
<circle cx="589.62" cy="476.38" r="1.3" fill="rgba(31,119,180,0.680)"/>
<circle cx="600.09" cy="490.44" r="1.3" fill="rgba(221,112,32,0.680)"/>
<circle cx="580.54" cy="467.53" r="1.3" fill="rgba(221,112,32,0.680)"/>
<circle cx="596.04" cy="493.39" r="1.3" fill="rgba(221,112,32,0.680)"/>
<circle cx="633.38" cy="474.73" r="1.3" fill="rgba(31,119,180,0.680)"/>
<circle cx="603.68" cy="473.6" r="1.3" fill="rgba(31,119,180,0.680)"/>
<circle cx="588.94" cy="465.72" r="1.3" fill="rgba(31,119,180,0.680)"/>
<circle cx="588.61" cy="468.98" r="1.3" fill="rgba(31,119,180,0.680)"/>
<circle cx="589.33" cy="486.06" r="1.3" fill="rgba(31,119,180,0.680)"/>
<circle cx="596.37" cy="472.3" r="1.3" fill="rgba(31,119,180,0.680)"/>
<circle cx="590.81" cy="465.35" r="1.3" fill="rgba(31,119,180,0.680)"/>
<circle cx="586.91" cy="473.97" r="1.3" fill="rgba(221,112,32,0.680)"/>
<circle cx="595.12" cy="446.09" r="1.3" fill="rgba(221,112,32,0.680)"/>
<circle cx="632" cy="450.5" r="1.3" fill="rgba(221,112,32,0.680)"/>
<circle cx="604.61" cy="476.53" r="1.3" fill="rgba(221,112,32,0.680)"/>
<circle cx="593.84" cy="467.1" r="1.3" fill="rgba(31,119,180,0.680)"/>
<circle cx="598.94" cy="493.15" r="1.3" fill="rgba(221,112,32,0.680)"/>
<circle cx="650.17" cy="474" r="1.3" fill="rgba(31,119,180,0.680)"/>
<circle cx="669.5" cy="456" r="1.3" fill="rgba(31,119,180,0.680)"/>
<circle cx="624.41" cy="486.41" r="1.3" fill="rgba(221,112,32,0.680)"/>
<circle cx="582" cy="494" r="1.3" fill="rgba(221,112,32,0.680)"/>
<circle cx="608.61" cy="475.69" r="1.3" fill="rgba(221,112,32,0.680)"/>
<circle cx="594.76" cy="477.37" r="1.3" fill="rgba(221,112,32,0.680)"/>
<circle cx="600.12" cy="474.59" r="1.3" fill="rgba(31,119,180,0.680)"/>
<circle cx="614.54" cy="471.17" r="1.3" fill="rgba(31,119,180,0.680)"/>
<circle cx="590.41" cy="475.93" r="1.3" fill="rgba(31,119,180,0.680)"/>
<circle cx="612.91" cy="473.59" r="1.3" fill="rgba(221,112,32,0.680)"/>
<circle cx="598.75" cy="469.84" r="1.3" fill="rgba(31,119,180,0.680)"/>
<circle cx="623.19" cy="470.5" r="1.3" fill="rgba(31,119,180,0.680)"/>
<circle cx="605.85" cy="480.3" r="1.3" fill="rgba(31,119,180,0.680)"/>
<circle cx="607.24" cy="463.34" r="1.3" fill="rgba(31,119,180,0.680)"/>
<circle cx="598.1" cy="441.5" r="1.3" fill="rgba(31,119,180,0.680)"/>
<circle cx="609.38" cy="478.46" r="1.3" fill="rgba(221,112,32,0.680)"/>
<circle cx="595.24" cy="448.99" r="1.3" fill="rgba(221,112,32,0.680)"/>
<circle cx="597.19" cy="479.05" r="1.3" fill="rgba(221,112,32,0.680)"/>
<circle cx="603.45" cy="470.34" r="1.3" fill="rgba(31,119,180,0.680)"/>
<circle cx="592.55" cy="469.22" r="1.3" fill="rgba(221,112,32,0.680)"/>
<circle cx="606.38" cy="474.5" r="1.3" fill="rgba(31,119,180,0.680)"/>
<circle cx="602.26" cy="481.21" r="1.3" fill="rgba(31,119,180,0.680)"/>
<circle cx="592.59" cy="467.34" r="1.3" fill="rgba(31,119,180,0.680)"/>
<circle cx="656.5" cy="486" r="1.3" fill="rgba(221,112,32,0.680)"/>
<circle cx="596.6" cy="469.46" r="1.3" fill="rgba(221,112,32,0.680)"/>
<circle cx="592.33" cy="478" r="1.3" fill="rgba(31,119,180,0.680)"/>
<circle cx="596.26" cy="482.13" r="1.3" fill="rgba(221,112,32,0.680)"/>
<circle cx="580.34" cy="472.3" r="1.3" fill="rgba(221,112,32,0.680)"/>
<circle cx="587" cy="429" r="1.3" fill="rgba(221,112,32,0.680)"/>
<circle cx="609.83" cy="492.4" r="1.3" fill="rgba(221,112,32,0.680)"/>
<circle cx="596.5" cy="480.89" r="1.3" fill="rgba(221,112,32,0.680)"/>
<circle cx="643" cy="475" r="1.3" fill="rgba(31,119,180,0.680)"/>
<circle cx="588" cy="450.5" r="1.3" fill="rgba(31,119,180,0.680)"/>
<circle cx="588.41" cy="477.97" r="1.3" fill="rgba(221,112,32,0.680)"/>
<circle cx="607" cy="463.53" r="1.3" fill="rgba(31,119,180,0.680)"/>
<circle cx="670.5" cy="436.5" r="1.3" fill="rgba(31,119,180,0.680)"/>
<circle cx="610.61" cy="467.61" r="1.3" fill="rgba(221,112,32,0.680)"/>
<circle cx="581.95" cy="485.05" r="1.3" fill="rgba(221,112,32,0.680)"/>
<circle cx="604.61" cy="465.21" r="1.3" fill="rgba(221,112,32,0.680)"/>
<circle cx="584.44" cy="468.35" r="1.3" fill="rgba(31,119,180,0.680)"/>
<circle cx="594.87" cy="474.67" r="1.3" fill="rgba(221,112,32,0.680)"/>
<circle cx="603.28" cy="468.29" r="1.3" fill="rgba(31,119,180,0.680)"/>
<circle cx="600.04" cy="478.42" r="1.3" fill="rgba(31,119,180,0.680)"/>
<circle cx="618.97" cy="469.47" r="1.3" fill="rgba(31,119,180,0.680)"/>
<circle cx="580.97" cy="476.86" r="1.3" fill="rgba(221,112,32,0.680)"/>
<circle cx="592.79" cy="474.15" r="1.3" fill="rgba(31,119,180,0.680)"/>
<circle cx="612.19" cy="462.52" r="1.3" fill="rgba(31,119,180,0.680)"/>
<circle cx="622.9" cy="482.31" r="1.3" fill="rgba(31,119,180,0.680)"/>
<circle cx="596.3" cy="466.8" r="1.3" fill="rgba(221,112,32,0.680)"/>
<circle cx="639.52" cy="470.16" r="1.3" fill="rgba(31,119,180,0.680)"/>
<circle cx="641.5" cy="451" r="1.3" fill="rgba(221,112,32,0.680)"/>
<circle cx="606.71" cy="492.22" r="1.3" fill="rgba(221,112,32,0.680)"/>
<circle cx="589.51" cy="470.36" r="1.3" fill="rgba(31,119,180,0.680)"/>
<circle cx="585.95" cy="481.34" r="1.3" fill="rgba(221,112,32,0.680)"/>
<circle cx="586.05" cy="481.41" r="1.3" fill="rgba(221,112,32,0.680)"/>
<circle cx="593.25" cy="476.33" r="1.3" fill="rgba(221,112,32,0.680)"/>
<circle cx="584.33" cy="474.03" r="1.3" fill="rgba(221,112,32,0.680)"/>
<circle cx="580.65" cy="476.08" r="1.3" fill="rgba(221,112,32,0.680)"/>
<circle cx="599.2" cy="479.19" r="1.3" fill="rgba(31,119,180,0.680)"/>
<circle cx="590.9" cy="487.89" r="1.3" fill="rgba(221,112,32,0.680)"/>
<circle cx="585" cy="454" r="1.3" fill="rgba(31,119,180,0.680)"/>
<circle cx="599.05" cy="471.84" r="1.3" fill="rgba(31,119,180,0.680)"/>
<circle cx="596.42" cy="473.58" r="1.3" fill="rgba(221,112,32,0.680)"/>
<circle cx="602.69" cy="462.51" r="1.3" fill="rgba(221,112,32,0.680)"/>
<circle cx="619.79" cy="467.49" r="1.3" fill="rgba(221,112,32,0.680)"/>
<circle cx="581.33" cy="470.96" r="1.3" fill="rgba(31,119,180,0.680)"/>
<circle cx="649.3" cy="459.15" r="1.3" fill="rgba(221,112,32,0.680)"/>
<line x1="589.9" y1="444.4" x2="670.9" y2="441.2" stroke="rgb(31,119,180)" stroke-width="0.8"/>
<line x1="584.8" y1="470.7" x2="666.5" y2="467.4" stroke="rgb(31,119,180)" stroke-width="0.8"/>
<line x1="584.8" y1="472.2" x2="653.4" y2="470.4" stroke="rgb(31,119,180)" stroke-width="0.8"/>
<line x1="590.6" y1="476.6" x2="650.5" y2="476.3" stroke="rgb(31,119,180)" stroke-width="0.8"/>
<line x1="592.1" y1="482.4" x2="637.3" y2="482.1" stroke="rgb(31,119,180)" stroke-width="0.8"/>
<line x1="585" y1="474" x2="630" y2="473" stroke="rgb(31,119,180)" stroke-width="0.8"/>
<line x1="588" y1="469" x2="625" y2="468" stroke="rgb(31,119,180)" stroke-width="0.8"/>
<line x1="580.4" y1="482.4" x2="649" y2="459" stroke="rgb(221,112,32)" stroke-width="0.8"/>
<line x1="581.1" y1="479.5" x2="654.8" y2="460.5" stroke="rgb(221,112,32)" stroke-width="0.8"/>
<line x1="581.8" y1="477.3" x2="656.3" y2="463.1" stroke="rgb(221,112,32)" stroke-width="0.8"/>
<line x1="581.8" y1="475.1" x2="618.3" y2="458.3" stroke="rgb(221,112,32)" stroke-width="0.8"/>
<line x1="589.9" y1="448.8" x2="602.3" y2="446.6" stroke="rgb(221,112,32)" stroke-width="0.8"/>
<line x1="590.6" y1="492.6" x2="623.4" y2="485.3" stroke="rgb(221,112,32)" stroke-width="0.8"/>
<line x1="601.5" y1="495.5" x2="618.3" y2="491.2" stroke="rgb(221,112,32)" stroke-width="0.8"/>
<line x1="589.1" y1="467.1" x2="617.6" y2="458.3" stroke="rgb(221,112,32)" stroke-width="0.8"/>
<line x1="583" y1="485" x2="615" y2="478" stroke="rgb(221,112,32)" stroke-width="0.8"/>
<line x1="576.1" y1="425.5" x2="576.1" y2="505" stroke="#444" stroke-width="0.6"/>
<line x1="575.8" y1="504.7" x2="671.7" y2="504.7" stroke="#444" stroke-width="0.6"/>
<line x1="574.3" y1="435.1" x2="576.1" y2="435.1" stroke="#333" stroke-width="0.5"/>
<text x="572.8" y="437.3" font-size="5" text-anchor="end" fill="#333" transform="translate(572.8 437.3) scale(1 1.1) translate(-572.8 -437.3)">6</text>
<line x1="574.3" y1="449.95" x2="576.1" y2="449.95" stroke="#333" stroke-width="0.5"/>
<text x="572.8" y="452.15" font-size="5" text-anchor="end" fill="#333" transform="translate(572.8 452.15) scale(1 1.1) translate(-572.8 -452.15)">5</text>
<line x1="574.3" y1="464.8" x2="576.1" y2="464.8" stroke="#333" stroke-width="0.5"/>
<text x="572.8" y="467" font-size="5" text-anchor="end" fill="#333" transform="translate(572.8 467) scale(1 1.1) translate(-572.8 -467)">4</text>
<line x1="574.3" y1="479.65" x2="576.1" y2="479.65" stroke="#333" stroke-width="0.5"/>
<text x="572.8" y="481.85" font-size="5" text-anchor="end" fill="#333" transform="translate(572.8 481.85) scale(1 1.1) translate(-572.8 -481.85)">3</text>
<line x1="574.3" y1="494.5" x2="576.1" y2="494.5" stroke="#333" stroke-width="0.5"/>
<text x="572.8" y="496.7" font-size="5" text-anchor="end" fill="#333" transform="translate(572.8 496.7) scale(1 1.1) translate(-572.8 -496.7)">2</text>
<line x1="577.7" y1="504.7" x2="577.7" y2="506.7" stroke="#333" stroke-width="0.5"/>
<text x="579.5" y="510.7" font-size="4.8" text-anchor="end" fill="#333" transform="rotate(-45 579.5 510.7) translate(579.5 510.7) scale(1 1.1) translate(-579.5 -510.7)">0</text>
<line x1="608.6" y1="504.7" x2="608.6" y2="506.7" stroke="#333" stroke-width="0.5"/>
<text x="610.4" y="510.7" font-size="4.8" text-anchor="end" fill="#333" transform="rotate(-45 610.4 510.7) translate(610.4 510.7) scale(1 1.1) translate(-610.4 -510.7)">1</text>
<line x1="639.5" y1="504.7" x2="639.5" y2="506.7" stroke="#333" stroke-width="0.5"/>
<text x="641.3" y="510.7" font-size="4.8" text-anchor="end" fill="#333" transform="rotate(-45 641.3 510.7) translate(641.3 510.7) scale(1 1.1) translate(-641.3 -510.7)">2</text>
<line x1="670.4" y1="504.7" x2="670.4" y2="506.7" stroke="#333" stroke-width="0.5"/>
<text x="672.2" y="510.7" font-size="4.8" text-anchor="end" fill="#333" transform="rotate(-45 672.2 510.7) translate(672.2 510.7) scale(1 1.1) translate(-672.2 -510.7)">3</text>
<text x="624.5" y="518.9" font-size="5" text-anchor="middle" fill="#111" transform="translate(624.5 518.9) scale(1 1.1) translate(-624.5 -518.9)">Centroid Dist</text>
<text x="566.9" y="464.8" font-size="5" text-anchor="middle" fill="#111" transform="rotate(-90 566.9 464.8) translate(566.9 464.8) scale(1 1.1) translate(-566.9 -464.8)">Log2  TNF-a</text>
<text x="675" y="502.4" font-size="4.9" text-anchor="end" fill="#111" transform="translate(675 502.4) scale(1 1.1) translate(-675 -502.4)">r: 0.4; adj. P: 4.64e-03; n = 213</text>
<circle cx="361.01" cy="543.49" r="1.3" fill="rgba(221,112,32,0.680)"/>
<circle cx="346.31" cy="561.67" r="1.3" fill="rgba(31,119,180,0.680)"/>
<circle cx="383.63" cy="581.86" r="1.3" fill="rgba(31,119,180,0.680)"/>
<circle cx="341.85" cy="544.69" r="1.3" fill="rgba(221,112,32,0.680)"/>
<circle cx="349.11" cy="549.76" r="1.3" fill="rgba(221,112,32,0.680)"/>
<circle cx="427.54" cy="590.53" r="1.3" fill="rgba(31,119,180,0.680)"/>
<circle cx="370.46" cy="557.9" r="1.3" fill="rgba(221,112,32,0.680)"/>
<circle cx="401" cy="565" r="1.3" fill="rgba(31,119,180,0.680)"/>
<circle cx="345.28" cy="540.16" r="1.3" fill="rgba(221,112,32,0.680)"/>
<circle cx="354.43" cy="564.51" r="1.3" fill="rgba(31,119,180,0.680)"/>
<circle cx="407.2" cy="558.48" r="1.3" fill="rgba(31,119,180,0.680)"/>
<circle cx="343.01" cy="552.55" r="1.3" fill="rgba(31,119,180,0.680)"/>
<circle cx="349.7" cy="568.98" r="1.3" fill="rgba(31,119,180,0.680)"/>
<circle cx="369.89" cy="546.09" r="1.3" fill="rgba(31,119,180,0.680)"/>
<circle cx="342.57" cy="545.16" r="1.3" fill="rgba(221,112,32,0.680)"/>
<circle cx="360.19" cy="572.88" r="1.3" fill="rgba(221,112,32,0.680)"/>
<circle cx="352.15" cy="552.08" r="1.3" fill="rgba(221,112,32,0.680)"/>
<circle cx="359.67" cy="556.12" r="1.3" fill="rgba(31,119,180,0.680)"/>
<circle cx="388" cy="543.5" r="1.3" fill="rgba(31,119,180,0.680)"/>
<circle cx="377.87" cy="577.09" r="1.3" fill="rgba(31,119,180,0.680)"/>
<circle cx="348.32" cy="556.45" r="1.3" fill="rgba(221,112,32,0.680)"/>
<circle cx="350.49" cy="573.95" r="1.3" fill="rgba(31,119,180,0.680)"/>
<circle cx="357.97" cy="568.59" r="1.3" fill="rgba(221,112,32,0.680)"/>
<circle cx="355.58" cy="559.82" r="1.3" fill="rgba(31,119,180,0.680)"/>
<circle cx="344.04" cy="567.6" r="1.3" fill="rgba(31,119,180,0.680)"/>
<circle cx="351.59" cy="555.35" r="1.3" fill="rgba(31,119,180,0.680)"/>
<circle cx="344.69" cy="565.8" r="1.3" fill="rgba(31,119,180,0.680)"/>
<circle cx="362.97" cy="562.29" r="1.3" fill="rgba(31,119,180,0.680)"/>
<circle cx="361.23" cy="563.86" r="1.3" fill="rgba(31,119,180,0.680)"/>
<circle cx="369" cy="586" r="1.3" fill="rgba(221,112,32,0.680)"/>
<circle cx="340.98" cy="566.35" r="1.3" fill="rgba(221,112,32,0.680)"/>
<circle cx="349.97" cy="550.4" r="1.3" fill="rgba(221,112,32,0.680)"/>
<circle cx="341.2" cy="556.03" r="1.3" fill="rgba(31,119,180,0.680)"/>
<circle cx="343.38" cy="565.97" r="1.3" fill="rgba(31,119,180,0.680)"/>
<circle cx="358.59" cy="551.99" r="1.3" fill="rgba(221,112,32,0.680)"/>
<circle cx="351.37" cy="557.53" r="1.3" fill="rgba(221,112,32,0.680)"/>
<circle cx="349.05" cy="565.92" r="1.3" fill="rgba(221,112,32,0.680)"/>
<circle cx="373.34" cy="561.63" r="1.3" fill="rgba(221,112,32,0.680)"/>
<circle cx="357.57" cy="532.22" r="1.3" fill="rgba(221,112,32,0.680)"/>
<circle cx="394.76" cy="541.68" r="1.3" fill="rgba(31,119,180,0.680)"/>
<circle cx="405" cy="573.5" r="1.3" fill="rgba(221,112,32,0.680)"/>
<circle cx="356.46" cy="581.64" r="1.3" fill="rgba(31,119,180,0.680)"/>
<circle cx="361.54" cy="556.94" r="1.3" fill="rgba(221,112,32,0.680)"/>
<circle cx="347.05" cy="551.08" r="1.3" fill="rgba(221,112,32,0.680)"/>
<circle cx="344.61" cy="573.69" r="1.3" fill="rgba(31,119,180,0.680)"/>
<circle cx="342.75" cy="546.04" r="1.3" fill="rgba(31,119,180,0.680)"/>
<circle cx="341" cy="560.8" r="1.3" fill="rgba(31,119,180,0.680)"/>
<circle cx="345.47" cy="558.41" r="1.3" fill="rgba(31,119,180,0.680)"/>
<circle cx="402.33" cy="566.01" r="1.3" fill="rgba(221,112,32,0.680)"/>
<circle cx="342.99" cy="556.66" r="1.3" fill="rgba(221,112,32,0.680)"/>
<circle cx="348.95" cy="530.45" r="1.3" fill="rgba(221,112,32,0.680)"/>
<circle cx="355.44" cy="552.33" r="1.3" fill="rgba(221,112,32,0.680)"/>
<circle cx="343.51" cy="544.54" r="1.3" fill="rgba(221,112,32,0.680)"/>
<circle cx="417.5" cy="561" r="1.3" fill="rgba(221,112,32,0.680)"/>
<circle cx="341.13" cy="569.41" r="1.3" fill="rgba(221,112,32,0.680)"/>
<circle cx="359.19" cy="548.71" r="1.3" fill="rgba(221,112,32,0.680)"/>
<circle cx="360.35" cy="558.52" r="1.3" fill="rgba(221,112,32,0.680)"/>
<circle cx="367.88" cy="542" r="1.3" fill="rgba(221,112,32,0.680)"/>
<circle cx="358.87" cy="562.87" r="1.3" fill="rgba(221,112,32,0.680)"/>
<circle cx="368" cy="561.65" r="1.3" fill="rgba(221,112,32,0.680)"/>
<circle cx="429" cy="567.5" r="1.3" fill="rgba(221,112,32,0.680)"/>
<circle cx="356.1" cy="546.25" r="1.3" fill="rgba(221,112,32,0.680)"/>
<circle cx="339.61" cy="540.37" r="1.3" fill="rgba(221,112,32,0.680)"/>
<circle cx="347.55" cy="573.26" r="1.3" fill="rgba(31,119,180,0.680)"/>
<circle cx="344.54" cy="561.68" r="1.3" fill="rgba(221,112,32,0.680)"/>
<circle cx="361.04" cy="565.36" r="1.3" fill="rgba(221,112,32,0.680)"/>
<circle cx="412" cy="585" r="1.3" fill="rgba(221,112,32,0.680)"/>
<circle cx="354.25" cy="557.45" r="1.3" fill="rgba(31,119,180,0.680)"/>
<circle cx="346.06" cy="552.49" r="1.3" fill="rgba(31,119,180,0.680)"/>
<circle cx="354.3" cy="551.33" r="1.3" fill="rgba(31,119,180,0.680)"/>
<circle cx="351.56" cy="574.44" r="1.3" fill="rgba(221,112,32,0.680)"/>
<circle cx="340.03" cy="548.45" r="1.3" fill="rgba(221,112,32,0.680)"/>
<circle cx="352.38" cy="554.26" r="1.3" fill="rgba(221,112,32,0.680)"/>
<circle cx="357.99" cy="552.04" r="1.3" fill="rgba(31,119,180,0.680)"/>
<circle cx="384.57" cy="578.21" r="1.3" fill="rgba(31,119,180,0.680)"/>
<circle cx="361.94" cy="559.07" r="1.3" fill="rgba(31,119,180,0.680)"/>
<circle cx="357.16" cy="554.49" r="1.3" fill="rgba(221,112,32,0.680)"/>
<circle cx="423.94" cy="583.13" r="1.3" fill="rgba(31,119,180,0.680)"/>
<circle cx="352.95" cy="566.13" r="1.3" fill="rgba(31,119,180,0.680)"/>
<circle cx="343.74" cy="557.61" r="1.3" fill="rgba(31,119,180,0.680)"/>
<circle cx="340.4" cy="544.77" r="1.3" fill="rgba(31,119,180,0.680)"/>
<circle cx="351.37" cy="555.5" r="1.3" fill="rgba(31,119,180,0.680)"/>
<circle cx="341.47" cy="569.41" r="1.3" fill="rgba(31,119,180,0.680)"/>
<circle cx="428.45" cy="567.24" r="1.3" fill="rgba(221,112,32,0.680)"/>
<circle cx="383.63" cy="537.33" r="1.3" fill="rgba(31,119,180,0.680)"/>
<circle cx="352.84" cy="565.52" r="1.3" fill="rgba(31,119,180,0.680)"/>
<circle cx="354.58" cy="570.93" r="1.3" fill="rgba(221,112,32,0.680)"/>
<circle cx="350" cy="581" r="1.3" fill="rgba(31,119,180,0.680)"/>
<circle cx="367.05" cy="555.84" r="1.3" fill="rgba(221,112,32,0.680)"/>
<circle cx="351" cy="582" r="1.3" fill="rgba(31,119,180,0.680)"/>
<circle cx="348.3" cy="562.7" r="1.3" fill="rgba(31,119,180,0.680)"/>
<circle cx="350.16" cy="556.08" r="1.3" fill="rgba(31,119,180,0.680)"/>
<circle cx="363.82" cy="572.21" r="1.3" fill="rgba(221,112,32,0.680)"/>
<circle cx="395.5" cy="528.5" r="1.3" fill="rgba(31,119,180,0.680)"/>
<circle cx="372.37" cy="539.15" r="1.3" fill="rgba(31,119,180,0.680)"/>
<circle cx="373.79" cy="556.21" r="1.3" fill="rgba(221,112,32,0.680)"/>
<circle cx="339.31" cy="566.76" r="1.3" fill="rgba(221,112,32,0.680)"/>
<circle cx="348.66" cy="557.87" r="1.3" fill="rgba(221,112,32,0.680)"/>
<circle cx="364.7" cy="555.71" r="1.3" fill="rgba(221,112,32,0.680)"/>
<circle cx="354.43" cy="549.69" r="1.3" fill="rgba(31,119,180,0.680)"/>
<circle cx="362.75" cy="559.59" r="1.3" fill="rgba(221,112,32,0.680)"/>
<circle cx="340.18" cy="553.84" r="1.3" fill="rgba(31,119,180,0.680)"/>
<circle cx="339.59" cy="559.21" r="1.3" fill="rgba(31,119,180,0.680)"/>
<circle cx="374.29" cy="543.76" r="1.3" fill="rgba(31,119,180,0.680)"/>
<circle cx="347.14" cy="569.85" r="1.3" fill="rgba(221,112,32,0.680)"/>
<circle cx="340.2" cy="552.42" r="1.3" fill="rgba(31,119,180,0.680)"/>
<circle cx="356.19" cy="534.8" r="1.3" fill="rgba(221,112,32,0.680)"/>
<circle cx="359.3" cy="551.64" r="1.3" fill="rgba(221,112,32,0.680)"/>
<circle cx="382.27" cy="545.37" r="1.3" fill="rgba(221,112,32,0.680)"/>
<circle cx="353.69" cy="561.31" r="1.3" fill="rgba(31,119,180,0.680)"/>
<circle cx="349.96" cy="548.41" r="1.3" fill="rgba(221,112,32,0.680)"/>
<circle cx="362" cy="578" r="1.3" fill="rgba(31,119,180,0.680)"/>
<circle cx="363.47" cy="570.98" r="1.3" fill="rgba(31,119,180,0.680)"/>
<circle cx="353.06" cy="547.82" r="1.3" fill="rgba(221,112,32,0.680)"/>
<circle cx="359.44" cy="563.13" r="1.3" fill="rgba(221,112,32,0.680)"/>
<circle cx="351.84" cy="552.23" r="1.3" fill="rgba(221,112,32,0.680)"/>
<circle cx="384" cy="544" r="1.3" fill="rgba(221,112,32,0.680)"/>
<circle cx="356.5" cy="541.69" r="1.3" fill="rgba(221,112,32,0.680)"/>
<circle cx="394.09" cy="570.32" r="1.3" fill="rgba(221,112,32,0.680)"/>
<circle cx="343.91" cy="539.81" r="1.3" fill="rgba(31,119,180,0.680)"/>
<circle cx="398.71" cy="571.31" r="1.3" fill="rgba(221,112,32,0.680)"/>
<circle cx="346.02" cy="553.17" r="1.3" fill="rgba(221,112,32,0.680)"/>
<circle cx="344.21" cy="564.14" r="1.3" fill="rgba(221,112,32,0.680)"/>
<circle cx="356" cy="564.17" r="1.3" fill="rgba(221,112,32,0.680)"/>
<circle cx="348.93" cy="554.93" r="1.3" fill="rgba(31,119,180,0.680)"/>
<circle cx="345.27" cy="552.38" r="1.3" fill="rgba(31,119,180,0.680)"/>
<circle cx="401.83" cy="562.15" r="1.3" fill="rgba(221,112,32,0.680)"/>
<circle cx="380" cy="590" r="1.3" fill="rgba(31,119,180,0.680)"/>
<circle cx="340.84" cy="561.08" r="1.3" fill="rgba(31,119,180,0.680)"/>
<circle cx="348.52" cy="557.2" r="1.3" fill="rgba(31,119,180,0.680)"/>
<circle cx="361" cy="532" r="1.3" fill="rgba(31,119,180,0.680)"/>
<circle cx="387.08" cy="550.57" r="1.3" fill="rgba(221,112,32,0.680)"/>
<circle cx="370" cy="540" r="1.3" fill="rgba(31,119,180,0.680)"/>
<circle cx="351.65" cy="553.87" r="1.3" fill="rgba(31,119,180,0.680)"/>
<circle cx="363.22" cy="567.79" r="1.3" fill="rgba(31,119,180,0.680)"/>
<circle cx="362.06" cy="578.06" r="1.3" fill="rgba(221,112,32,0.680)"/>
<circle cx="352.34" cy="551.08" r="1.3" fill="rgba(31,119,180,0.680)"/>
<circle cx="349.38" cy="555.63" r="1.3" fill="rgba(221,112,32,0.680)"/>
<circle cx="357" cy="523.5" r="1.3" fill="rgba(221,112,32,0.680)"/>
<circle cx="347.38" cy="554.19" r="1.3" fill="rgba(31,119,180,0.680)"/>
<circle cx="345.4" cy="560.27" r="1.3" fill="rgba(221,112,32,0.680)"/>
<circle cx="349.88" cy="564.78" r="1.3" fill="rgba(31,119,180,0.680)"/>
<circle cx="362.57" cy="546.04" r="1.3" fill="rgba(31,119,180,0.680)"/>
<circle cx="413.5" cy="565" r="1.3" fill="rgba(221,112,32,0.680)"/>
<circle cx="357.06" cy="577.72" r="1.3" fill="rgba(221,112,32,0.680)"/>
<circle cx="359.72" cy="557.71" r="1.3" fill="rgba(221,112,32,0.680)"/>
<circle cx="355.07" cy="556.52" r="1.3" fill="rgba(221,112,32,0.680)"/>
<circle cx="346.41" cy="539.38" r="1.3" fill="rgba(31,119,180,0.680)"/>
<circle cx="365.61" cy="567.81" r="1.3" fill="rgba(221,112,32,0.680)"/>
<circle cx="363.94" cy="556.55" r="1.3" fill="rgba(221,112,32,0.680)"/>
<circle cx="351.38" cy="546.78" r="1.3" fill="rgba(221,112,32,0.680)"/>
<circle cx="354.97" cy="540.33" r="1.3" fill="rgba(221,112,32,0.680)"/>
<circle cx="390.64" cy="558.37" r="1.3" fill="rgba(221,112,32,0.680)"/>
<circle cx="345.5" cy="566.43" r="1.3" fill="rgba(31,119,180,0.680)"/>
<circle cx="380.87" cy="584.29" r="1.3" fill="rgba(31,119,180,0.680)"/>
<circle cx="364.32" cy="571.03" r="1.3" fill="rgba(221,112,32,0.680)"/>
<circle cx="345.28" cy="554.6" r="1.3" fill="rgba(221,112,32,0.680)"/>
<circle cx="348.64" cy="544.36" r="1.3" fill="rgba(31,119,180,0.680)"/>
<circle cx="340.74" cy="541.82" r="1.3" fill="rgba(221,112,32,0.680)"/>
<circle cx="365.39" cy="563.38" r="1.3" fill="rgba(31,119,180,0.680)"/>
<circle cx="355.66" cy="559.65" r="1.3" fill="rgba(31,119,180,0.680)"/>
<circle cx="401.97" cy="587.36" r="1.3" fill="rgba(31,119,180,0.680)"/>
<circle cx="353.11" cy="560.03" r="1.3" fill="rgba(31,119,180,0.680)"/>
<circle cx="338.85" cy="552.98" r="1.3" fill="rgba(31,119,180,0.680)"/>
<circle cx="350.8" cy="564.28" r="1.3" fill="rgba(221,112,32,0.680)"/>
<circle cx="360.59" cy="567.45" r="1.3" fill="rgba(31,119,180,0.680)"/>
<circle cx="352.23" cy="532.32" r="1.3" fill="rgba(221,112,32,0.680)"/>
<circle cx="344.45" cy="546.01" r="1.3" fill="rgba(221,112,32,0.680)"/>
<circle cx="357.37" cy="553.92" r="1.3" fill="rgba(31,119,180,0.680)"/>
<circle cx="394.68" cy="564.87" r="1.3" fill="rgba(31,119,180,0.680)"/>
<circle cx="361.47" cy="566.75" r="1.3" fill="rgba(31,119,180,0.680)"/>
<circle cx="368.06" cy="548.17" r="1.3" fill="rgba(31,119,180,0.680)"/>
<circle cx="363.93" cy="555.65" r="1.3" fill="rgba(31,119,180,0.680)"/>
<circle cx="352.66" cy="549.24" r="1.3" fill="rgba(31,119,180,0.680)"/>
<circle cx="369.79" cy="575.2" r="1.3" fill="rgba(31,119,180,0.680)"/>
<circle cx="392.62" cy="584.98" r="1.3" fill="rgba(31,119,180,0.680)"/>
<circle cx="355.51" cy="544.36" r="1.3" fill="rgba(221,112,32,0.680)"/>
<circle cx="355.5" cy="560.13" r="1.3" fill="rgba(221,112,32,0.680)"/>
<circle cx="411.13" cy="569.75" r="1.3" fill="rgba(31,119,180,0.680)"/>
<circle cx="348.95" cy="550.63" r="1.3" fill="rgba(221,112,32,0.680)"/>
<circle cx="360.06" cy="559.11" r="1.3" fill="rgba(31,119,180,0.680)"/>
<circle cx="353.07" cy="567.6" r="1.3" fill="rgba(221,112,32,0.680)"/>
<circle cx="349.7" cy="562.2" r="1.3" fill="rgba(31,119,180,0.680)"/>
<circle cx="345.72" cy="545.39" r="1.3" fill="rgba(221,112,32,0.680)"/>
<circle cx="382.43" cy="557.24" r="1.3" fill="rgba(221,112,32,0.680)"/>
<circle cx="350.97" cy="550.26" r="1.3" fill="rgba(31,119,180,0.680)"/>
<circle cx="360.73" cy="558.96" r="1.3" fill="rgba(221,112,32,0.680)"/>
<circle cx="362.73" cy="553.98" r="1.3" fill="rgba(31,119,180,0.680)"/>
<circle cx="400" cy="577" r="1.3" fill="rgba(31,119,180,0.680)"/>
<circle cx="361.22" cy="546.24" r="1.3" fill="rgba(31,119,180,0.680)"/>
<circle cx="375.99" cy="567.25" r="1.3" fill="rgba(31,119,180,0.680)"/>
<circle cx="352.75" cy="561.41" r="1.3" fill="rgba(221,112,32,0.680)"/>
<circle cx="368.27" cy="536.79" r="1.3" fill="rgba(31,119,180,0.680)"/>
<circle cx="405.05" cy="566.77" r="1.3" fill="rgba(221,112,32,0.680)"/>
<circle cx="356.94" cy="555.81" r="1.3" fill="rgba(221,112,32,0.680)"/>
<circle cx="356.94" cy="566.65" r="1.3" fill="rgba(221,112,32,0.680)"/>
<circle cx="366.52" cy="560.81" r="1.3" fill="rgba(221,112,32,0.680)"/>
<circle cx="362" cy="533" r="1.3" fill="rgba(31,119,180,0.680)"/>
<circle cx="344.23" cy="561.9" r="1.3" fill="rgba(221,112,32,0.680)"/>
<circle cx="357.55" cy="548.16" r="1.3" fill="rgba(221,112,32,0.680)"/>
<circle cx="353.8" cy="549.55" r="1.3" fill="rgba(31,119,180,0.680)"/>
<circle cx="366.09" cy="553.37" r="1.3" fill="rgba(31,119,180,0.680)"/>
<circle cx="347.73" cy="546.58" r="1.3" fill="rgba(221,112,32,0.680)"/>
<circle cx="412.92" cy="576.08" r="1.3" fill="rgba(221,112,32,0.680)"/>
<circle cx="368.6" cy="545.04" r="1.3" fill="rgba(31,119,180,0.680)"/>
<circle cx="358.86" cy="550.33" r="1.3" fill="rgba(31,119,180,0.680)"/>
<circle cx="356.59" cy="530.37" r="1.3" fill="rgba(221,112,32,0.680)"/>
<circle cx="398.67" cy="552.71" r="1.3" fill="rgba(31,119,180,0.680)"/>
<circle cx="359.17" cy="561.5" r="1.3" fill="rgba(221,112,32,0.680)"/>
<circle cx="353.27" cy="562.54" r="1.3" fill="rgba(221,112,32,0.680)"/>
<circle cx="364.26" cy="574.37" r="1.3" fill="rgba(221,112,32,0.680)"/>
<circle cx="347.89" cy="550.99" r="1.3" fill="rgba(31,119,180,0.680)"/>
<circle cx="358.51" cy="567.04" r="1.3" fill="rgba(31,119,180,0.680)"/>
<circle cx="405.06" cy="558.08" r="1.3" fill="rgba(31,119,180,0.680)"/>
<circle cx="386.94" cy="544.23" r="1.3" fill="rgba(31,119,180,0.680)"/>
<circle cx="404.13" cy="576.45" r="1.3" fill="rgba(221,112,32,0.680)"/>
<circle cx="368.41" cy="583.48" r="1.3" fill="rgba(31,119,180,0.680)"/>
<circle cx="345.43" cy="540.69" r="1.3" fill="rgba(31,119,180,0.680)"/>
<circle cx="367.21" cy="552.78" r="1.3" fill="rgba(31,119,180,0.680)"/>
<circle cx="348" cy="532" r="1.3" fill="rgba(221,112,32,0.680)"/>
<circle cx="407" cy="556" r="1.3" fill="rgba(31,119,180,0.680)"/>
<circle cx="339.21" cy="566.02" r="1.3" fill="rgba(221,112,32,0.680)"/>
<circle cx="366.13" cy="554.88" r="1.3" fill="rgba(31,119,180,0.680)"/>
<circle cx="361.03" cy="550.66" r="1.3" fill="rgba(221,112,32,0.680)"/>
<circle cx="427.5" cy="589.5" r="1.3" fill="rgba(31,119,180,0.680)"/>
<circle cx="360.66" cy="560.61" r="1.3" fill="rgba(31,119,180,0.680)"/>
<circle cx="343.25" cy="554.53" r="1.3" fill="rgba(221,112,32,0.680)"/>
<circle cx="355.15" cy="542.44" r="1.3" fill="rgba(31,119,180,0.680)"/>
<circle cx="343.07" cy="566.61" r="1.3" fill="rgba(221,112,32,0.680)"/>
<circle cx="360.18" cy="549.21" r="1.3" fill="rgba(31,119,180,0.680)"/>
<circle cx="361.95" cy="543.71" r="1.3" fill="rgba(221,112,32,0.680)"/>
<circle cx="406.33" cy="554.01" r="1.3" fill="rgba(221,112,32,0.680)"/>
<circle cx="346.02" cy="570.28" r="1.3" fill="rgba(31,119,180,0.680)"/>
<circle cx="348.22" cy="565.7" r="1.3" fill="rgba(221,112,32,0.680)"/>
<circle cx="349.47" cy="546.85" r="1.3" fill="rgba(221,112,32,0.680)"/>
<circle cx="348.52" cy="559.51" r="1.3" fill="rgba(221,112,32,0.680)"/>
<circle cx="426" cy="590" r="1.3" fill="rgba(31,119,180,0.680)"/>
<circle cx="350.15" cy="539.75" r="1.3" fill="rgba(31,119,180,0.680)"/>
<circle cx="347.08" cy="529.35" r="1.3" fill="rgba(221,112,32,0.680)"/>
<circle cx="349.72" cy="552.24" r="1.3" fill="rgba(31,119,180,0.680)"/>
<circle cx="342.43" cy="555.48" r="1.3" fill="rgba(221,112,32,0.680)"/>
<circle cx="358.09" cy="556.65" r="1.3" fill="rgba(221,112,32,0.680)"/>
<circle cx="345.52" cy="547.34" r="1.3" fill="rgba(31,119,180,0.680)"/>
<circle cx="355.35" cy="551.1" r="1.3" fill="rgba(221,112,32,0.680)"/>
<circle cx="358.91" cy="541.59" r="1.3" fill="rgba(31,119,180,0.680)"/>
<line x1="368.3" y1="537" x2="395.3" y2="540.2" stroke="rgb(31,119,180)" stroke-width="0.8"/>
<line x1="355.2" y1="580" x2="423.8" y2="582.2" stroke="rgb(31,119,180)" stroke-width="0.8"/>
<line x1="368.3" y1="584.4" x2="427.4" y2="590.3" stroke="rgb(31,119,180)" stroke-width="0.8"/>
<line x1="345" y1="557.4" x2="407" y2="559.6" stroke="rgb(31,119,180)" stroke-width="0.8"/>
<line x1="343.5" y1="566.2" x2="410.6" y2="569.1" stroke="rgb(31,119,180)" stroke-width="0.8"/>
<line x1="343" y1="541.5" x2="388" y2="545" stroke="rgb(31,119,180)" stroke-width="0.8"/>
<line x1="345" y1="551" x2="400" y2="554" stroke="rgb(31,119,180)" stroke-width="0.8"/>
<line x1="348" y1="573" x2="385" y2="577.5" stroke="rgb(31,119,180)" stroke-width="0.8"/>
<line x1="350" y1="562" x2="395" y2="566" stroke="rgb(31,119,180)" stroke-width="0.8"/>
<line x1="341" y1="547" x2="370" y2="548" stroke="rgb(31,119,180)" stroke-width="0.8"/>
<line x1="345.7" y1="529" x2="358.1" y2="531.9" stroke="rgb(221,112,32)" stroke-width="0.8"/>
<line x1="339.8" y1="542.8" x2="407" y2="553.8" stroke="rgb(221,112,32)" stroke-width="0.8"/>
<line x1="339.8" y1="550.1" x2="428.9" y2="569.1" stroke="rgb(221,112,32)" stroke-width="0.8"/>
<line x1="339.8" y1="568.4" x2="411.4" y2="579.3" stroke="rgb(221,112,32)" stroke-width="0.8"/>
<line x1="342.8" y1="554.5" x2="402.6" y2="566.2" stroke="rgb(221,112,32)" stroke-width="0.8"/>
<line x1="345.7" y1="560.3" x2="404.1" y2="576.4" stroke="rgb(221,112,32)" stroke-width="0.8"/>
<line x1="342" y1="547" x2="390" y2="557" stroke="rgb(221,112,32)" stroke-width="0.8"/>
<line x1="344" y1="563" x2="400" y2="573" stroke="rgb(221,112,32)" stroke-width="0.8"/>
<line x1="334.6" y1="520.4" x2="334.6" y2="599.2" stroke="#444" stroke-width="0.6"/>
<line x1="334.3" y1="598.9" x2="431.5" y2="598.9" stroke="#444" stroke-width="0.6"/>
<line x1="332.8" y1="536.3" x2="334.6" y2="536.3" stroke="#333" stroke-width="0.5"/>
<text x="331.3" y="538.5" font-size="5" text-anchor="end" fill="#333" transform="translate(331.3 538.5) scale(1 1.1) translate(-331.3 -538.5)">5.0</text>
<line x1="332.8" y1="557.94" x2="334.6" y2="557.94" stroke="#333" stroke-width="0.5"/>
<text x="331.3" y="560.14" font-size="5" text-anchor="end" fill="#333" transform="translate(331.3 560.14) scale(1 1.1) translate(-331.3 -560.14)">4.6</text>
<line x1="332.8" y1="579.58" x2="334.6" y2="579.58" stroke="#333" stroke-width="0.5"/>
<text x="331.3" y="581.78" font-size="5" text-anchor="end" fill="#333" transform="translate(331.3 581.78) scale(1 1.1) translate(-331.3 -581.78)">4.2</text>
<line x1="336.8" y1="598.9" x2="336.8" y2="600.9" stroke="#333" stroke-width="0.5"/>
<text x="338.6" y="604.9" font-size="4.8" text-anchor="end" fill="#333" transform="rotate(-45 338.6 604.9) translate(338.6 604.9) scale(1 1.1) translate(-338.6 -604.9)">0</text>
<line x1="366.87" y1="598.9" x2="366.87" y2="600.9" stroke="#333" stroke-width="0.5"/>
<text x="368.67" y="604.9" font-size="4.8" text-anchor="end" fill="#333" transform="rotate(-45 368.67 604.9) translate(368.67 604.9) scale(1 1.1) translate(-368.67 -604.9)">1</text>
<line x1="396.94" y1="598.9" x2="396.94" y2="600.9" stroke="#333" stroke-width="0.5"/>
<text x="398.74" y="604.9" font-size="4.8" text-anchor="end" fill="#333" transform="rotate(-45 398.74 604.9) translate(398.74 604.9) scale(1 1.1) translate(-398.74 -604.9)">2</text>
<line x1="427.01" y1="598.9" x2="427.01" y2="600.9" stroke="#333" stroke-width="0.5"/>
<text x="428.81" y="604.9" font-size="4.8" text-anchor="end" fill="#333" transform="rotate(-45 428.81 604.9) translate(428.81 604.9) scale(1 1.1) translate(-428.81 -604.9)">3</text>
<text x="383.65" y="613.1" font-size="5" text-anchor="middle" fill="#111" transform="translate(383.65 613.1) scale(1 1.1) translate(-383.65 -613.1)">Centroid Dist</text>
<text x="322.2" y="559.3" font-size="5" text-anchor="middle" fill="#111" transform="rotate(-90 322.2 559.3) translate(322.2 559.3) scale(1 1.1) translate(-322.2 -559.3)">Log2  BMI</text>
<text x="434.2" y="596.6" font-size="4.9" text-anchor="end" fill="#111" transform="translate(434.2 596.6) scale(1 1.1) translate(-434.2 -596.6)">r: -0.53; adj. P: 2.50e-06; n = 244</text>
<circle cx="479.97" cy="553.24" r="1.3" fill="rgba(221,112,32,0.680)"/>
<circle cx="479.85" cy="560.98" r="1.3" fill="rgba(31,119,180,0.680)"/>
<circle cx="463.5" cy="573" r="1.3" fill="rgba(31,119,180,0.680)"/>
<circle cx="491.49" cy="545.73" r="1.3" fill="rgba(31,119,180,0.680)"/>
<circle cx="476.64" cy="554.45" r="1.3" fill="rgba(31,119,180,0.680)"/>
<circle cx="465" cy="524.5" r="1.3" fill="rgba(221,112,32,0.680)"/>
<circle cx="463.41" cy="542.87" r="1.3" fill="rgba(31,119,180,0.680)"/>
<circle cx="493.8" cy="560.04" r="1.3" fill="rgba(31,119,180,0.680)"/>
<circle cx="481.78" cy="553.01" r="1.3" fill="rgba(31,119,180,0.680)"/>
<circle cx="481.93" cy="572.41" r="1.3" fill="rgba(31,119,180,0.680)"/>
<circle cx="536" cy="541" r="1.3" fill="rgba(221,112,32,0.680)"/>
<circle cx="466.21" cy="552.46" r="1.3" fill="rgba(31,119,180,0.680)"/>
<circle cx="463.88" cy="558.34" r="1.3" fill="rgba(31,119,180,0.680)"/>
<circle cx="487.19" cy="559.6" r="1.3" fill="rgba(31,119,180,0.680)"/>
<circle cx="468.77" cy="554.73" r="1.3" fill="rgba(31,119,180,0.680)"/>
<circle cx="506.58" cy="550.16" r="1.3" fill="rgba(31,119,180,0.680)"/>
<circle cx="475.87" cy="541.9" r="1.3" fill="rgba(31,119,180,0.680)"/>
<circle cx="481.23" cy="565.88" r="1.3" fill="rgba(31,119,180,0.680)"/>
<circle cx="460.88" cy="580.44" r="1.3" fill="rgba(221,112,32,0.680)"/>
<circle cx="494.99" cy="558.7" r="1.3" fill="rgba(221,112,32,0.680)"/>
<circle cx="492.11" cy="550.21" r="1.3" fill="rgba(31,119,180,0.680)"/>
<circle cx="482.12" cy="557.58" r="1.3" fill="rgba(221,112,32,0.680)"/>
<circle cx="523" cy="563.5" r="1.3" fill="rgba(31,119,180,0.680)"/>
<circle cx="478.32" cy="552.77" r="1.3" fill="rgba(31,119,180,0.680)"/>
<circle cx="505.66" cy="560.83" r="1.3" fill="rgba(31,119,180,0.680)"/>
<circle cx="483.11" cy="540.54" r="1.3" fill="rgba(31,119,180,0.680)"/>
<circle cx="544.46" cy="550.53" r="1.3" fill="rgba(31,119,180,0.680)"/>
<circle cx="464.34" cy="555.14" r="1.3" fill="rgba(31,119,180,0.680)"/>
<circle cx="477.29" cy="541.19" r="1.3" fill="rgba(221,112,32,0.680)"/>
<circle cx="483.92" cy="557.81" r="1.3" fill="rgba(31,119,180,0.680)"/>
<circle cx="479.55" cy="546.07" r="1.3" fill="rgba(31,119,180,0.680)"/>
<circle cx="463" cy="595" r="1.3" fill="rgba(221,112,32,0.680)"/>
<circle cx="483" cy="529" r="1.3" fill="rgba(221,112,32,0.680)"/>
<circle cx="460.71" cy="551.48" r="1.3" fill="rgba(31,119,180,0.680)"/>
<circle cx="481.22" cy="560.5" r="1.3" fill="rgba(31,119,180,0.680)"/>
<circle cx="494.29" cy="557.01" r="1.3" fill="rgba(31,119,180,0.680)"/>
<circle cx="500.64" cy="552.63" r="1.3" fill="rgba(221,112,32,0.680)"/>
<circle cx="473" cy="528" r="1.3" fill="rgba(31,119,180,0.680)"/>
<circle cx="468.54" cy="539.05" r="1.3" fill="rgba(221,112,32,0.680)"/>
<circle cx="488.29" cy="539.47" r="1.3" fill="rgba(31,119,180,0.680)"/>
<circle cx="460" cy="564" r="1.3" fill="rgba(221,112,32,0.680)"/>
<circle cx="461.3" cy="546.67" r="1.3" fill="rgba(221,112,32,0.680)"/>
<circle cx="549" cy="544" r="1.3" fill="rgba(31,119,180,0.680)"/>
<circle cx="465" cy="534" r="1.3" fill="rgba(31,119,180,0.680)"/>
<circle cx="488.43" cy="552.8" r="1.3" fill="rgba(31,119,180,0.680)"/>
<circle cx="478.66" cy="563.12" r="1.3" fill="rgba(31,119,180,0.680)"/>
<circle cx="469.09" cy="567.37" r="1.3" fill="rgba(221,112,32,0.680)"/>
<circle cx="471.77" cy="557.17" r="1.3" fill="rgba(221,112,32,0.680)"/>
<circle cx="509.65" cy="553.06" r="1.3" fill="rgba(221,112,32,0.680)"/>
<circle cx="469.17" cy="539.31" r="1.3" fill="rgba(221,112,32,0.680)"/>
<circle cx="472.94" cy="560.92" r="1.3" fill="rgba(31,119,180,0.680)"/>
<circle cx="477.75" cy="562.32" r="1.3" fill="rgba(31,119,180,0.680)"/>
<circle cx="479.33" cy="538.32" r="1.3" fill="rgba(221,112,32,0.680)"/>
<circle cx="507.74" cy="544.24" r="1.3" fill="rgba(31,119,180,0.680)"/>
<circle cx="472.71" cy="560.38" r="1.3" fill="rgba(31,119,180,0.680)"/>
<circle cx="464.09" cy="562.11" r="1.3" fill="rgba(31,119,180,0.680)"/>
<circle cx="462.62" cy="582.99" r="1.3" fill="rgba(221,112,32,0.680)"/>
<circle cx="463.89" cy="535.79" r="1.3" fill="rgba(221,112,32,0.680)"/>
<circle cx="478.64" cy="560.9" r="1.3" fill="rgba(221,112,32,0.680)"/>
<circle cx="550.9" cy="529" r="1.3" fill="rgba(31,119,180,0.680)"/>
<circle cx="477.56" cy="559.12" r="1.3" fill="rgba(221,112,32,0.680)"/>
<circle cx="489.89" cy="553.22" r="1.3" fill="rgba(31,119,180,0.680)"/>
<circle cx="482.27" cy="562.27" r="1.3" fill="rgba(221,112,32,0.680)"/>
<circle cx="504.96" cy="548.12" r="1.3" fill="rgba(221,112,32,0.680)"/>
<circle cx="487.98" cy="536.76" r="1.3" fill="rgba(221,112,32,0.680)"/>
<circle cx="472.52" cy="551.73" r="1.3" fill="rgba(31,119,180,0.680)"/>
<circle cx="473.45" cy="550.24" r="1.3" fill="rgba(31,119,180,0.680)"/>
<circle cx="495.58" cy="559.85" r="1.3" fill="rgba(221,112,32,0.680)"/>
<circle cx="461.84" cy="562.3" r="1.3" fill="rgba(221,112,32,0.680)"/>
<circle cx="488.52" cy="555.24" r="1.3" fill="rgba(31,119,180,0.680)"/>
<circle cx="482.46" cy="546.79" r="1.3" fill="rgba(221,112,32,0.680)"/>
<circle cx="480.5" cy="561.27" r="1.3" fill="rgba(31,119,180,0.680)"/>
<circle cx="461.12" cy="541.24" r="1.3" fill="rgba(221,112,32,0.680)"/>
<circle cx="486" cy="531" r="1.3" fill="rgba(31,119,180,0.680)"/>
<circle cx="470.41" cy="552.73" r="1.3" fill="rgba(221,112,32,0.680)"/>
<circle cx="462.06" cy="568.95" r="1.3" fill="rgba(221,112,32,0.680)"/>
<circle cx="477.97" cy="562.53" r="1.3" fill="rgba(221,112,32,0.680)"/>
<circle cx="520.42" cy="550.71" r="1.3" fill="rgba(31,119,180,0.680)"/>
<circle cx="479.27" cy="553.19" r="1.3" fill="rgba(31,119,180,0.680)"/>
<circle cx="469.91" cy="551.29" r="1.3" fill="rgba(221,112,32,0.680)"/>
<circle cx="478.88" cy="563.27" r="1.3" fill="rgba(221,112,32,0.680)"/>
<circle cx="505" cy="571.5" r="1.3" fill="rgba(31,119,180,0.680)"/>
<circle cx="465.8" cy="564.24" r="1.3" fill="rgba(221,112,32,0.680)"/>
<circle cx="466.16" cy="559.45" r="1.3" fill="rgba(221,112,32,0.680)"/>
<circle cx="488.52" cy="561.5" r="1.3" fill="rgba(221,112,32,0.680)"/>
<circle cx="501.17" cy="559.9" r="1.3" fill="rgba(221,112,32,0.680)"/>
<circle cx="471.95" cy="559.48" r="1.3" fill="rgba(31,119,180,0.680)"/>
<circle cx="549.5" cy="524" r="1.3" fill="rgba(31,119,180,0.680)"/>
<circle cx="473.63" cy="549.49" r="1.3" fill="rgba(221,112,32,0.680)"/>
<circle cx="516.51" cy="559.12" r="1.3" fill="rgba(31,119,180,0.680)"/>
<circle cx="481.24" cy="552.76" r="1.3" fill="rgba(31,119,180,0.680)"/>
<circle cx="480.53" cy="548.89" r="1.3" fill="rgba(31,119,180,0.680)"/>
<circle cx="514.6" cy="557.17" r="1.3" fill="rgba(31,119,180,0.680)"/>
<circle cx="496.33" cy="559.35" r="1.3" fill="rgba(31,119,180,0.680)"/>
<circle cx="505.5" cy="568" r="1.3" fill="rgba(31,119,180,0.680)"/>
<circle cx="485.89" cy="554.46" r="1.3" fill="rgba(31,119,180,0.680)"/>
<circle cx="502.17" cy="531.04" r="1.3" fill="rgba(31,119,180,0.680)"/>
<circle cx="470" cy="579.5" r="1.3" fill="rgba(221,112,32,0.680)"/>
<circle cx="475.85" cy="565.32" r="1.3" fill="rgba(221,112,32,0.680)"/>
<circle cx="461" cy="544" r="1.3" fill="rgba(221,112,32,0.680)"/>
<circle cx="487.04" cy="552.58" r="1.3" fill="rgba(31,119,180,0.680)"/>
<circle cx="483.1" cy="559.74" r="1.3" fill="rgba(221,112,32,0.680)"/>
<circle cx="480.96" cy="555.47" r="1.3" fill="rgba(221,112,32,0.680)"/>
<circle cx="495.63" cy="551.46" r="1.3" fill="rgba(221,112,32,0.680)"/>
<circle cx="533.86" cy="548.58" r="1.3" fill="rgba(31,119,180,0.680)"/>
<circle cx="483.78" cy="542.87" r="1.3" fill="rgba(221,112,32,0.680)"/>
<circle cx="464.9" cy="581.46" r="1.3" fill="rgba(221,112,32,0.680)"/>
<circle cx="472.61" cy="556.58" r="1.3" fill="rgba(31,119,180,0.680)"/>
<circle cx="527.43" cy="548.91" r="1.3" fill="rgba(221,112,32,0.680)"/>
<circle cx="536.94" cy="540.37" r="1.3" fill="rgba(221,112,32,0.680)"/>
<circle cx="467" cy="528" r="1.3" fill="rgba(31,119,180,0.680)"/>
<circle cx="527" cy="534" r="1.3" fill="rgba(221,112,32,0.680)"/>
<circle cx="490.51" cy="552.41" r="1.3" fill="rgba(221,112,32,0.680)"/>
<circle cx="481.54" cy="566.55" r="1.3" fill="rgba(31,119,180,0.680)"/>
<circle cx="468.9" cy="551.62" r="1.3" fill="rgba(31,119,180,0.680)"/>
<circle cx="540" cy="541" r="1.3" fill="rgba(221,112,32,0.680)"/>
<circle cx="522.27" cy="551.39" r="1.3" fill="rgba(221,112,32,0.680)"/>
<circle cx="471.21" cy="553.48" r="1.3" fill="rgba(221,112,32,0.680)"/>
<circle cx="463.97" cy="571.14" r="1.3" fill="rgba(31,119,180,0.680)"/>
<circle cx="466.6" cy="560.43" r="1.3" fill="rgba(31,119,180,0.680)"/>
<circle cx="495.1" cy="551.54" r="1.3" fill="rgba(221,112,32,0.680)"/>
<circle cx="484.19" cy="556.04" r="1.3" fill="rgba(221,112,32,0.680)"/>
<circle cx="483.89" cy="554.12" r="1.3" fill="rgba(31,119,180,0.680)"/>
<circle cx="518.86" cy="532.84" r="1.3" fill="rgba(221,112,32,0.680)"/>
<circle cx="485.55" cy="550.93" r="1.3" fill="rgba(31,119,180,0.680)"/>
<circle cx="463.48" cy="546.8" r="1.3" fill="rgba(31,119,180,0.680)"/>
<circle cx="477.69" cy="556.34" r="1.3" fill="rgba(31,119,180,0.680)"/>
<circle cx="483.37" cy="559.91" r="1.3" fill="rgba(31,119,180,0.680)"/>
<circle cx="464" cy="587" r="1.3" fill="rgba(221,112,32,0.680)"/>
<circle cx="474.44" cy="566.46" r="1.3" fill="rgba(221,112,32,0.680)"/>
<circle cx="480.74" cy="554.01" r="1.3" fill="rgba(221,112,32,0.680)"/>
<circle cx="496.64" cy="558" r="1.3" fill="rgba(31,119,180,0.680)"/>
<circle cx="540.82" cy="528.28" r="1.3" fill="rgba(31,119,180,0.680)"/>
<circle cx="466.29" cy="540.5" r="1.3" fill="rgba(221,112,32,0.680)"/>
<circle cx="474.17" cy="569.04" r="1.3" fill="rgba(221,112,32,0.680)"/>
<circle cx="460.56" cy="547.14" r="1.3" fill="rgba(221,112,32,0.680)"/>
<circle cx="477.26" cy="563.98" r="1.3" fill="rgba(221,112,32,0.680)"/>
<circle cx="470.63" cy="568.79" r="1.3" fill="rgba(221,112,32,0.680)"/>
<circle cx="530.4" cy="558.58" r="1.3" fill="rgba(31,119,180,0.680)"/>
<circle cx="486.7" cy="556.73" r="1.3" fill="rgba(31,119,180,0.680)"/>
<circle cx="478" cy="575.5" r="1.3" fill="rgba(221,112,32,0.680)"/>
<circle cx="483.31" cy="560.46" r="1.3" fill="rgba(31,119,180,0.680)"/>
<circle cx="491.03" cy="552.42" r="1.3" fill="rgba(31,119,180,0.680)"/>
<circle cx="462.22" cy="552.51" r="1.3" fill="rgba(31,119,180,0.680)"/>
<circle cx="476.23" cy="536.35" r="1.3" fill="rgba(221,112,32,0.680)"/>
<circle cx="474.36" cy="548.38" r="1.3" fill="rgba(221,112,32,0.680)"/>
<circle cx="506.4" cy="545.37" r="1.3" fill="rgba(31,119,180,0.680)"/>
<circle cx="471.51" cy="566.89" r="1.3" fill="rgba(221,112,32,0.680)"/>
<circle cx="484.35" cy="558.29" r="1.3" fill="rgba(221,112,32,0.680)"/>
<circle cx="546" cy="539" r="1.3" fill="rgba(31,119,180,0.680)"/>
<circle cx="472.16" cy="556.26" r="1.3" fill="rgba(221,112,32,0.680)"/>
<circle cx="477.03" cy="572.13" r="1.3" fill="rgba(31,119,180,0.680)"/>
<circle cx="511.5" cy="523.5" r="1.3" fill="rgba(221,112,32,0.680)"/>
<circle cx="463.06" cy="553.89" r="1.3" fill="rgba(221,112,32,0.680)"/>
<circle cx="521.1" cy="544.23" r="1.3" fill="rgba(31,119,180,0.680)"/>
<circle cx="534.55" cy="526.9" r="1.3" fill="rgba(221,112,32,0.680)"/>
<circle cx="478.02" cy="564.62" r="1.3" fill="rgba(221,112,32,0.680)"/>
<circle cx="492.34" cy="533.78" r="1.3" fill="rgba(31,119,180,0.680)"/>
<circle cx="468" cy="525" r="1.3" fill="rgba(221,112,32,0.680)"/>
<circle cx="487.11" cy="549.7" r="1.3" fill="rgba(31,119,180,0.680)"/>
<circle cx="466.05" cy="551.57" r="1.3" fill="rgba(31,119,180,0.680)"/>
<circle cx="480" cy="577" r="1.3" fill="rgba(31,119,180,0.680)"/>
<circle cx="489.74" cy="562.12" r="1.3" fill="rgba(221,112,32,0.680)"/>
<circle cx="529.22" cy="545.62" r="1.3" fill="rgba(31,119,180,0.680)"/>
<circle cx="468.55" cy="541.48" r="1.3" fill="rgba(221,112,32,0.680)"/>
<circle cx="489.5" cy="524" r="1.3" fill="rgba(31,119,180,0.680)"/>
<circle cx="477.26" cy="552.42" r="1.3" fill="rgba(31,119,180,0.680)"/>
<circle cx="487.73" cy="545.32" r="1.3" fill="rgba(31,119,180,0.680)"/>
<circle cx="474.65" cy="544.22" r="1.3" fill="rgba(31,119,180,0.680)"/>
<circle cx="521" cy="535" r="1.3" fill="rgba(221,112,32,0.680)"/>
<circle cx="472.29" cy="555.13" r="1.3" fill="rgba(31,119,180,0.680)"/>
<circle cx="467.04" cy="541.85" r="1.3" fill="rgba(221,112,32,0.680)"/>
<circle cx="476.68" cy="534.37" r="1.3" fill="rgba(31,119,180,0.680)"/>
<circle cx="466.74" cy="552.54" r="1.3" fill="rgba(221,112,32,0.680)"/>
<circle cx="462.91" cy="567.75" r="1.3" fill="rgba(221,112,32,0.680)"/>
<circle cx="478.65" cy="552.62" r="1.3" fill="rgba(221,112,32,0.680)"/>
<circle cx="465.64" cy="537.55" r="1.3" fill="rgba(31,119,180,0.680)"/>
<circle cx="482.36" cy="541.34" r="1.3" fill="rgba(31,119,180,0.680)"/>
<circle cx="483.2" cy="546.51" r="1.3" fill="rgba(221,112,32,0.680)"/>
<circle cx="471.93" cy="556.1" r="1.3" fill="rgba(31,119,180,0.680)"/>
<circle cx="494.63" cy="551.04" r="1.3" fill="rgba(221,112,32,0.680)"/>
<circle cx="472.83" cy="561.94" r="1.3" fill="rgba(31,119,180,0.680)"/>
<circle cx="479.15" cy="558.51" r="1.3" fill="rgba(31,119,180,0.680)"/>
<circle cx="474.1" cy="546.75" r="1.3" fill="rgba(31,119,180,0.680)"/>
<circle cx="535.27" cy="544.77" r="1.3" fill="rgba(221,112,32,0.680)"/>
<circle cx="467.41" cy="547.71" r="1.3" fill="rgba(221,112,32,0.680)"/>
<circle cx="467.32" cy="551.61" r="1.3" fill="rgba(31,119,180,0.680)"/>
<circle cx="465.38" cy="542.2" r="1.3" fill="rgba(31,119,180,0.680)"/>
<circle cx="487" cy="571" r="1.3" fill="rgba(31,119,180,0.680)"/>
<circle cx="465.83" cy="547.25" r="1.3" fill="rgba(31,119,180,0.680)"/>
<circle cx="473.03" cy="553.33" r="1.3" fill="rgba(31,119,180,0.680)"/>
<circle cx="473.35" cy="562.13" r="1.3" fill="rgba(31,119,180,0.680)"/>
<circle cx="461.48" cy="560.37" r="1.3" fill="rgba(221,112,32,0.680)"/>
<circle cx="463.31" cy="545.6" r="1.3" fill="rgba(31,119,180,0.680)"/>
<circle cx="461.73" cy="563.37" r="1.3" fill="rgba(221,112,32,0.680)"/>
<circle cx="467.6" cy="553.75" r="1.3" fill="rgba(31,119,180,0.680)"/>
<circle cx="469.03" cy="574.02" r="1.3" fill="rgba(31,119,180,0.680)"/>
<circle cx="477.33" cy="567.59" r="1.3" fill="rgba(31,119,180,0.680)"/>
<circle cx="471.4" cy="568.55" r="1.3" fill="rgba(221,112,32,0.680)"/>
<circle cx="475.73" cy="557.01" r="1.3" fill="rgba(221,112,32,0.680)"/>
<circle cx="469.6" cy="566.05" r="1.3" fill="rgba(221,112,32,0.680)"/>
<circle cx="515.78" cy="561.8" r="1.3" fill="rgba(31,119,180,0.680)"/>
<circle cx="463.73" cy="583.63" r="1.3" fill="rgba(221,112,32,0.680)"/>
<circle cx="476.82" cy="546.19" r="1.3" fill="rgba(31,119,180,0.680)"/>
<circle cx="477.05" cy="568.42" r="1.3" fill="rgba(31,119,180,0.680)"/>
<circle cx="477.55" cy="557.38" r="1.3" fill="rgba(221,112,32,0.680)"/>
<circle cx="468.54" cy="568.2" r="1.3" fill="rgba(31,119,180,0.680)"/>
<line x1="490.8" y1="534.1" x2="549.9" y2="528.2" stroke="rgb(31,119,180)" stroke-width="0.8"/>
<line x1="505.4" y1="545.7" x2="529.5" y2="545" stroke="rgb(31,119,180)" stroke-width="0.8"/>
<line x1="463.8" y1="557.4" x2="545.5" y2="549.4" stroke="rgb(31,119,180)" stroke-width="0.8"/>
<line x1="505.4" y1="561.1" x2="529.5" y2="558.1" stroke="rgb(31,119,180)" stroke-width="0.8"/>
<line x1="465.2" y1="553" x2="506" y2="551" stroke="rgb(31,119,180)" stroke-width="0.8"/>
<line x1="463.8" y1="547.2" x2="491.5" y2="544.3" stroke="rgb(31,119,180)" stroke-width="0.8"/>
<line x1="466" y1="562" x2="515" y2="556" stroke="rgb(31,119,180)" stroke-width="0.8"/>
<line x1="467" y1="552" x2="480" y2="550" stroke="rgb(31,119,180)" stroke-width="0.8"/>
<line x1="464.5" y1="555.2" x2="535.3" y2="527.5" stroke="rgb(221,112,32)" stroke-width="0.8"/>
<line x1="462.3" y1="572" x2="536.8" y2="541.4" stroke="rgb(221,112,32)" stroke-width="0.8"/>
<line x1="462.3" y1="568.4" x2="528" y2="547.2" stroke="rgb(221,112,32)" stroke-width="0.8"/>
<line x1="462.3" y1="563.3" x2="523.6" y2="548.7" stroke="rgb(221,112,32)" stroke-width="0.8"/>
<line x1="466.7" y1="542.8" x2="478.4" y2="538.4" stroke="rgb(221,112,32)" stroke-width="0.8"/>
<line x1="460.8" y1="580.8" x2="465.2" y2="582.2" stroke="rgb(221,112,32)" stroke-width="0.8"/>
<line x1="463" y1="560" x2="505" y2="550" stroke="rgb(221,112,32)" stroke-width="0.8"/>
<line x1="465" y1="565" x2="495" y2="558" stroke="rgb(221,112,32)" stroke-width="0.8"/>
<line x1="455.4" y1="520.3" x2="455.4" y2="598.6" stroke="#444" stroke-width="0.6"/>
<line x1="455.1" y1="598.3" x2="551.8" y2="598.3" stroke="#444" stroke-width="0.6"/>
<line x1="453.6" y1="533.4" x2="455.4" y2="533.4" stroke="#333" stroke-width="0.5"/>
<text x="452.1" y="535.6" font-size="5" text-anchor="end" fill="#333" transform="translate(452.1 535.6) scale(1 1.1) translate(-452.1 -535.6)">12</text>
<line x1="453.6" y1="548.7" x2="455.4" y2="548.7" stroke="#333" stroke-width="0.5"/>
<text x="452.1" y="550.9" font-size="5" text-anchor="end" fill="#333" transform="translate(452.1 550.9) scale(1 1.1) translate(-452.1 -550.9)">11</text>
<line x1="453.6" y1="564" x2="455.4" y2="564" stroke="#333" stroke-width="0.5"/>
<text x="452.1" y="566.2" font-size="5" text-anchor="end" fill="#333" transform="translate(452.1 566.2) scale(1 1.1) translate(-452.1 -566.2)">10</text>
<line x1="453.6" y1="579.3" x2="455.4" y2="579.3" stroke="#333" stroke-width="0.5"/>
<text x="452.1" y="581.5" font-size="5" text-anchor="end" fill="#333" transform="translate(452.1 581.5) scale(1 1.1) translate(-452.1 -581.5)">9</text>
<line x1="453.6" y1="594.6" x2="455.4" y2="594.6" stroke="#333" stroke-width="0.5"/>
<text x="452.1" y="596.8" font-size="5" text-anchor="end" fill="#333" transform="translate(452.1 596.8) scale(1 1.1) translate(-452.1 -596.8)">8</text>
<line x1="457.7" y1="598.3" x2="457.7" y2="600.3" stroke="#333" stroke-width="0.5"/>
<text x="459.5" y="604.3" font-size="4.8" text-anchor="end" fill="#333" transform="rotate(-45 459.5 604.3) translate(459.5 604.3) scale(1 1.1) translate(-459.5 -604.3)">0</text>
<line x1="488.27" y1="598.3" x2="488.27" y2="600.3" stroke="#333" stroke-width="0.5"/>
<text x="490.07" y="604.3" font-size="4.8" text-anchor="end" fill="#333" transform="rotate(-45 490.07 604.3) translate(490.07 604.3) scale(1 1.1) translate(-490.07 -604.3)">1</text>
<line x1="518.84" y1="598.3" x2="518.84" y2="600.3" stroke="#333" stroke-width="0.5"/>
<text x="520.64" y="604.3" font-size="4.8" text-anchor="end" fill="#333" transform="rotate(-45 520.64 604.3) translate(520.64 604.3) scale(1 1.1) translate(-520.64 -604.3)">2</text>
<line x1="549.41" y1="598.3" x2="549.41" y2="600.3" stroke="#333" stroke-width="0.5"/>
<text x="551.21" y="604.3" font-size="4.8" text-anchor="end" fill="#333" transform="rotate(-45 551.21 604.3) translate(551.21 604.3) scale(1 1.1) translate(-551.21 -604.3)">3</text>
<text x="504.2" y="612.5" font-size="5" text-anchor="middle" fill="#111" transform="translate(504.2 612.5) scale(1 1.1) translate(-504.2 -612.5)">Centroid Dist</text>
<text x="444" y="559.3" font-size="5" text-anchor="middle" fill="#111" transform="rotate(-90 444 559.3) translate(444 559.3) scale(1 1.1) translate(-444 -559.3)">Log2  sCD14</text>
<text x="554.6" y="596" font-size="4.9" text-anchor="end" fill="#111" transform="translate(554.6 596) scale(1 1.1) translate(-554.6 -596)">r: 0.38; adj. P: 7.85e-03; n = 212</text>
<circle cx="611.5" cy="543.5" r="1.3" fill="rgba(31,119,180,0.680)"/>
<circle cx="584.62" cy="567.09" r="1.3" fill="rgba(31,119,180,0.680)"/>
<circle cx="604" cy="549" r="1.3" fill="rgba(31,119,180,0.680)"/>
<circle cx="599" cy="591" r="1.3" fill="rgba(31,119,180,0.680)"/>
<circle cx="580.06" cy="583.72" r="1.3" fill="rgba(221,112,32,0.680)"/>
<circle cx="591.13" cy="569.89" r="1.3" fill="rgba(31,119,180,0.680)"/>
<circle cx="586" cy="526.5" r="1.3" fill="rgba(221,112,32,0.680)"/>
<circle cx="594.37" cy="586.5" r="1.3" fill="rgba(221,112,32,0.680)"/>
<circle cx="604.14" cy="574.5" r="1.3" fill="rgba(31,119,180,0.680)"/>
<circle cx="585.4" cy="577.39" r="1.3" fill="rgba(31,119,180,0.680)"/>
<circle cx="608.47" cy="552.67" r="1.3" fill="rgba(221,112,32,0.680)"/>
<circle cx="608.66" cy="569.2" r="1.3" fill="rgba(221,112,32,0.680)"/>
<circle cx="579.91" cy="584.72" r="1.3" fill="rgba(221,112,32,0.680)"/>
<circle cx="608.24" cy="563.94" r="1.3" fill="rgba(221,112,32,0.680)"/>
<circle cx="603.93" cy="571.07" r="1.3" fill="rgba(221,112,32,0.680)"/>
<circle cx="581.43" cy="590.21" r="1.3" fill="rgba(221,112,32,0.680)"/>
<circle cx="612.54" cy="570.04" r="1.3" fill="rgba(221,112,32,0.680)"/>
<circle cx="586.18" cy="584.73" r="1.3" fill="rgba(31,119,180,0.680)"/>
<circle cx="584.74" cy="569.49" r="1.3" fill="rgba(31,119,180,0.680)"/>
<circle cx="594.61" cy="571.2" r="1.3" fill="rgba(221,112,32,0.680)"/>
<circle cx="603.53" cy="568.5" r="1.3" fill="rgba(221,112,32,0.680)"/>
<circle cx="586.76" cy="549.09" r="1.3" fill="rgba(31,119,180,0.680)"/>
<circle cx="597.24" cy="578.57" r="1.3" fill="rgba(31,119,180,0.680)"/>
<circle cx="592.68" cy="576.64" r="1.3" fill="rgba(221,112,32,0.680)"/>
<circle cx="610" cy="538" r="1.3" fill="rgba(221,112,32,0.680)"/>
<circle cx="628.28" cy="548.41" r="1.3" fill="rgba(221,112,32,0.680)"/>
<circle cx="667" cy="554" r="1.3" fill="rgba(31,119,180,0.680)"/>
<circle cx="584.1" cy="567.71" r="1.3" fill="rgba(221,112,32,0.680)"/>
<circle cx="587.57" cy="570.98" r="1.3" fill="rgba(221,112,32,0.680)"/>
<circle cx="591.53" cy="559.91" r="1.3" fill="rgba(221,112,32,0.680)"/>
<circle cx="587" cy="532" r="1.3" fill="rgba(221,112,32,0.680)"/>
<circle cx="620.31" cy="582.52" r="1.3" fill="rgba(221,112,32,0.680)"/>
<circle cx="594.63" cy="583.31" r="1.3" fill="rgba(31,119,180,0.680)"/>
<circle cx="600.05" cy="572.44" r="1.3" fill="rgba(31,119,180,0.680)"/>
<circle cx="599.34" cy="581.35" r="1.3" fill="rgba(221,112,32,0.680)"/>
<circle cx="596" cy="550.49" r="1.3" fill="rgba(31,119,180,0.680)"/>
<circle cx="608.5" cy="581.03" r="1.3" fill="rgba(221,112,32,0.680)"/>
<circle cx="610.11" cy="572.97" r="1.3" fill="rgba(221,112,32,0.680)"/>
<circle cx="607.41" cy="551.92" r="1.3" fill="rgba(31,119,180,0.680)"/>
<circle cx="597.44" cy="563.26" r="1.3" fill="rgba(31,119,180,0.680)"/>
<circle cx="637" cy="579" r="1.3" fill="rgba(31,119,180,0.680)"/>
<circle cx="643.5" cy="539" r="1.3" fill="rgba(221,112,32,0.680)"/>
<circle cx="600.85" cy="580.97" r="1.3" fill="rgba(31,119,180,0.680)"/>
<circle cx="583.2" cy="568.15" r="1.3" fill="rgba(31,119,180,0.680)"/>
<circle cx="647.5" cy="535.5" r="1.3" fill="rgba(221,112,32,0.680)"/>
<circle cx="591.89" cy="574.36" r="1.3" fill="rgba(31,119,180,0.680)"/>
<circle cx="602" cy="541.5" r="1.3" fill="rgba(221,112,32,0.680)"/>
<circle cx="630.69" cy="566.44" r="1.3" fill="rgba(221,112,32,0.680)"/>
<circle cx="607.09" cy="556.06" r="1.3" fill="rgba(221,112,32,0.680)"/>
<circle cx="595.41" cy="560.01" r="1.3" fill="rgba(31,119,180,0.680)"/>
<circle cx="662" cy="577" r="1.3" fill="rgba(221,112,32,0.680)"/>
<circle cx="601.66" cy="569.99" r="1.3" fill="rgba(31,119,180,0.680)"/>
<circle cx="593" cy="595" r="1.3" fill="rgba(221,112,32,0.680)"/>
<circle cx="603.61" cy="555.01" r="1.3" fill="rgba(221,112,32,0.680)"/>
<circle cx="596.15" cy="570.32" r="1.3" fill="rgba(31,119,180,0.680)"/>
<circle cx="623.28" cy="574.57" r="1.3" fill="rgba(31,119,180,0.680)"/>
<circle cx="596.14" cy="586.53" r="1.3" fill="rgba(31,119,180,0.680)"/>
<circle cx="603.68" cy="568.22" r="1.3" fill="rgba(31,119,180,0.680)"/>
<circle cx="642" cy="558.5" r="1.3" fill="rgba(31,119,180,0.680)"/>
<circle cx="590.41" cy="560.56" r="1.3" fill="rgba(221,112,32,0.680)"/>
<circle cx="593.02" cy="578.16" r="1.3" fill="rgba(31,119,180,0.680)"/>
<circle cx="641.53" cy="544.68" r="1.3" fill="rgba(221,112,32,0.680)"/>
<circle cx="604.98" cy="577.31" r="1.3" fill="rgba(221,112,32,0.680)"/>
<circle cx="600.24" cy="576.46" r="1.3" fill="rgba(221,112,32,0.680)"/>
<circle cx="595.23" cy="563.78" r="1.3" fill="rgba(221,112,32,0.680)"/>
<circle cx="611.8" cy="569.89" r="1.3" fill="rgba(221,112,32,0.680)"/>
<circle cx="617.32" cy="590.64" r="1.3" fill="rgba(31,119,180,0.680)"/>
<circle cx="603.65" cy="572.47" r="1.3" fill="rgba(221,112,32,0.680)"/>
<circle cx="606.52" cy="577.86" r="1.3" fill="rgba(221,112,32,0.680)"/>
<circle cx="584.23" cy="571.98" r="1.3" fill="rgba(221,112,32,0.680)"/>
<circle cx="650.5" cy="583" r="1.3" fill="rgba(31,119,180,0.680)"/>
<circle cx="590.89" cy="580.53" r="1.3" fill="rgba(31,119,180,0.680)"/>
<circle cx="594.25" cy="590.78" r="1.3" fill="rgba(31,119,180,0.680)"/>
<circle cx="598.86" cy="576.15" r="1.3" fill="rgba(31,119,180,0.680)"/>
<circle cx="650.46" cy="573.58" r="1.3" fill="rgba(31,119,180,0.680)"/>
<circle cx="596.55" cy="578.42" r="1.3" fill="rgba(31,119,180,0.680)"/>
<circle cx="604.57" cy="573.89" r="1.3" fill="rgba(221,112,32,0.680)"/>
<circle cx="579.89" cy="583.68" r="1.3" fill="rgba(221,112,32,0.680)"/>
<circle cx="605.95" cy="582.91" r="1.3" fill="rgba(221,112,32,0.680)"/>
<circle cx="580.85" cy="572.91" r="1.3" fill="rgba(221,112,32,0.680)"/>
<circle cx="606.41" cy="573.9" r="1.3" fill="rgba(31,119,180,0.680)"/>
<circle cx="615.99" cy="570.03" r="1.3" fill="rgba(221,112,32,0.680)"/>
<circle cx="594.3" cy="572.7" r="1.3" fill="rgba(221,112,32,0.680)"/>
<circle cx="602.55" cy="552.55" r="1.3" fill="rgba(31,119,180,0.680)"/>
<circle cx="604.71" cy="574.5" r="1.3" fill="rgba(31,119,180,0.680)"/>
<circle cx="670.21" cy="543.44" r="1.3" fill="rgba(31,119,180,0.680)"/>
<circle cx="608.71" cy="566.54" r="1.3" fill="rgba(31,119,180,0.680)"/>
<circle cx="583.42" cy="557.66" r="1.3" fill="rgba(31,119,180,0.680)"/>
<circle cx="615" cy="552" r="1.3" fill="rgba(31,119,180,0.680)"/>
<circle cx="613" cy="546" r="1.3" fill="rgba(31,119,180,0.680)"/>
<circle cx="602.56" cy="590.93" r="1.3" fill="rgba(221,112,32,0.680)"/>
<circle cx="648.14" cy="566.44" r="1.3" fill="rgba(221,112,32,0.680)"/>
<circle cx="593.17" cy="572.65" r="1.3" fill="rgba(31,119,180,0.680)"/>
<circle cx="637.71" cy="585.79" r="1.3" fill="rgba(31,119,180,0.680)"/>
<circle cx="597.05" cy="569.2" r="1.3" fill="rgba(221,112,32,0.680)"/>
<circle cx="602.47" cy="564.52" r="1.3" fill="rgba(31,119,180,0.680)"/>
<circle cx="618.26" cy="563.51" r="1.3" fill="rgba(31,119,180,0.680)"/>
<circle cx="621.46" cy="577.21" r="1.3" fill="rgba(221,112,32,0.680)"/>
<circle cx="604.75" cy="572.62" r="1.3" fill="rgba(221,112,32,0.680)"/>
<circle cx="588.54" cy="556.03" r="1.3" fill="rgba(31,119,180,0.680)"/>
<circle cx="595.35" cy="567.45" r="1.3" fill="rgba(221,112,32,0.680)"/>
<circle cx="582.71" cy="565.54" r="1.3" fill="rgba(221,112,32,0.680)"/>
<circle cx="586.78" cy="579.12" r="1.3" fill="rgba(31,119,180,0.680)"/>
<circle cx="583.11" cy="577.4" r="1.3" fill="rgba(221,112,32,0.680)"/>
<circle cx="581.58" cy="575.12" r="1.3" fill="rgba(221,112,32,0.680)"/>
<circle cx="595" cy="523.5" r="1.3" fill="rgba(31,119,180,0.680)"/>
<circle cx="607.47" cy="549.18" r="1.3" fill="rgba(31,119,180,0.680)"/>
<circle cx="618.85" cy="578.75" r="1.3" fill="rgba(31,119,180,0.680)"/>
<circle cx="610.72" cy="584.84" r="1.3" fill="rgba(221,112,32,0.680)"/>
<circle cx="585.44" cy="567.37" r="1.3" fill="rgba(31,119,180,0.680)"/>
<circle cx="655.19" cy="574.94" r="1.3" fill="rgba(221,112,32,0.680)"/>
<circle cx="614.37" cy="578.28" r="1.3" fill="rgba(221,112,32,0.680)"/>
<circle cx="599.55" cy="572.87" r="1.3" fill="rgba(221,112,32,0.680)"/>
<circle cx="651.82" cy="552.16" r="1.3" fill="rgba(221,112,32,0.680)"/>
<circle cx="609.39" cy="574.79" r="1.3" fill="rgba(31,119,180,0.680)"/>
<circle cx="589" cy="595" r="1.3" fill="rgba(221,112,32,0.680)"/>
<circle cx="600.21" cy="583.28" r="1.3" fill="rgba(221,112,32,0.680)"/>
<circle cx="606.08" cy="571.8" r="1.3" fill="rgba(221,112,32,0.680)"/>
<circle cx="608.19" cy="569.18" r="1.3" fill="rgba(31,119,180,0.680)"/>
<circle cx="621.03" cy="568.88" r="1.3" fill="rgba(31,119,180,0.680)"/>
<circle cx="583.31" cy="568.98" r="1.3" fill="rgba(31,119,180,0.680)"/>
<circle cx="623.68" cy="544.32" r="1.3" fill="rgba(31,119,180,0.680)"/>
<circle cx="592.72" cy="580.71" r="1.3" fill="rgba(221,112,32,0.680)"/>
<circle cx="656" cy="588.5" r="1.3" fill="rgba(221,112,32,0.680)"/>
<circle cx="584.72" cy="575.82" r="1.3" fill="rgba(31,119,180,0.680)"/>
<circle cx="584.82" cy="574.95" r="1.3" fill="rgba(31,119,180,0.680)"/>
<circle cx="601.06" cy="574.29" r="1.3" fill="rgba(221,112,32,0.680)"/>
<circle cx="582.62" cy="565.48" r="1.3" fill="rgba(221,112,32,0.680)"/>
<circle cx="593.08" cy="575.82" r="1.3" fill="rgba(221,112,32,0.680)"/>
<circle cx="654.35" cy="547.3" r="1.3" fill="rgba(221,112,32,0.680)"/>
<circle cx="588.41" cy="572.26" r="1.3" fill="rgba(221,112,32,0.680)"/>
<circle cx="612.12" cy="556.62" r="1.3" fill="rgba(221,112,32,0.680)"/>
<circle cx="633.56" cy="579.78" r="1.3" fill="rgba(31,119,180,0.680)"/>
<circle cx="611.46" cy="572.29" r="1.3" fill="rgba(221,112,32,0.680)"/>
<circle cx="595.51" cy="574.21" r="1.3" fill="rgba(31,119,180,0.680)"/>
<circle cx="590.79" cy="567.94" r="1.3" fill="rgba(221,112,32,0.680)"/>
<circle cx="611" cy="591" r="1.3" fill="rgba(31,119,180,0.680)"/>
<circle cx="584.62" cy="561.85" r="1.3" fill="rgba(31,119,180,0.680)"/>
<circle cx="613.34" cy="553.07" r="1.3" fill="rgba(31,119,180,0.680)"/>
<circle cx="604.35" cy="568.54" r="1.3" fill="rgba(221,112,32,0.680)"/>
<circle cx="595.47" cy="579.37" r="1.3" fill="rgba(221,112,32,0.680)"/>
<circle cx="637.15" cy="566.42" r="1.3" fill="rgba(31,119,180,0.680)"/>
<circle cx="609.87" cy="551.25" r="1.3" fill="rgba(31,119,180,0.680)"/>
<circle cx="611.02" cy="583.13" r="1.3" fill="rgba(221,112,32,0.680)"/>
<circle cx="595.3" cy="583.32" r="1.3" fill="rgba(221,112,32,0.680)"/>
<circle cx="670" cy="545.5" r="1.3" fill="rgba(31,119,180,0.680)"/>
<circle cx="600.25" cy="568.53" r="1.3" fill="rgba(31,119,180,0.680)"/>
<circle cx="590.74" cy="579.96" r="1.3" fill="rgba(221,112,32,0.680)"/>
<circle cx="610.55" cy="542.42" r="1.3" fill="rgba(31,119,180,0.680)"/>
<circle cx="591.68" cy="564.99" r="1.3" fill="rgba(221,112,32,0.680)"/>
<circle cx="601.12" cy="579.27" r="1.3" fill="rgba(221,112,32,0.680)"/>
<circle cx="610.72" cy="574.42" r="1.3" fill="rgba(221,112,32,0.680)"/>
<circle cx="606.2" cy="567.83" r="1.3" fill="rgba(31,119,180,0.680)"/>
<circle cx="627" cy="578.5" r="1.3" fill="rgba(31,119,180,0.680)"/>
<circle cx="593.21" cy="574.7" r="1.3" fill="rgba(31,119,180,0.680)"/>
<circle cx="596" cy="542.5" r="1.3" fill="rgba(31,119,180,0.680)"/>
<circle cx="593.13" cy="582.8" r="1.3" fill="rgba(31,119,180,0.680)"/>
<circle cx="595.11" cy="565.18" r="1.3" fill="rgba(31,119,180,0.680)"/>
<circle cx="592.61" cy="575.39" r="1.3" fill="rgba(221,112,32,0.680)"/>
<circle cx="588.65" cy="575.11" r="1.3" fill="rgba(31,119,180,0.680)"/>
<circle cx="641.33" cy="574.51" r="1.3" fill="rgba(31,119,180,0.680)"/>
<circle cx="605.5" cy="573.08" r="1.3" fill="rgba(31,119,180,0.680)"/>
<circle cx="591" cy="544" r="1.3" fill="rgba(221,112,32,0.680)"/>
<circle cx="594" cy="546" r="1.3" fill="rgba(31,119,180,0.680)"/>
<circle cx="585.39" cy="580.89" r="1.3" fill="rgba(31,119,180,0.680)"/>
<circle cx="585.15" cy="573.48" r="1.3" fill="rgba(31,119,180,0.680)"/>
<circle cx="587.88" cy="582.93" r="1.3" fill="rgba(31,119,180,0.680)"/>
<circle cx="593.66" cy="578.38" r="1.3" fill="rgba(31,119,180,0.680)"/>
<circle cx="595.1" cy="560.92" r="1.3" fill="rgba(31,119,180,0.680)"/>
<circle cx="623" cy="582" r="1.3" fill="rgba(221,112,32,0.680)"/>
<circle cx="596.45" cy="575.66" r="1.3" fill="rgba(31,119,180,0.680)"/>
<circle cx="604.16" cy="568.75" r="1.3" fill="rgba(31,119,180,0.680)"/>
<circle cx="597.97" cy="580.6" r="1.3" fill="rgba(31,119,180,0.680)"/>
<circle cx="614.51" cy="575.2" r="1.3" fill="rgba(31,119,180,0.680)"/>
<circle cx="582.57" cy="562.67" r="1.3" fill="rgba(221,112,32,0.680)"/>
<circle cx="588.5" cy="559.17" r="1.3" fill="rgba(221,112,32,0.680)"/>
<circle cx="604.61" cy="579.55" r="1.3" fill="rgba(221,112,32,0.680)"/>
<circle cx="585.77" cy="562.29" r="1.3" fill="rgba(31,119,180,0.680)"/>
<circle cx="605.52" cy="565.25" r="1.3" fill="rgba(31,119,180,0.680)"/>
<circle cx="594.52" cy="574.3" r="1.3" fill="rgba(221,112,32,0.680)"/>
<circle cx="605.14" cy="580.23" r="1.3" fill="rgba(31,119,180,0.680)"/>
<circle cx="603.52" cy="566.79" r="1.3" fill="rgba(31,119,180,0.680)"/>
<circle cx="632.5" cy="562" r="1.3" fill="rgba(221,112,32,0.680)"/>
<circle cx="596.41" cy="555.59" r="1.3" fill="rgba(31,119,180,0.680)"/>
<circle cx="599.17" cy="556.58" r="1.3" fill="rgba(221,112,32,0.680)"/>
<circle cx="594.97" cy="583.5" r="1.3" fill="rgba(31,119,180,0.680)"/>
<circle cx="608.33" cy="562.87" r="1.3" fill="rgba(221,112,32,0.680)"/>
<circle cx="655.19" cy="548.28" r="1.3" fill="rgba(221,112,32,0.680)"/>
<circle cx="587.1" cy="563.83" r="1.3" fill="rgba(31,119,180,0.680)"/>
<circle cx="667.01" cy="563.81" r="1.3" fill="rgba(31,119,180,0.680)"/>
<circle cx="616.37" cy="557.52" r="1.3" fill="rgba(221,112,32,0.680)"/>
<circle cx="596.09" cy="580.29" r="1.3" fill="rgba(221,112,32,0.680)"/>
<circle cx="603.75" cy="566.21" r="1.3" fill="rgba(31,119,180,0.680)"/>
<circle cx="599.38" cy="568.62" r="1.3" fill="rgba(31,119,180,0.680)"/>
<circle cx="587.76" cy="580.18" r="1.3" fill="rgba(221,112,32,0.680)"/>
<circle cx="613.41" cy="576.05" r="1.3" fill="rgba(31,119,180,0.680)"/>
<circle cx="585.55" cy="587.91" r="1.3" fill="rgba(221,112,32,0.680)"/>
<circle cx="645.36" cy="565.69" r="1.3" fill="rgba(31,119,180,0.680)"/>
<circle cx="589.28" cy="582.96" r="1.3" fill="rgba(31,119,180,0.680)"/>
<circle cx="582.61" cy="576.52" r="1.3" fill="rgba(221,112,32,0.680)"/>
<circle cx="593.13" cy="571.01" r="1.3" fill="rgba(221,112,32,0.680)"/>
<circle cx="614.75" cy="571.9" r="1.3" fill="rgba(31,119,180,0.680)"/>
<circle cx="593.42" cy="588.48" r="1.3" fill="rgba(221,112,32,0.680)"/>
<circle cx="593.06" cy="567.29" r="1.3" fill="rgba(221,112,32,0.680)"/>
<circle cx="655" cy="541.5" r="1.3" fill="rgba(31,119,180,0.680)"/>
<circle cx="602.33" cy="570.31" r="1.3" fill="rgba(221,112,32,0.680)"/>
<circle cx="593.29" cy="566.91" r="1.3" fill="rgba(221,112,32,0.680)"/>
<circle cx="605.67" cy="562.51" r="1.3" fill="rgba(221,112,32,0.680)"/>
<circle cx="604.76" cy="565.43" r="1.3" fill="rgba(31,119,180,0.680)"/>
<circle cx="654.5" cy="569" r="1.3" fill="rgba(31,119,180,0.680)"/>
<circle cx="610.15" cy="576.85" r="1.3" fill="rgba(31,119,180,0.680)"/>
<circle cx="583.73" cy="565.22" r="1.3" fill="rgba(221,112,32,0.680)"/>
<circle cx="606.94" cy="587.24" r="1.3" fill="rgba(31,119,180,0.680)"/>
<line x1="611" y1="545" x2="669.4" y2="543.5" stroke="rgb(31,119,180)" stroke-width="0.8"/>
<line x1="584.8" y1="563.3" x2="666.5" y2="561.5" stroke="rgb(31,119,180)" stroke-width="0.8"/>
<line x1="583.3" y1="556" x2="602.3" y2="553.8" stroke="rgb(31,119,180)" stroke-width="0.8"/>
<line x1="584.8" y1="573.5" x2="650.5" y2="572.7" stroke="rgb(31,119,180)" stroke-width="0.8"/>
<line x1="587.7" y1="577.9" x2="640.2" y2="577.1" stroke="rgb(31,119,180)" stroke-width="0.8"/>
<line x1="586.2" y1="582.2" x2="637.3" y2="584.4" stroke="rgb(31,119,180)" stroke-width="0.8"/>
<line x1="606" y1="552.5" x2="612" y2="552.5" stroke="rgb(31,119,180)" stroke-width="0.8"/>
<line x1="585" y1="568" x2="645" y2="566.5" stroke="rgb(31,119,180)" stroke-width="0.8"/>
<line x1="582.6" y1="561.1" x2="643.2" y2="545" stroke="rgb(221,112,32)" stroke-width="0.8"/>
<line x1="583.3" y1="564.7" x2="654.8" y2="547.9" stroke="rgb(221,112,32)" stroke-width="0.8"/>
<line x1="583.3" y1="566.2" x2="651.9" y2="550.1" stroke="rgb(221,112,32)" stroke-width="0.8"/>
<line x1="580.4" y1="577.9" x2="649" y2="566.9" stroke="rgb(221,112,32)" stroke-width="0.8"/>
<line x1="580.4" y1="582.2" x2="655.6" y2="574.9" stroke="rgb(221,112,32)" stroke-width="0.8"/>
<line x1="584.8" y1="586.6" x2="619.8" y2="580.8" stroke="rgb(221,112,32)" stroke-width="0.8"/>
<line x1="581.8" y1="589.5" x2="611" y2="583.7" stroke="rgb(221,112,32)" stroke-width="0.8"/>
<line x1="582" y1="573" x2="630" y2="567" stroke="rgb(221,112,32)" stroke-width="0.8"/>
<line x1="576.1" y1="520.3" x2="576.1" y2="598.9" stroke="#444" stroke-width="0.6"/>
<line x1="575.8" y1="598.6" x2="674.6" y2="598.6" stroke="#444" stroke-width="0.6"/>
<line x1="574.3" y1="536.11" x2="576.1" y2="536.11" stroke="#333" stroke-width="0.5"/>
<text x="572.8" y="538.31" font-size="5" text-anchor="end" fill="#333" transform="translate(572.8 538.31) scale(1 1.1) translate(-572.8 -538.31)">3</text>
<line x1="574.3" y1="556.6" x2="576.1" y2="556.6" stroke="#333" stroke-width="0.5"/>
<text x="572.8" y="558.8" font-size="5" text-anchor="end" fill="#333" transform="translate(572.8 558.8) scale(1 1.1) translate(-572.8 -558.8)">0</text>
<line x1="574.3" y1="577.09" x2="576.1" y2="577.09" stroke="#333" stroke-width="0.5"/>
<text x="572.8" y="579.29" font-size="5" text-anchor="end" fill="#333" transform="translate(572.8 579.29) scale(1 1.1) translate(-572.8 -579.29)">-3</text>
<line x1="574.3" y1="597.58" x2="576.1" y2="597.58" stroke="#333" stroke-width="0.5"/>
<text x="572.8" y="599.78" font-size="5" text-anchor="end" fill="#333" transform="translate(572.8 599.78) scale(1 1.1) translate(-572.8 -599.78)">-6</text>
<line x1="577.7" y1="598.6" x2="577.7" y2="600.6" stroke="#333" stroke-width="0.5"/>
<text x="579.5" y="604.6" font-size="4.8" text-anchor="end" fill="#333" transform="rotate(-45 579.5 604.6) translate(579.5 604.6) scale(1 1.1) translate(-579.5 -604.6)">0</text>
<line x1="608.6" y1="598.6" x2="608.6" y2="600.6" stroke="#333" stroke-width="0.5"/>
<text x="610.4" y="604.6" font-size="4.8" text-anchor="end" fill="#333" transform="rotate(-45 610.4 604.6) translate(610.4 604.6) scale(1 1.1) translate(-610.4 -604.6)">1</text>
<line x1="639.5" y1="598.6" x2="639.5" y2="600.6" stroke="#333" stroke-width="0.5"/>
<text x="641.3" y="604.6" font-size="4.8" text-anchor="end" fill="#333" transform="rotate(-45 641.3 604.6) translate(641.3 604.6) scale(1 1.1) translate(-641.3 -604.6)">2</text>
<line x1="670.4" y1="598.6" x2="670.4" y2="600.6" stroke="#333" stroke-width="0.5"/>
<text x="672.2" y="604.6" font-size="4.8" text-anchor="end" fill="#333" transform="rotate(-45 672.2 604.6) translate(672.2 604.6) scale(1 1.1) translate(-672.2 -604.6)">3</text>
<text x="625.95" y="612.8" font-size="5" text-anchor="middle" fill="#111" transform="translate(625.95 612.8) scale(1 1.1) translate(-625.95 -612.8)">Centroid Dist</text>
<text x="565" y="559.3" font-size="5" text-anchor="middle" fill="#111" transform="rotate(-90 565 559.3) translate(565 559.3) scale(1 1.1) translate(-565 -559.3)">Log2  CRP</text>
<text x="674.7" y="596.3" font-size="4.9" text-anchor="end" fill="#111" transform="translate(674.7 596.3) scale(1 1.1) translate(-674.7 -596.3)">r: 0.35; adj. P: 2.33e-02; n = 195</text>
</svg></body></html>
